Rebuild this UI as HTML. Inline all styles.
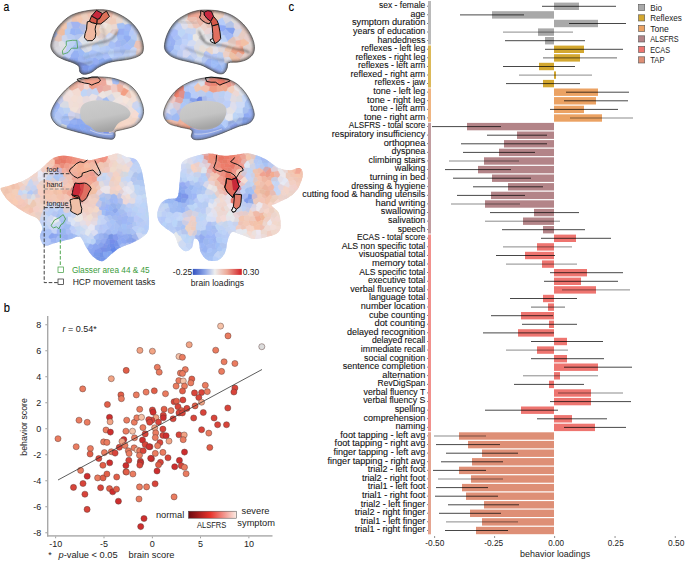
<!DOCTYPE html>
<html><head><meta charset="utf-8"><style>
html,body{margin:0;padding:0;background:#fff;overflow:hidden;width:685px;height:561px;}
svg{display:block;}
text{font-family:"Liberation Sans",sans-serif;fill:#222;}
.pl{font-size:13.5px;fill:#000;stroke:#000;stroke-width:0.12px;}
.lb{font-size:9.6px;fill:#111;stroke:#111;stroke-width:0.1px;}
.tk{font-size:9px;fill:#222;}
.ax{font-size:9.3px;fill:#222;}
.lg{font-size:9px;fill:#222;}
.sm{font-size:7.2px;fill:#222;}
.lgA{font-size:8.5px;fill:#222;}
</style></head><body>
<svg width="685" height="561" viewBox="0 0 685 561">
<rect width="685" height="561" fill="#fff"/>
<defs><filter id="bl" x="-30%" y="-30%" width="160%" height="160%"><feGaussianBlur stdDeviation="1.7"/></filter><filter id="bl2" x="-30%" y="-30%" width="160%" height="160%"><feGaussianBlur stdDeviation="0.5"/></filter><filter id="bl3" x="-30%" y="-30%" width="160%" height="160%"><feGaussianBlur stdDeviation="1.0"/></filter><linearGradient id="gGray" x1="0" y1="0" x2="0.3" y2="1"><stop offset="0" stop-color="#cdcdcd"/><stop offset="0.6" stop-color="#c4c4c4"/><stop offset="1" stop-color="#a4a4a4"/></linearGradient><linearGradient id="gBL" x1="0" x2="1"><stop offset="0" stop-color="#3452c0"/><stop offset="0.25" stop-color="#8fa8e8"/><stop offset="0.45" stop-color="#eeeeee"/><stop offset="0.7" stop-color="#eda896"/><stop offset="1" stop-color="#d21f26"/></linearGradient></defs>
<clipPath id="cLL"><path d="M50.9,47.3 C50.4,44.5 51.5,41.1 52.5,38.0 C53.5,34.9 54.4,31.7 56.8,28.4 C59.2,25.1 63.6,20.7 67.0,18.1 C70.4,15.5 73.1,14.3 77.2,13.0 C81.3,11.7 86.9,10.6 91.8,10.1 C96.7,9.6 102.0,9.5 106.4,10.1 C110.8,10.7 114.1,12.0 118.0,13.8 C121.9,15.6 126.4,18.2 129.8,21.1 C133.2,24.0 136.3,27.7 138.5,31.3 C140.7,35.0 142.2,39.6 142.9,43.0 C143.6,46.4 143.6,49.5 142.9,51.7 C142.2,53.9 140.7,54.9 138.5,56.1 C136.3,57.3 133.7,58.1 129.8,59.0 C125.9,59.9 119.1,60.5 115.2,61.2 C111.3,61.9 109.3,62.3 106.4,63.4 C103.5,64.5 100.0,66.3 97.6,67.8 C95.2,69.3 94.0,71.1 91.8,72.2 C89.6,73.3 86.5,74.3 84.5,74.3 C82.5,74.3 81.1,73.5 80.1,72.2 C79.1,70.9 79.9,67.9 78.7,66.3 C77.5,64.7 75.5,63.9 72.8,62.7 C70.1,61.5 65.5,60.4 62.6,59.0 C59.7,57.6 57.2,56.6 55.3,54.6 C53.3,52.6 51.4,50.1 50.9,47.3Z"/></clipPath><g clip-path="url(#cLL)"><path d="M50.9,47.3 C50.4,44.5 51.5,41.1 52.5,38.0 C53.5,34.9 54.4,31.7 56.8,28.4 C59.2,25.1 63.6,20.7 67.0,18.1 C70.4,15.5 73.1,14.3 77.2,13.0 C81.3,11.7 86.9,10.6 91.8,10.1 C96.7,9.6 102.0,9.5 106.4,10.1 C110.8,10.7 114.1,12.0 118.0,13.8 C121.9,15.6 126.4,18.2 129.8,21.1 C133.2,24.0 136.3,27.7 138.5,31.3 C140.7,35.0 142.2,39.6 142.9,43.0 C143.6,46.4 143.6,49.5 142.9,51.7 C142.2,53.9 140.7,54.9 138.5,56.1 C136.3,57.3 133.7,58.1 129.8,59.0 C125.9,59.9 119.1,60.5 115.2,61.2 C111.3,61.9 109.3,62.3 106.4,63.4 C103.5,64.5 100.0,66.3 97.6,67.8 C95.2,69.3 94.0,71.1 91.8,72.2 C89.6,73.3 86.5,74.3 84.5,74.3 C82.5,74.3 81.1,73.5 80.1,72.2 C79.1,70.9 79.9,67.9 78.7,66.3 C77.5,64.7 75.5,63.9 72.8,62.7 C70.1,61.5 65.5,60.4 62.6,59.0 C59.7,57.6 57.2,56.6 55.3,54.6 C53.3,52.6 51.4,50.1 50.9,47.3Z" fill="#e9dcd6"/><g fill="currentColor" stroke="currentColor" stroke-width="0.5"><path color="#edc3b4" d="M77,12 81,14 84,13 85,8 80,7 78,8Z"/><path color="#f3ccba" d="M84,13 85,8 86,6 89,7 89,12 87,14Z"/><path color="#f0c6b4" d="M89,7 92,6 96,8 96,9 94,13 89,12Z"/><path color="#eac0b1" d="M103,7 98,6 96,8 96,9 101,14 103,12Z"/><path color="#eab7a8" d="M106,6 109,10 108,12 103,12 103,7 106,5Z"/><path color="#eac0ae" d="M106,6 113,5 115,10 114,11 109,10Z"/><path color="#ead2c9" d="M119,15 124,10 124,8 120,6 117,10Z"/><path color="#ead5cf" d="M69,16 64,18 61,15 61,13 63,11 68,14Z"/><path color="#e7cfc9" d="M69,16 72,18 74,16 76,13 71,9 68,14Z"/><path color="#f0c6b1" d="M74,16 77,19 81,16 81,14 77,12 76,13Z"/><path color="#edcfbd" d="M81,14 84,13 87,14 89,18 89,19 83,20 81,16Z"/><path color="#f0c3b1" d="M87,14 89,12 94,13 94,15 89,18Z"/><path color="#eac3ba" d="M101,14 96,9 94,13 94,15 97,17 101,16Z"/><path color="#edb7a8" d="M108,12 107,16 103,18 101,16 101,14 103,12Z"/><path color="#edbaa8" d="M108,12 107,16 111,18 112,18 114,11 109,10Z"/><path color="#f0d2c3" d="M115,10 117,10 119,15 119,16 116,19 112,18 114,11Z"/><path color="#e7d5d5" d="M119,16 123,17 126,16 126,12 124,10 119,15Z"/><path color="#eaccba" d="M65,23 60,24 60,24 58,18 61,15 64,18Z"/><path color="#e1cfc9" d="M69,16 64,18 65,23 67,23 71,22 72,22 72,18Z"/><path color="#edc3ae" d="M72,18 72,22 78,22 77,19 74,16Z"/><path color="#f3c6ae" d="M81,16 77,19 78,22 81,24 81,24 83,20ZM100,28 101,24 96,22 92,23 93,28 98,29 99,29Z"/><path color="#edccc0" d="M83,20 81,24 86,25 91,23 89,19Z"/><path color="#edc9ba" d="M89,19 91,23 92,23 96,22 97,17 94,15 89,18Z"/><path color="#f0c6b7" d="M103,18 103,22 101,24 96,22 97,17 101,16Z"/><path color="#eacfc3" d="M107,16 111,18 109,24 108,24 103,22 103,18ZM144,47 145,51 141,53 139,49 143,46Z"/><path color="#f0ccba" d="M116,19 117,24 117,24 111,25 109,24 111,18 112,18Z"/><path color="#ead8cf" d="M119,16 123,17 123,23 117,24 116,19ZM140,41 143,46 144,47 151,44 143,38Z"/><path color="#dbdbde" d="M123,17 126,16 127,17 128,24 125,25 123,23Z"/><path color="#cfd8e4" d="M134,19 134,23 132,25 128,24 127,17 131,16Z"/><path color="#ccc6cf" d="M50,31 55,31 55,25 52,23 49,25 49,31Z"/><path color="#d5c6c3" d="M61,28 60,24 60,24 55,25 55,31 57,33Z"/><path color="#f0c6ae" d="M67,23 67,29 65,30 61,28 60,24 65,23Z"/><path color="#bdc9ea" d="M67,23 67,29 71,29 73,28 71,22Z"/><path color="#a2b4f0" d="M71,22 73,28 75,29 79,28 81,24 78,22 72,22Z"/><path color="#b1bde7" d="M86,25 86,29 84,34 79,28 81,24 81,24Z"/><path color="#d5c9cf" d="M86,25 86,29 92,30 93,28 92,23 91,23ZM49,48 42,43 19,50 46,50Z"/><path color="#f0e4de" d="M108,24 106,29 100,28 101,24 103,22Z"/><path color="#eaded2" d="M111,25 109,24 108,24 106,29 109,33 110,33 112,30Z"/><path color="#ead8d2" d="M111,25 117,24 118,29 112,30Z"/><path color="#a5c0f3" d="M117,24 117,24 118,29 119,29 124,29 125,25 123,23ZM78,51 74,51 72,47 75,44 81,48 81,49Z"/><path color="#9fb7f6" d="M130,31 131,30 132,25 128,24 125,25 124,29 124,30Z"/><path color="#bdccf3" d="M134,31 139,29 138,25 134,23 132,25 131,30Z"/><path color="#abbae7" d="M55,38 50,35 50,31 55,31 57,33 58,34Z"/><path color="#edbda2" d="M62,36 65,35 65,30 61,28 57,33 58,34Z"/><path color="#b4ccf6" d="M65,35 65,30 67,29 71,29 70,34 67,36Z"/><path color="#99b4f6" d="M71,29 70,34 75,36 76,35 75,29 73,28Z"/><path color="#9cb7f3" d="M84,34 84,34 79,28 75,29 76,35Z"/><path color="#cfccdb" d="M84,34 84,34 86,29 92,30 91,35 85,36 84,34Z"/><path color="#eac9ba" d="M92,30 93,28 98,29 95,35 93,36 91,35Z"/><path color="#edc6b1" d="M101,33 99,29 98,29 95,35 98,37Z"/><path color="#ead8cc" d="M106,36 109,33 106,29 100,28 99,29 101,33Z"/><path color="#dbc3c0" d="M117,35 119,29 118,29 112,30 110,33 114,35 117,36Z"/><path color="#96aef3" d="M124,35 117,35 119,29 124,29 124,30ZM93,64 97,65 98,65 99,60 95,57 93,58Z"/><path color="#99b7f6" d="M124,36 129,36 130,31 124,30 124,35Z"/><path color="#b4c9f9" d="M130,31 131,30 134,31 134,34 131,37 129,36ZM119,57 118,63 115,64 113,62 111,58 111,58 114,56Z"/><path color="#c3cced" d="M134,34 137,35 141,32 141,31 139,29 134,31Z"/><path color="#c6c3d2" d="M55,41 52,43 47,40 47,39 50,35 55,38Z"/><path color="#e4c3b7" d="M62,41 62,36 58,34 55,38 55,41 59,42Z"/><path color="#ccd5ed" d="M65,43 68,39 67,36 65,35 62,36 62,41Z"/><path color="#baccf3" d="M68,39 67,36 70,34 75,36 75,39 72,40Z"/><path color="#b4c6f0" d="M76,40 75,39 75,36 76,35 84,34 84,34 78,40Z"/><path color="#dee1ea" d="M78,40 84,34 85,36 86,38 82,44Z"/><path color="#e7dee4" d="M91,35 93,36 93,39 89,42 86,38 85,36Z"/><path color="#e4d8d8" d="M98,37 95,35 93,36 93,39 97,43 100,40Z"/><path color="#deccc9" d="M106,37 106,36 101,33 98,37 100,40 102,40ZM144,47 145,51 148,56 149,56 233,41 218,40 151,44Z"/><path color="#ccd5f3" d="M110,42 111,41 114,35 110,33 109,33 106,36 106,37Z"/><path color="#c0d2f3" d="M115,43 111,41 114,35 117,36 118,40Z"/><path color="#9fbaf6" d="M124,36 124,39 120,41 118,40 117,36 117,35 124,35ZM89,66 85,64 86,59 90,57 93,58 93,64Z"/><path color="#93aef3" d="M124,36 124,39 127,43 131,39 131,37 129,36Z"/><path color="#b7ccf3" d="M131,37 134,34 137,35 137,41 136,41 131,39Z"/><path color="#d8d5db" d="M137,35 137,41 140,41 143,38 144,36 141,32Z"/><path color="#d2cccc" d="M52,48 52,43 47,40 42,43 49,48Z"/><path color="#d5d2d8" d="M59,42 55,41 52,43 52,48 54,49 59,46Z"/><path color="#e1e1e4" d="M67,46 60,47 59,46 59,42 62,41 65,43Z"/><path color="#c3d8f6" d="M67,46 67,46 68,46 72,40 68,39 65,43Z"/><path color="#bdd2f3" d="M68,46 72,47 75,44 76,40 75,39 72,40Z"/><path color="#abc3f6" d="M76,40 75,44 81,48 83,46 82,44 78,40Z"/><path color="#d5deea" d="M82,44 86,38 89,42 89,44 85,46 83,46Z"/><path color="#e4e1e1" d="M96,43 97,43 93,39 89,42 89,44 92,46Z"/><path color="#c0cfe1" d="M105,46 100,48 96,43 97,43 100,40 102,40Z"/><path color="#c9cfe1" d="M108,46 110,42 106,37 102,40 105,46 106,46Z"/><path color="#a8c0f6" d="M116,47 113,49 111,49 108,46 110,42 111,41 115,43Z"/><path color="#a2b7f3" d="M121,46 120,47 116,47 115,43 118,40 120,41Z"/><path color="#9cb7f0" d="M127,43 124,39 120,41 121,46 123,46 127,43Z"/><path color="#a5c0f0" d="M127,43 131,39 136,41 134,47 132,48 127,43Z"/><path color="#eac3b7" d="M137,41 136,41 134,47 137,49 139,49 143,46 140,41Z"/><path color="#d2cccf" d="M54,49 52,48 49,48 46,50 49,55 54,50Z"/><path color="#d8d8de" d="M60,47 60,52 57,53 54,50 54,49 59,46Z"/><path color="#dedee4" d="M67,46 67,46 66,51 64,52 60,52 60,47Z"/><path color="#bdcff9" d="M67,46 68,46 72,47 74,51 71,55 66,51Z"/><path color="#d2d8e7" d="M85,53 81,49 81,48 83,46 85,46 89,52 89,52Z"/><path color="#dbdee7" d="M92,50 92,46 89,44 85,46 89,52Z"/><path color="#bdd2f6" d="M98,52 99,52 100,48 96,43 92,46 92,50Z"/><path color="#b7ccf6" d="M105,53 103,54 99,52 100,48 105,46 106,46Z"/><path color="#b1c9f9" d="M108,53 111,49 108,46 106,46 105,53Z"/><path color="#aec3f6" d="M116,47 113,49 114,53 120,52 120,47Z"/><path color="#a5bdf3" d="M121,46 120,47 120,52 123,56 123,56 126,50 123,46Z"/><path color="#a5bdf9" d="M127,43 132,48 130,50 130,50 126,50 123,46Z"/><path color="#c6d5f6" d="M135,55 130,50 132,48 134,47 137,49 136,55ZM135,55 131,58 129,57 130,50 130,50Z"/><path color="#d2d2de" d="M54,50 49,55 49,57 56,58 57,58 57,53Z"/><path color="#cfd2de" d="M64,52 64,56 60,60 57,58 57,53 60,52Z"/><path color="#c0cff9" d="M64,52 64,56 69,59 71,57 71,55 66,51Z"/><path color="#96b1f3" d="M78,58 80,56 78,51 74,51 71,55 71,57 73,58Z"/><path color="#9cbaf6" d="M83,56 85,53 81,49 78,51 80,56Z"/><path color="#a2c0f3" d="M86,59 83,56 85,53 89,52 90,57Z"/><path color="#abc3f9" d="M90,57 89,52 89,52 92,50 98,52 95,57 93,58Z"/><path color="#a2bdf3" d="M98,52 99,52 103,54 103,58 99,60 95,57Z"/><path color="#abc0f9" d="M108,53 111,58 111,58 105,60 103,58 103,54 105,53Z"/><path color="#bad2f9" d="M108,53 111,58 114,56 114,53 113,49 111,49Z"/><path color="#b1c6f6" d="M120,52 114,53 114,56 119,57 123,56Z"/><path color="#baccf0" d="M123,56 126,50 130,50 129,57 125,57Z"/><path color="#eacfc6" d="M136,55 139,57 141,56 141,53 139,49 137,49Z"/><path color="#e4ccc6" d="M145,51 141,53 141,56 148,56Z"/><path color="#a8bdea" d="M69,59 67,63 64,64 61,62 60,60 64,56Z"/><path color="#93abf0" d="M74,64 69,65 67,63 69,59 71,57 73,58Z"/><path color="#8da8f0" d="M76,65 79,62 78,58 73,58 74,64Z"/><path color="#9fb7f3" d="M79,62 85,64 85,64 86,59 83,56 80,56 78,58Z"/><path color="#8dabf0" d="M103,58 105,60 105,65 103,67 98,65 99,60Z"/><path color="#8daef3" d="M111,58 105,60 105,65 108,66 113,62Z"/><path color="#b7ccf0" d="M123,56 123,56 125,57 125,61 121,64 118,63 119,57Z"/><path color="#c9d5e4" d="M125,57 129,57 131,58 133,63 128,65 125,61Z"/><path color="#cfd2e4" d="M135,55 131,58 133,63 136,64 139,63 139,57 136,55Z"/><path color="#96aeed" d="M76,65 76,68 75,69 70,68 69,65 74,64Z"/><path color="#7e96e7" d="M76,65 76,68 79,70 82,69 85,64 79,62Z"/><path color="#7b96e7" d="M89,66 89,67 88,72 87,72 82,69 85,64 85,64Z"/><path color="#84a2f0" d="M89,66 89,67 94,70 97,68 97,65 93,64Z"/><path color="#8dabf3" d="M97,65 98,65 103,67 103,67 99,71 97,68Z"/><path color="#9cbaf0" d="M113,62 108,66 111,70 114,70 115,68 115,64Z"/><path color="#c6cce7" d="M125,61 128,65 127,69 127,69 122,68 121,64Z"/><path color="#7e99e4" d="M76,68 75,69 73,74 75,76 80,74 79,70Z"/><path color="#7893e4" d="M82,69 87,72 82,76 80,74 79,70Z"/><path color="#81a2f3" d="M88,72 91,75 95,74 94,70 89,67Z"/><path color="#87a5f3" d="M94,70 95,74 98,75 98,75 99,71 97,68Z"/><path color="#90aef3" d="M103,67 99,71 98,75 103,76 105,73Z"/><path color="#7893e7" d="M87,72 82,76 86,93 91,75 88,72Z"/></g><path d="M80,47 C88,44.5 96,43 104,41.5 S114,37 117,32" fill="none" stroke="#3a3a3a" stroke-linecap="round" filter="url(#bl3)" stroke-width="2.0" stroke-opacity="0.55"/><path d="M80,45 C88,42.5 96,41 104,39.5 S112,35 115,31" fill="none" stroke="#fff" stroke-linecap="round" filter="url(#bl3)" stroke-width="2" stroke-opacity="0.5"/><path d="M84,58 C96,54 112,50 138,52" fill="none" stroke="#4a4a4a" stroke-linecap="round" filter="url(#bl3)" stroke-width="1.2" stroke-opacity="0.35"/><path d="M62,59 C68,61 74,62.5 80,63.5 S88,63 92,62" fill="none" stroke="#4a4a4a" stroke-linecap="round" filter="url(#bl3)" stroke-width="1.4" stroke-opacity="0.45"/><path d="M100,22 C104,30 106,36 104,42" fill="none" stroke="#4a4a4a" stroke-linecap="round" filter="url(#bl3)" stroke-width="1.2" stroke-opacity="0.35"/><path d="M50.9,47.3 C50.4,44.5 51.5,41.1 52.5,38.0 C53.5,34.9 54.4,31.7 56.8,28.4 C59.2,25.1 63.6,20.7 67.0,18.1 C70.4,15.5 73.1,14.3 77.2,13.0 C81.3,11.7 86.9,10.6 91.8,10.1 C96.7,9.6 102.0,9.5 106.4,10.1 C110.8,10.7 114.1,12.0 118.0,13.8 C121.9,15.6 126.4,18.2 129.8,21.1 C133.2,24.0 136.3,27.7 138.5,31.3 C140.7,35.0 142.2,39.6 142.9,43.0 C143.6,46.4 143.6,49.5 142.9,51.7 C142.2,53.9 140.7,54.9 138.5,56.1 C136.3,57.3 133.7,58.1 129.8,59.0 C125.9,59.9 119.1,60.5 115.2,61.2 C111.3,61.9 109.3,62.3 106.4,63.4 C103.5,64.5 100.0,66.3 97.6,67.8 C95.2,69.3 94.0,71.1 91.8,72.2 C89.6,73.3 86.5,74.3 84.5,74.3 C82.5,74.3 81.1,73.5 80.1,72.2 C79.1,70.9 79.9,67.9 78.7,66.3 C77.5,64.7 75.5,63.9 72.8,62.7 C70.1,61.5 65.5,60.4 62.6,59.0 C59.7,57.6 57.2,56.6 55.3,54.6 C53.3,52.6 51.4,50.1 50.9,47.3Z" fill="none" stroke="#3a3a3a" stroke-opacity="0.6" stroke-width="3.5" filter="url(#bl3)"/></g><path d="M50.9,47.3 C50.4,44.5 51.5,41.1 52.5,38.0 C53.5,34.9 54.4,31.7 56.8,28.4 C59.2,25.1 63.6,20.7 67.0,18.1 C70.4,15.5 73.1,14.3 77.2,13.0 C81.3,11.7 86.9,10.6 91.8,10.1 C96.7,9.6 102.0,9.5 106.4,10.1 C110.8,10.7 114.1,12.0 118.0,13.8 C121.9,15.6 126.4,18.2 129.8,21.1 C133.2,24.0 136.3,27.7 138.5,31.3 C140.7,35.0 142.2,39.6 142.9,43.0 C143.6,46.4 143.6,49.5 142.9,51.7 C142.2,53.9 140.7,54.9 138.5,56.1 C136.3,57.3 133.7,58.1 129.8,59.0 C125.9,59.9 119.1,60.5 115.2,61.2 C111.3,61.9 109.3,62.3 106.4,63.4 C103.5,64.5 100.0,66.3 97.6,67.8 C95.2,69.3 94.0,71.1 91.8,72.2 C89.6,73.3 86.5,74.3 84.5,74.3 C82.5,74.3 81.1,73.5 80.1,72.2 C79.1,70.9 79.9,67.9 78.7,66.3 C77.5,64.7 75.5,63.9 72.8,62.7 C70.1,61.5 65.5,60.4 62.6,59.0 C59.7,57.6 57.2,56.6 55.3,54.6 C53.3,52.6 51.4,50.1 50.9,47.3Z" fill="none" stroke="#4a4a4a" stroke-width="0.7"/>
<path d="M91.5,16.1 L96.5,10.3 L102.6,13.6 L99.4,18.9 L97.3,19.3Z" fill="#c8283c" stroke="#111" stroke-width="1.0" stroke-linejoin="round"/><path d="M91.5,16.1 L97.3,19.3 L96.9,23.9 L92.3,22.8 L89.4,21.4Z" fill="#d65848" stroke="#111" stroke-width="1.0" stroke-linejoin="round"/><path d="M102.6,13.6 L106.5,11.1 L109.4,16.4 L105.8,20.0 L100.8,23.9 L96.9,23.9 L97.3,19.3 L99.4,18.9Z" fill="#dc7058" stroke="#111" stroke-width="1.0" stroke-linejoin="round"/><path d="M87.3,21.8 L89.4,21.4 L92.3,22.8 L96.9,23.9 L95.8,25.7 L95.1,29.2 L95.8,33.5 L95.1,37.8 L92.3,40.7 L87.3,40.7 L84.4,37.8 L85.1,33.5 L86.6,29.2 L86.9,25.0Z" fill="#f0b8a0" stroke="#111" stroke-width="1.0" stroke-linejoin="round"/>
<path d="M66.3,41.2 L72.4,40.3 L76.8,40.3 L77.7,48.2 L71.5,48.2 L68.0,52.6 L62.8,54.3 L62.4,50.8 L66.3,45.5Z" fill="none" stroke="#3a9a3a" stroke-width="0.7" stroke-linejoin="round"/>
<clipPath id="cRL"><path d="M164.4,47.3 C164.2,43.9 165.6,38.3 167.3,34.2 C169.0,30.1 171.7,25.7 174.6,22.5 C177.5,19.3 181.2,17.1 184.8,15.2 C188.5,13.2 192.6,11.7 196.5,10.8 C200.4,10.0 204.1,10.0 208.2,10.1 C212.3,10.2 217.2,10.6 221.3,11.6 C225.4,12.6 229.3,13.9 233.0,16.0 C236.7,18.1 240.3,21.0 243.2,24.0 C246.1,27.0 248.7,30.8 250.5,34.2 C252.3,37.6 253.7,41.2 254.2,44.4 C254.7,47.6 254.5,50.8 253.4,53.2 C252.3,55.6 250.0,57.5 247.6,59.0 C245.2,60.5 242.0,61.3 238.8,61.9 C235.6,62.5 230.5,61.7 228.6,62.7 C226.7,63.7 227.9,66.1 227.2,67.8 C226.5,69.5 225.7,71.9 224.2,72.9 C222.7,73.9 220.8,74.2 218.4,73.6 C216.0,73.0 212.5,70.7 209.6,69.2 C206.7,67.8 204.3,66.1 200.9,64.9 C197.5,63.7 193.1,62.9 189.2,61.9 C185.3,60.9 180.9,60.2 177.5,59.0 C174.1,57.8 171.0,56.6 168.8,54.6 C166.6,52.6 164.7,50.7 164.4,47.3Z"/></clipPath><g clip-path="url(#cRL)"><path d="M164.4,47.3 C164.2,43.9 165.6,38.3 167.3,34.2 C169.0,30.1 171.7,25.7 174.6,22.5 C177.5,19.3 181.2,17.1 184.8,15.2 C188.5,13.2 192.6,11.7 196.5,10.8 C200.4,10.0 204.1,10.0 208.2,10.1 C212.3,10.2 217.2,10.6 221.3,11.6 C225.4,12.6 229.3,13.9 233.0,16.0 C236.7,18.1 240.3,21.0 243.2,24.0 C246.1,27.0 248.7,30.8 250.5,34.2 C252.3,37.6 253.7,41.2 254.2,44.4 C254.7,47.6 254.5,50.8 253.4,53.2 C252.3,55.6 250.0,57.5 247.6,59.0 C245.2,60.5 242.0,61.3 238.8,61.9 C235.6,62.5 230.5,61.7 228.6,62.7 C226.7,63.7 227.9,66.1 227.2,67.8 C226.5,69.5 225.7,71.9 224.2,72.9 C222.7,73.9 220.8,74.2 218.4,73.6 C216.0,73.0 212.5,70.7 209.6,69.2 C206.7,67.8 204.3,66.1 200.9,64.9 C197.5,63.7 193.1,62.9 189.2,61.9 C185.3,60.9 180.9,60.2 177.5,59.0 C174.1,57.8 171.0,56.6 168.8,54.6 C166.6,52.6 164.7,50.7 164.4,47.3Z" fill="#e4e2e6"/><g fill="currentColor" stroke="currentColor" stroke-width="0.5"><path color="#eab7a8" d="M188,13 192,12 192,6 187,5 186,7 185,11ZM204,23 201,18 197,18 196,20 200,27 200,27Z"/><path color="#eaa593" d="M192,12 195,13 198,11 198,7 193,6 192,6Z"/><path color="#eaa596" d="M198,11 198,7 200,5 204,7 204,11 202,12Z"/><path color="#e7a593" d="M205,11 204,11 204,7 208,4 209,5 210,11Z"/><path color="#e19c8d" d="M215,11 214,13 210,11 209,5 216,7 216,7Z"/><path color="#eac6ba" d="M224,12 225,7 218,6 216,7 215,11 216,12Z"/><path color="#e7ccc9" d="M225,13 230,14 230,8 226,6 225,7 224,12Z"/><path color="#ded2db" d="M230,14 230,8 233,8 235,9 231,15Z"/><path color="#d8d5e4" d="M178,21 181,16 181,14 179,12 175,14 174,16Z"/><path color="#e1d8d5" d="M188,13 188,18 187,19 186,20 181,16 181,14 185,11Z"/><path color="#eda896" d="M188,13 188,18 195,17 195,13 192,12Z"/><path color="#f0a896" d="M197,18 201,18 201,18 202,12 198,11 195,13 195,17Z"/><path color="#e7ab9f" d="M201,18 207,17 205,11 204,11 202,12Z"/><path color="#e4a899" d="M209,19 207,17 205,11 210,11 214,13 213,16Z"/><path color="#edcfbd" d="M216,12 215,11 214,13 213,16 217,21 222,18Z"/><path color="#edccbd" d="M225,13 223,18 222,18 216,12 224,12Z"/><path color="#ded8e4" d="M225,13 230,14 231,15 232,17 223,18 223,18Z"/><path color="#dbd5db" d="M232,17 232,17 234,17 238,15 236,9 235,9 231,15Z"/><path color="#bdcff3" d="M170,21 177,23 178,23 178,21 174,16 170,19Z"/><path color="#dbdbe1" d="M178,23 181,24 185,21 186,20 181,16 178,21Z"/><path color="#edd8d2" d="M187,19 186,20 185,21 188,25 192,23 192,23Z"/><path color="#eabdae" d="M197,18 196,20 192,23 187,19 188,18 195,17Z"/><path color="#eab4a2" d="M204,23 201,18 201,18 207,17 209,19 209,21 205,23Z"/><path color="#d5c6d5" d="M217,23 217,21 213,16 209,19 209,21 213,26Z"/><path color="#b7ccf9" d="M219,25 226,26 226,24 223,18 223,18 222,18 217,21 217,23Z"/><path color="#d5d5e1" d="M231,21 232,17 232,17 223,18 226,24Z"/><path color="#dedbdb" d="M238,23 234,17 232,17 231,21 234,24Z"/><path color="#e1d5d2" d="M240,23 242,20 242,19 240,15 238,15 234,17 238,23ZM278,42 256,42 256,47 263,49 290,45Z"/><path color="#dbccc9" d="M248,23 250,17 248,17 242,19 242,20 247,24Z"/><path color="#9fb7f0" d="M169,23 171,30 171,30 165,29 163,27 163,23Z"/><path color="#bacff6" d="M170,21 177,23 175,29 171,30 169,23Z"/><path color="#c0cff6" d="M177,23 175,29 178,31 183,29 181,24 178,23ZM188,46 194,46 195,52 191,54 187,49Z"/><path color="#dedeea" d="M185,30 188,28 188,25 185,21 181,24 183,29Z"/><path color="#ead8d5" d="M188,28 192,29 194,28 192,23 188,25Z"/><path color="#edc6ba" d="M192,23 192,23 194,28 196,29 200,27 196,20Z"/><path color="#edd2c9" d="M204,23 200,27 204,32 208,28 205,23Z"/><path color="#e7c3b7" d="M205,23 209,21 213,26 212,28 208,28Z"/><path color="#b4c0ed" d="M217,32 212,29 212,28 213,26 217,23 219,25 218,31Z"/><path color="#90abf6" d="M218,31 219,25 226,26 226,28 226,29 223,32Z"/><path color="#b4c3e7" d="M234,24 231,21 226,24 226,26 226,28 234,28Z"/><path color="#ded5de" d="M240,23 241,29 235,30 234,28 234,24 238,23Z"/><path color="#dbc9c9" d="M245,27 242,30 241,29 240,23 242,20 247,24Z"/><path color="#dbc9c3" d="M252,30 245,27 247,24 248,23 252,26 252,29Z"/><path color="#99b7f6" d="M171,30 170,34 166,36 164,35 165,29Z"/><path color="#a8bdf9" d="M171,30 175,29 178,31 178,35 173,38 170,34 171,30Z"/><path color="#bdd5f6" d="M181,38 186,33 185,30 183,29 178,31 178,35Z"/><path color="#c6d5f3" d="M185,30 188,28 192,29 190,34 188,34 186,33Z"/><path color="#c9d5f0" d="M196,29 194,28 192,29 190,34 193,35 196,34Z"/><path color="#e1dede" d="M200,27 200,27 196,29 196,34 199,37 205,34 204,32Z"/><path color="#ead5d5" d="M205,35 205,34 204,32 208,28 212,28 212,29 210,34Z"/><path color="#cfcfe1" d="M210,34 212,29 217,32 216,35 214,37Z"/><path color="#aec6f3" d="M216,35 222,37 223,35 223,32 218,31 217,32Z"/><path color="#9fb7f3" d="M223,35 225,36 230,33 226,29 223,32Z"/><path color="#84a2f0" d="M226,29 226,28 234,28 235,30 233,35 230,33Z"/><path color="#cfd5ea" d="M235,30 233,35 233,37 234,37 238,37 242,31 242,30 241,29Z"/><path color="#e4c9c0" d="M252,30 249,34 246,34 242,31 242,30 245,27Z"/><path color="#dbd2cc" d="M252,30 249,34 253,38 258,35 257,31 252,29Z"/><path color="#99aef0" d="M164,35 166,36 166,40 158,42 163,35Z"/><path color="#99b1f3" d="M173,38 173,38 170,34 166,36 166,40 166,41 170,41ZM174,46 175,45 176,41 173,38 170,41 171,45Z"/><path color="#a8c0f6" d="M176,41 181,39 181,38 178,35 173,38 173,38Z"/><path color="#baccf6" d="M181,38 186,33 188,34 188,40 182,39 181,39Z"/><path color="#bad2fc" d="M193,40 193,35 190,34 188,34 188,40 189,41Z"/><path color="#eae7e4" d="M196,42 199,39 199,37 196,34 193,35 193,40Z"/><path color="#c9c9cc" d="M205,35 205,34 199,37 199,39 204,42 206,39Z"/><path color="#d8d8de" d="M205,35 210,34 214,37 214,40 211,42 206,39Z"/><path color="#bacced" d="M214,40 215,41 220,41 222,37 216,35 214,37Z"/><path color="#bdd2f6" d="M223,35 225,36 228,41 228,42 222,43 220,41 222,37Z"/><path color="#a2baf6" d="M225,36 230,33 233,35 233,37 228,41Z"/><path color="#e7d2cf" d="M241,40 241,40 238,37 234,37 236,41Z"/><path color="#e7ccc3" d="M246,34 242,31 238,37 241,40 244,39Z"/><path color="#e7cfcc" d="M253,38 253,39 249,43 244,39 246,34 249,34Z"/><path color="#dbcfcf" d="M258,35 278,42 256,42 253,39 253,38Z"/><path color="#96b1f3" d="M166,40 166,41 165,46 158,45 156,43 158,42Z"/><path color="#99b4f0" d="M171,45 170,41 166,41 165,46 166,47ZM166,50 163,52 163,56 167,58 171,56 170,53Z"/><path color="#aec6f6" d="M180,46 175,45 176,41 181,39 182,39 182,44Z"/><path color="#c0d2f9" d="M187,46 189,41 188,40 182,39 182,44Z"/><path color="#d2dbf3" d="M188,46 194,46 196,44 196,42 193,40 189,41 187,46Z"/><path color="#dedee4" d="M196,44 200,46 203,45 204,42 199,39 196,42ZM196,52 195,52 194,46 196,44 200,46 199,51Z"/><path color="#e1e1e4" d="M206,49 203,45 204,42 206,39 211,42 210,47Z"/><path color="#e4e1e4" d="M210,47 211,42 214,40 215,41 217,47 213,49Z"/><path color="#c9d8f6" d="M217,47 215,41 220,41 222,43 222,46 218,48Z"/><path color="#e4d2d8" d="M228,42 229,45 225,49 222,46 222,43Z"/><path color="#dec3ba" d="M228,42 229,45 233,47 236,46 236,41 234,37 233,37 228,41Z"/><path color="#f3b7a5" d="M241,40 236,41 236,46 238,47 241,46Z"/><path color="#f3c0a5" d="M241,40 241,40 244,39 249,43 249,44 243,47 241,46Z"/><path color="#e4dbd8" d="M253,39 256,42 256,47 251,48 249,44 249,43Z"/><path color="#8da5ea" d="M166,50 163,52 160,51 158,45 165,46 166,47Z"/><path color="#93aef0" d="M174,46 174,49 170,53 166,50 166,47 171,45Z"/><path color="#b4ccf9" d="M181,50 178,51 174,49 174,46 175,45 180,46Z"/><path color="#c3cff6" d="M188,46 187,49 183,51 181,50 180,46 182,44 187,46Z"/><path color="#e7ded8" d="M206,51 204,53 199,51 200,46 203,45 206,49Z"/><path color="#ead5c9" d="M206,51 212,55 213,54 213,49 210,47 206,49Z"/><path color="#e4e1ea" d="M213,49 217,47 218,48 219,52 217,54 213,54Z"/><path color="#e1d8db" d="M218,48 222,46 225,49 225,51 223,53 219,52Z"/><path color="#edc6b1" d="M225,49 229,45 233,47 231,52 230,53 225,51Z"/><path color="#eda58a" d="M236,55 231,52 233,47 236,46 238,47 238,52Z"/><path color="#f09f84" d="M238,52 238,47 241,46 243,47 245,53 243,55Z"/><path color="#e1d2cf" d="M249,54 251,50 251,48 249,44 243,47 245,53Z"/><path color="#e4d2cc" d="M258,54 263,49 256,47 251,48 251,50Z"/><path color="#abc3f3" d="M177,58 174,59 171,56 170,53 174,49 178,51Z"/><path color="#bdccf3" d="M181,50 178,51 177,58 182,58 183,58 183,51Z"/><path color="#d5d8f0" d="M190,55 191,54 187,49 183,51 183,58 187,58Z"/><path color="#c6d2f0" d="M198,57 196,52 195,52 191,54 190,55 195,60Z"/><path color="#dbe1e4" d="M204,56 202,58 198,57 196,52 199,51 204,53Z"/><path color="#b7c6f6" d="M206,51 204,53 204,56 208,59 211,59 212,55Z"/><path color="#b7c9f6" d="M213,54 217,54 218,60 212,59 211,59 212,55ZM198,68 198,64 194,63 193,63 191,68 195,70Z"/><path color="#baccf0" d="M218,60 224,58 223,53 219,52 217,54 218,60Z"/><path color="#edcfc6" d="M224,58 224,58 229,57 230,53 225,51 223,53Z"/><path color="#edc0a5" d="M236,56 232,61 229,57 230,53 231,52 236,55Z"/><path color="#e4bdb4" d="M236,56 240,59 243,56 243,55 238,52 236,55Z"/><path color="#e4cfc9" d="M245,60 243,56 243,55 245,53 249,54 250,56ZM245,64 240,62 240,59 243,56 245,60Z"/><path color="#e4d2cf" d="M250,56 249,54 251,50 258,54 257,55 252,58Z"/><path color="#b1c6f6" d="M182,58 182,63 177,65 174,62 174,59 177,58Z"/><path color="#b7ccf6" d="M188,62 185,67 185,67 182,63 182,58 183,58 187,58Z"/><path color="#b4c9f3" d="M194,63 195,60 190,55 187,58 188,62 193,63Z"/><path color="#cfdbf3" d="M198,64 202,63 202,58 198,57 195,60 194,63Z"/><path color="#b7c9f0" d="M208,59 204,64 202,63 202,58 204,56Z"/><path color="#9cb4f3" d="M211,65 212,59 211,59 208,59 204,64 205,65 211,65Z"/><path color="#9fbdf6" d="M211,65 212,59 218,60 218,60 219,63Z"/><path color="#aec3f0" d="M219,63 218,60 224,58 224,58 225,63 221,66 219,64Z"/><path color="#dbdbe7" d="M225,63 230,65 233,63 232,61 229,57 224,58Z"/><path color="#f0bda5" d="M236,64 233,63 232,61 236,56 240,59 240,62Z"/><path color="#e1cfc6" d="M245,64 249,65 252,62 252,58 250,56 245,60 245,64Z"/><path color="#b4c9f6" d="M191,68 189,69 185,67 188,62 193,63Z"/><path color="#b1c9f6" d="M201,72 204,68 205,65 204,64 202,63 198,64 198,68Z"/><path color="#9cb4f6" d="M212,69 209,71 204,68 205,65 211,65Z"/><path color="#9fbdf9" d="M213,69 215,68 219,64 219,63 211,65 211,65 212,69Z"/><path color="#96b4f0" d="M215,68 221,71 223,70 221,66 219,64Z"/><path color="#a2bdf3" d="M221,66 223,70 225,70 230,66 230,65 225,63Z"/><path color="#e1c9c3" d="M245,64 243,68 239,71 238,70 236,64 240,62 245,64Z"/><path color="#a5c0f3" d="M201,72 204,68 209,71 207,75 203,75 201,73Z"/><path color="#9cb7ed" d="M213,69 215,75 209,77 207,75 209,71 212,69Z"/><path color="#93abf0" d="M213,69 215,75 215,75 219,75 221,71 215,68Z"/><path color="#abc0f9" d="M221,71 219,75 223,79 228,75 225,70 223,70Z"/><path color="#b4c3f0" d="M231,75 232,70 230,66 225,70 228,75 230,75Z"/></g><path d="M199.4,31.6 C201,35 202,39 205,42 S212,44 218,44.5 S232,48 240,49.6 S246,51 249,52.4" fill="none" stroke="#3a3a3a" stroke-linecap="round" filter="url(#bl3)" stroke-width="2.0" stroke-opacity="0.6"/><path d="M201,30 C203,34 204,37 207,40 S214,42 220,42.5 S232,46 240,47.6" fill="none" stroke="#fff" stroke-linecap="round" filter="url(#bl3)" stroke-width="2" stroke-opacity="0.5"/><path d="M185.6,48.2 C190,50 194,51.5 197,52.4 S204,55 208,56.5 S220,60 225,60.7" fill="none" stroke="#4a4a4a" stroke-linecap="round" filter="url(#bl3)" stroke-width="1.3" stroke-opacity="0.45"/><path d="M180,21.9 C186,22.5 192,23 197,23.3" fill="none" stroke="#4a4a4a" stroke-linecap="round" filter="url(#bl3)" stroke-width="1.0" stroke-opacity="0.35"/><path d="M164.4,47.3 C164.2,43.9 165.6,38.3 167.3,34.2 C169.0,30.1 171.7,25.7 174.6,22.5 C177.5,19.3 181.2,17.1 184.8,15.2 C188.5,13.2 192.6,11.7 196.5,10.8 C200.4,10.0 204.1,10.0 208.2,10.1 C212.3,10.2 217.2,10.6 221.3,11.6 C225.4,12.6 229.3,13.9 233.0,16.0 C236.7,18.1 240.3,21.0 243.2,24.0 C246.1,27.0 248.7,30.8 250.5,34.2 C252.3,37.6 253.7,41.2 254.2,44.4 C254.7,47.6 254.5,50.8 253.4,53.2 C252.3,55.6 250.0,57.5 247.6,59.0 C245.2,60.5 242.0,61.3 238.8,61.9 C235.6,62.5 230.5,61.7 228.6,62.7 C226.7,63.7 227.9,66.1 227.2,67.8 C226.5,69.5 225.7,71.9 224.2,72.9 C222.7,73.9 220.8,74.2 218.4,73.6 C216.0,73.0 212.5,70.7 209.6,69.2 C206.7,67.8 204.3,66.1 200.9,64.9 C197.5,63.7 193.1,62.9 189.2,61.9 C185.3,60.9 180.9,60.2 177.5,59.0 C174.1,57.8 171.0,56.6 168.8,54.6 C166.6,52.6 164.7,50.7 164.4,47.3Z" fill="none" stroke="#3a3a3a" stroke-opacity="0.6" stroke-width="3.5" filter="url(#bl3)"/></g><path d="M164.4,47.3 C164.2,43.9 165.6,38.3 167.3,34.2 C169.0,30.1 171.7,25.7 174.6,22.5 C177.5,19.3 181.2,17.1 184.8,15.2 C188.5,13.2 192.6,11.7 196.5,10.8 C200.4,10.0 204.1,10.0 208.2,10.1 C212.3,10.2 217.2,10.6 221.3,11.6 C225.4,12.6 229.3,13.9 233.0,16.0 C236.7,18.1 240.3,21.0 243.2,24.0 C246.1,27.0 248.7,30.8 250.5,34.2 C252.3,37.6 253.7,41.2 254.2,44.4 C254.7,47.6 254.5,50.8 253.4,53.2 C252.3,55.6 250.0,57.5 247.6,59.0 C245.2,60.5 242.0,61.3 238.8,61.9 C235.6,62.5 230.5,61.7 228.6,62.7 C226.7,63.7 227.9,66.1 227.2,67.8 C226.5,69.5 225.7,71.9 224.2,72.9 C222.7,73.9 220.8,74.2 218.4,73.6 C216.0,73.0 212.5,70.7 209.6,69.2 C206.7,67.8 204.3,66.1 200.9,64.9 C197.5,63.7 193.1,62.9 189.2,61.9 C185.3,60.9 180.9,60.2 177.5,59.0 C174.1,57.8 171.0,56.6 168.8,54.6 C166.6,52.6 164.7,50.7 164.4,47.3Z" fill="none" stroke="#4a4a4a" stroke-width="0.7"/>
<path d="M200.7,10.7 L204.3,12.1 L204.3,15.0 L207.1,18.5 L210.7,21.4 L209.3,23.9 L205.7,22.8 L201.4,20.0 L199.6,17.5 L200.7,14.3Z" fill="#e09080" stroke="#111" stroke-width="1.0" stroke-linejoin="round"/><path d="M204.3,12.1 L207.8,10.7 L211.4,11.4 L213.5,16.4 L210.7,21.4 L207.1,18.5 L204.3,15.0Z" fill="#c82a40" stroke="#111" stroke-width="1.0" stroke-linejoin="round"/><path d="M213.5,16.4 L217.1,20.7 L218.5,24.3 L212.1,26.0 L210.7,21.4Z" fill="#d45848" stroke="#111" stroke-width="1.0" stroke-linejoin="round"/><path d="M212.1,26.0 L218.5,24.3 L220.0,32.1 L220.7,38.5 L218.5,41.4 L215.0,43.5 L212.8,39.9 L212.8,33.5Z" fill="#e07060" stroke="#111" stroke-width="1.0" stroke-linejoin="round"/><path d="M210.0,39.9 L212.8,38.5 L215.0,43.5 L211.4,42.1Z" fill="#e4e4e4" stroke="#111" stroke-width="1.0" stroke-linejoin="round"/>
<clipPath id="cLM"><path d="M50.9,115.5 C50.4,112.2 52.0,108.8 54.0,105.0 C56.0,101.2 59.3,96.6 62.8,92.8 C66.3,89.0 70.9,84.8 75.0,82.3 C79.1,79.8 82.9,78.8 87.3,77.9 C91.7,77.0 96.6,76.8 101.3,77.0 C106.0,77.2 110.6,77.5 115.3,78.8 C120.0,80.1 125.5,82.3 129.3,84.9 C133.1,87.5 135.8,90.6 138.1,94.5 C140.4,98.4 142.8,104.4 143.4,108.5 C144.0,112.6 143.1,116.1 141.6,119.0 C140.1,121.9 137.8,124.2 134.6,126.0 C131.4,127.8 125.5,128.7 122.3,129.6 C119.1,130.5 116.7,130.4 115.5,131.5 C114.3,132.6 115.6,134.7 115.0,136.0 C114.4,137.3 114.5,138.9 112.0,139.2 C109.5,139.5 104.3,138.6 100.0,137.8 C95.7,137.0 91.0,135.5 86.0,134.2 C81.0,132.9 74.8,131.5 70.0,130.0 C65.2,128.5 60.2,127.4 57.0,125.0 C53.8,122.6 51.4,118.8 50.9,115.5Z"/></clipPath><g clip-path="url(#cLM)"><path d="M50.9,115.5 C50.4,112.2 52.0,108.8 54.0,105.0 C56.0,101.2 59.3,96.6 62.8,92.8 C66.3,89.0 70.9,84.8 75.0,82.3 C79.1,79.8 82.9,78.8 87.3,77.9 C91.7,77.0 96.6,76.8 101.3,77.0 C106.0,77.2 110.6,77.5 115.3,78.8 C120.0,80.1 125.5,82.3 129.3,84.9 C133.1,87.5 135.8,90.6 138.1,94.5 C140.4,98.4 142.8,104.4 143.4,108.5 C144.0,112.6 143.1,116.1 141.6,119.0 C140.1,121.9 137.8,124.2 134.6,126.0 C131.4,127.8 125.5,128.7 122.3,129.6 C119.1,130.5 116.7,130.4 115.5,131.5 C114.3,132.6 115.6,134.7 115.0,136.0 C114.4,137.3 114.5,138.9 112.0,139.2 C109.5,139.5 104.3,138.6 100.0,137.8 C95.7,137.0 91.0,135.5 86.0,134.2 C81.0,132.9 74.8,131.5 70.0,130.0 C65.2,128.5 60.2,127.4 57.0,125.0 C53.8,122.6 51.4,118.8 50.9,115.5Z" fill="#ecdcd4"/><g fill="currentColor" stroke="currentColor" stroke-width="0.5"><path color="#f0ab9c" d="M94,73 89,60 87,70 91,76Z"/><path color="#e7c9c9" d="M103,74 111,74 111,72 109,67 103,73Z"/><path color="#f3ab99" d="M77,79 72,80 71,79 72,74 73,73 77,75ZM77,79 72,80 72,83 77,85 79,81Z"/><path color="#f0ab99" d="M77,79 77,75 80,73 84,75 85,78 84,79 79,81Z"/><path color="#f0a896" d="M85,78 91,78 91,76 87,70 84,75Z"/><path color="#f3ab96" d="M93,80 98,79 97,74 94,73 91,76 91,78Z"/><path color="#f0ab9f" d="M103,78 103,74 103,73 100,70 97,74 98,79 100,80Z"/><path color="#ead2cc" d="M103,78 103,74 111,74 111,78 106,79Z"/><path color="#c3c3e4" d="M117,73 111,72 111,74 111,78 112,79 117,77Z"/><path color="#b7c0e7" d="M117,73 117,77 120,79 123,77 123,74 119,71Z"/><path color="#f0d8cf" d="M71,79 65,79 69,86 69,86 72,83 72,80Z"/><path color="#f3b7ab" d="M78,85 77,85 79,81 84,79 86,83 84,85Z"/><path color="#f3a28d" d="M84,79 86,83 89,85 93,81 93,80 91,78 85,78Z"/><path color="#f39f8a" d="M97,87 93,81 93,80 98,79 100,80 101,85Z"/><path color="#eda89c" d="M101,85 100,80 103,78 106,79 107,85 103,87Z"/><path color="#f6e1db" d="M107,85 111,86 113,84 112,79 111,78 106,79Z"/><path color="#a5bdf3" d="M117,77 112,79 113,84 117,85 119,84 120,79Z"/><path color="#debdbd" d="M120,79 119,84 123,86 126,83 127,79 127,79 123,77Z"/><path color="#edd8cf" d="M130,85 133,83 133,81 127,79 126,83Z"/><path color="#f0ded8" d="M66,93 62,90 62,86 69,86 69,86 70,90ZM83,97 83,103 79,104 76,102 78,96 81,95ZM68,102 69,108 70,109 73,107 74,102 71,100ZM125,113 129,107 132,107 135,110 131,115 126,115Z"/><path color="#edb4a2" d="M70,90 69,86 72,83 77,85 78,85 78,88 72,91Z"/><path color="#f0c0b7" d="M78,85 84,85 84,89 81,92 78,88Z"/><path color="#f3d5cf" d="M84,89 87,90 90,88 89,85 86,83 84,85Z"/><path color="#f09f8a" d="M97,87 93,81 89,85 90,88 92,90 96,88Z"/><path color="#eaa8a2" d="M97,87 101,85 103,87 103,91 99,94 96,88Z"/><path color="#eab1a5" d="M103,91 104,92 111,90 111,86 107,85 103,87Z"/><path color="#f0ccc6" d="M118,92 117,85 113,84 111,86 111,90 112,93Z"/><path color="#f0b19f" d="M121,93 124,88 123,86 119,84 117,85 118,92Z"/><path color="#f3d8cf" d="M129,91 130,85 126,83 123,86 124,88 129,91Z"/><path color="#ded8d8" d="M129,91 130,85 133,83 135,85 134,90 130,91Z"/><path color="#e7dbd8" d="M137,92 141,90 141,85 140,84 135,85 134,90Z"/><path color="#dedbd5" d="M56,96 55,96 54,91 57,90 62,90 59,96Z"/><path color="#e1d8d8" d="M66,94 63,97 59,96 62,90 62,90 66,93Z"/><path color="#f0e1de" d="M66,94 71,98 74,95 72,91 70,90 66,93ZM142,98 137,96 137,92 141,90 145,93 145,93Z"/><path color="#f3dbd2" d="M72,91 78,88 81,92 81,95 78,96 74,95Z"/><path color="#c0d5f6" d="M81,92 81,95 83,97 87,96 87,90 84,89Z"/><path color="#c9d2ed" d="M92,94 92,90 90,88 87,90 87,96 89,97Z"/><path color="#c6d5f3" d="M96,88 92,90 92,94 98,96 98,96 99,94Z"/><path color="#ede4e1" d="M103,91 104,92 107,97 107,97 103,99 98,96 99,94ZM117,108 113,105 112,102 115,99 116,99 120,103 118,108Z"/><path color="#eae1de" d="M112,94 107,97 104,92 111,90 112,93Z"/><path color="#ede1db" d="M116,99 121,95 121,93 118,92 112,93 112,94 115,99ZM130,99 133,103 132,107 129,107 127,105 126,104 130,99Z"/><path color="#f39f84" d="M129,91 124,88 121,93 121,95 123,96 125,96Z"/><path color="#f0c9ba" d="M130,99 132,97 130,91 129,91 129,91 125,96 130,99Z"/><path color="#f3ded2" d="M130,91 134,90 137,92 137,96 136,97 132,97Z"/><path color="#a8c3f6" d="M56,96 55,96 50,98 49,101 54,103 57,102Z"/><path color="#c6ccea" d="M64,101 60,105 57,102 56,96 59,96 63,97Z"/><path color="#f0dedb" d="M66,94 63,97 64,101 68,102 71,100 71,98ZM118,108 120,103 123,102 126,104 127,105 120,109Z"/><path color="#f3ded5" d="M71,98 71,100 74,102 76,102 78,96 74,95ZM130,99 132,97 136,97 137,101 133,103Z"/><path color="#e7dbde" d="M89,97 87,96 83,97 83,103 86,105 87,105 90,103 91,101Z"/><path color="#eae1e4" d="M96,100 91,101 89,97 92,94 98,96Z"/><path color="#c9cce7" d="M103,101 103,99 98,96 98,96 96,100 99,106 100,106Z"/><path color="#a2bdf3" d="M107,103 110,101 107,97 103,99 103,101ZM55,117 50,119 49,118 48,114 49,113 56,113Z"/><path color="#d5d8e7" d="M115,99 112,94 107,97 107,97 110,101 112,102Z"/><path color="#f0e4e1" d="M116,99 121,95 123,96 123,102 120,103Z"/><path color="#f6e4db" d="M130,99 125,96 123,96 123,102 126,104Z"/><path color="#e1dbdb" d="M137,101 139,103 143,101 142,98 137,96 136,97Z"/><path color="#9cb7f3" d="M50,108 49,107 48,101 49,101 54,103 53,108Z"/><path color="#9fb7f9" d="M53,108 54,103 57,102 60,105 60,107 58,110Z"/><path color="#d8dbe4" d="M64,101 60,105 60,107 63,108 69,108 68,102Z"/><path color="#f0ded5" d="M74,102 73,107 79,108 79,104 76,102Z"/><path color="#f0dbd8" d="M84,110 86,105 83,103 79,104 79,108 79,108Z"/><path color="#e7dbe1" d="M87,105 91,110 96,107 90,103Z"/><path color="#e7dedb" d="M96,100 99,106 96,107 96,107 90,103 91,101Z"/><path color="#abc3f0" d="M107,108 107,103 103,101 100,106 103,109Z"/><path color="#b7c6f0" d="M112,102 110,101 107,103 107,108 109,108 113,105Z"/><path color="#ccd5f0" d="M133,103 137,101 139,103 139,107 135,110 135,110 132,107Z"/><path color="#c3d5ed" d="M139,107 139,103 143,101 145,103 144,106 142,107Z"/><path color="#ccd5e7" d="M144,106 145,103 154,101 180,107 149,112Z"/><path color="#a2bdf6" d="M58,111 58,110 53,108 50,108 49,113 56,113Z"/><path color="#b7ccf6" d="M63,116 65,114 63,108 60,107 58,110 58,111Z"/><path color="#bdd2f3" d="M63,108 65,114 68,114 71,111 70,109 69,108Z"/><path color="#f0e1d8" d="M76,113 79,108 79,108 73,107 70,109 71,111 75,113Z"/><path color="#e7d8d8" d="M76,113 79,108 84,110 84,112 80,114Z"/><path color="#ded5de" d="M84,112 87,116 90,114 91,110 87,105 86,105 84,110Z"/><path color="#d5cfde" d="M90,114 91,110 96,107 96,107 96,114 92,114Z"/><path color="#d5ccdb" d="M103,109 100,106 99,106 96,107 96,114 98,115 103,111Z"/><path color="#d8ccde" d="M109,108 110,114 106,115 103,111 103,109 107,108Z"/><path color="#e1d5d8" d="M117,108 113,105 109,108 110,114 113,115 115,114Z"/><path color="#edd8cc" d="M123,113 120,109 118,108 117,108 115,114 120,115Z"/><path color="#e7dbdb" d="M123,113 120,109 127,105 129,107 125,113Z"/><path color="#c0d5f9" d="M139,107 135,110 139,114 143,113 142,107Z"/><path color="#c3d2f3" d="M142,107 144,106 149,112 147,113 143,113Z"/><path color="#b1c6f6" d="M61,120 63,116 58,111 56,113 55,117 58,120 61,120Z"/><path color="#a8c3f9" d="M61,120 70,121 68,114 65,114 63,116Z"/><path color="#cfd2ed" d="M70,121 70,121 68,114 71,111 75,113 75,118Z"/><path color="#c9cce1" d="M77,119 80,119 80,114 76,113 75,113 75,118Z"/><path color="#b1c3ea" d="M80,119 82,120 87,117 87,116 84,112 80,114Z"/><path color="#aebae1" d="M90,121 87,117 87,116 90,114 92,114 95,121Z"/><path color="#c0c0e1" d="M99,119 98,115 96,114 92,114 95,121 95,121Z"/><path color="#d5cfd8" d="M101,120 103,119 106,115 103,111 98,115 99,119Z"/><path color="#e4d2cc" d="M113,115 110,114 106,115 103,119 108,122 113,118Z"/><path color="#f3d5c9" d="M120,115 115,114 113,115 113,118 113,118 120,120Z"/><path color="#f0d5c9" d="M123,113 120,115 120,120 122,121 126,118 126,115 125,113Z"/><path color="#f0d8cc" d="M126,115 131,115 133,118 130,121 126,118Z"/><path color="#f6dbd2" d="M131,115 135,110 135,110 139,114 138,117 138,118 133,118Z"/><path color="#baccf6" d="M143,113 147,113 146,120 141,120 138,117 139,114Z"/><path color="#b1c9f6" d="M58,120 56,123 52,124 50,119 55,117Z"/><path color="#b7ccf3" d="M61,120 62,124 59,129 56,123 58,120Z"/><path color="#a2baf3" d="M61,120 70,121 70,121 70,123 67,126 62,124 61,120Z"/><path color="#96b1f3" d="M76,125 77,119 75,118 70,121 70,123 75,125Z"/><path color="#90abf0" d="M76,125 79,125 82,123 82,120 80,119 77,119Z"/><path color="#93aef0" d="M82,123 82,120 87,117 90,121 89,123 85,125Z"/><path color="#9cb1f0" d="M95,126 92,129 89,123 90,121 95,121 95,121Z"/><path color="#babade" d="M101,120 101,124 99,127 95,126 95,121 99,119Z"/><path color="#d8c9c9" d="M101,120 103,119 108,122 108,126 107,128 101,124Z"/><path color="#f0d5c3" d="M113,118 113,118 108,122 108,126 111,126 115,123Z"/><path color="#f3d5c3" d="M120,120 113,118 115,123 119,126 122,123 122,121ZM118,130 119,126 115,123 111,126 114,129 117,130Z"/><path color="#f6d8c9" d="M126,118 130,121 131,124 126,126 122,123 122,121Z"/><path color="#f3d5c6" d="M133,118 138,118 135,123 132,125 131,124 130,121Z"/><path color="#ded5d8" d="M135,123 138,118 138,117 141,120 140,125Z"/><path color="#cfd2e1" d="M141,127 145,126 148,122 146,120 141,120 140,125Z"/><path color="#b7c9f3" d="M53,130 52,125 52,124 56,123 59,129 59,130 58,131Z"/><path color="#d8dee7" d="M59,130 65,130 67,128 67,126 62,124 59,129Z"/><path color="#8aa8f3" d="M75,125 75,128 72,131 67,128 67,126 70,123Z"/><path color="#87a5f0" d="M76,125 79,125 82,131 82,131 78,132 75,128 75,125Z"/><path color="#87a8f3" d="M82,123 85,125 85,128 82,131 79,125Z"/><path color="#8da8f3" d="M92,129 89,123 85,125 85,128 90,131 92,130Z"/><path color="#9fb1e4" d="M99,127 100,129 93,131 92,130 92,129 95,126Z"/><path color="#d2c6d2" d="M99,127 100,129 103,133 106,130 107,128 101,124Z"/><path color="#eacfc9" d="M106,130 107,128 108,126 111,126 114,129 109,132Z"/><path color="#f6d5c6" d="M123,132 126,130 126,126 122,123 119,126 118,130Z"/><path color="#f3d5cc" d="M126,126 131,124 132,125 134,130 134,130 130,132 126,130Z"/><path color="#ead5cf" d="M132,125 134,130 140,128 141,127 140,125 135,123Z"/><path color="#a2baed" d="M67,128 72,131 72,134 68,136 66,135 65,130Z"/><path color="#849fea" d="M72,134 75,136 78,132 75,128 72,131Z"/><path color="#879ce7" d="M78,132 82,131 83,134 79,138 76,136 75,136Z"/><path color="#8aa8f0" d="M85,128 90,131 87,136 83,134 82,131 82,131Z"/><path color="#87a5ed" d="M92,130 90,131 87,136 88,138 92,138 95,134 93,131Z"/><path color="#a2aede" d="M100,129 93,131 95,134 100,136 103,134 103,133Z"/><path color="#7e93e4" d="M106,130 103,133 103,134 106,137 112,137 109,132ZM113,137 112,137 106,137 106,140 109,143 112,142Z"/><path color="#dbc9c9" d="M117,130 114,129 109,132 112,137 113,137 116,136Z"/><path color="#e1c9c9" d="M123,137 119,137 116,136 117,130 118,130 123,132 124,136Z"/><path color="#f0d5cc" d="M124,136 129,135 130,132 126,130 123,132Z"/><path color="#8aa5ea" d="M87,140 88,138 87,136 83,134 79,138 80,140 84,142Z"/><path color="#93a8ed" d="M87,140 88,138 92,138 97,142 97,143 91,144Z"/><path color="#96abe7" d="M92,138 97,142 99,140 100,136 95,134Z"/><path color="#939fe1" d="M106,137 103,134 100,136 99,140 104,142 106,140Z"/><path color="#aeaed5" d="M119,137 119,142 116,145 112,142 113,137 116,136Z"/><path color="#96a5de" d="M97,142 99,140 104,142 104,154 103,156 97,143Z"/><path color="#8a9cde" d="M109,143 104,154 104,142 106,140Z"/></g><path d="M84,124 C92,131 102,134 110,133 C113,131 115,133 115.5,136 L113,140 L98,139 C92,137 86,132 84,124Z" fill="#8ea6e6"/><path d="M90,130 C98,134 106,135 113,134" fill="none" stroke="#e8e8ee" stroke-width="1.0" stroke-opacity="0.6" filter="url(#bl2)"/><path d="M80.2,110.4 C80.5,108.0 81.6,105.8 83.3,104.3 C85.0,102.8 87.5,101.9 90.4,101.2 C93.3,100.5 97.3,100.2 100.7,100.2 C104.1,100.2 107.7,100.6 110.9,101.2 C114.1,101.8 117.2,102.8 120.0,104.0 C122.8,105.2 125.8,106.9 127.5,108.5 C129.2,110.1 130.5,111.8 130.5,113.5 C130.5,115.2 129.4,117.1 127.5,118.6 C125.6,120.1 121.1,121.2 119.0,122.7 C116.9,124.2 116.0,126.4 115.0,127.8 C114.0,129.2 113.9,130.2 112.9,130.9 C111.9,131.6 110.8,131.7 108.8,131.9 C106.8,132.1 102.9,132.1 100.7,131.9 C98.5,131.7 97.2,131.8 95.5,130.9 C93.8,130.1 92.1,128.0 90.4,126.8 C88.7,125.6 86.8,125.1 85.3,123.7 C83.8,122.3 82.0,120.8 81.2,118.6 C80.4,116.4 79.9,112.8 80.2,110.4Z" fill="url(#gGray)"/><path d="M62,118 C66,116 72,117 76,119" fill="none" stroke="#4a4a4a" stroke-linecap="round" filter="url(#bl3)" stroke-width="1" stroke-opacity="0.4"/><path d="M50.9,115.5 C50.4,112.2 52.0,108.8 54.0,105.0 C56.0,101.2 59.3,96.6 62.8,92.8 C66.3,89.0 70.9,84.8 75.0,82.3 C79.1,79.8 82.9,78.8 87.3,77.9 C91.7,77.0 96.6,76.8 101.3,77.0 C106.0,77.2 110.6,77.5 115.3,78.8 C120.0,80.1 125.5,82.3 129.3,84.9 C133.1,87.5 135.8,90.6 138.1,94.5 C140.4,98.4 142.8,104.4 143.4,108.5 C144.0,112.6 143.1,116.1 141.6,119.0 C140.1,121.9 137.8,124.2 134.6,126.0 C131.4,127.8 125.5,128.7 122.3,129.6 C119.1,130.5 116.7,130.4 115.5,131.5 C114.3,132.6 115.6,134.7 115.0,136.0 C114.4,137.3 114.5,138.9 112.0,139.2 C109.5,139.5 104.3,138.6 100.0,137.8 C95.7,137.0 91.0,135.5 86.0,134.2 C81.0,132.9 74.8,131.5 70.0,130.0 C65.2,128.5 60.2,127.4 57.0,125.0 C53.8,122.6 51.4,118.8 50.9,115.5Z" fill="none" stroke="#3a3a3a" stroke-opacity="0.45" stroke-width="3.0" filter="url(#bl3)"/></g><path d="M50.9,115.5 C50.4,112.2 52.0,108.8 54.0,105.0 C56.0,101.2 59.3,96.6 62.8,92.8 C66.3,89.0 70.9,84.8 75.0,82.3 C79.1,79.8 82.9,78.8 87.3,77.9 C91.7,77.0 96.6,76.8 101.3,77.0 C106.0,77.2 110.6,77.5 115.3,78.8 C120.0,80.1 125.5,82.3 129.3,84.9 C133.1,87.5 135.8,90.6 138.1,94.5 C140.4,98.4 142.8,104.4 143.4,108.5 C144.0,112.6 143.1,116.1 141.6,119.0 C140.1,121.9 137.8,124.2 134.6,126.0 C131.4,127.8 125.5,128.7 122.3,129.6 C119.1,130.5 116.7,130.4 115.5,131.5 C114.3,132.6 115.6,134.7 115.0,136.0 C114.4,137.3 114.5,138.9 112.0,139.2 C109.5,139.5 104.3,138.6 100.0,137.8 C95.7,137.0 91.0,135.5 86.0,134.2 C81.0,132.9 74.8,131.5 70.0,130.0 C65.2,128.5 60.2,127.4 57.0,125.0 C53.8,122.6 51.4,118.8 50.9,115.5Z" fill="none" stroke="#4a4a4a" stroke-width="0.7"/>
<path d="M77.2,79.3 L83.0,77.8 L87.4,78.6 L91.8,77.1 L97.6,77.1 L100.6,80.0 L99.1,82.2 L94.7,83.7 L91.8,85.1 L88.9,83.7 L84.5,83.0 L81.6,82.2 L78.7,81.5Z" fill="none" stroke="#111" stroke-width="1.0" stroke-linejoin="round"/>
<clipPath id="cRM"><path d="M163.5,113.7 C163.5,109.9 165.9,104.5 168.3,100.4 C170.7,96.3 174.0,92.2 177.8,89.0 C181.6,85.8 186.7,83.2 191.1,81.4 C195.5,79.6 199.6,78.6 204.3,78.0 C209.0,77.4 214.8,77.0 219.5,77.6 C224.2,78.2 229.0,79.5 232.8,81.4 C236.6,83.3 239.5,85.8 242.3,89.0 C245.2,92.2 247.9,96.3 249.9,100.4 C251.9,104.5 253.8,110.1 254.2,113.4 C254.6,116.7 253.2,118.7 252.1,120.4 C251.0,122.2 249.6,122.9 247.4,123.9 C245.2,124.9 242.5,125.0 239.2,126.2 C235.9,127.4 231.5,129.3 227.6,130.9 C223.7,132.5 219.8,134.2 215.9,135.5 C212.0,136.8 207.7,138.3 204.2,139.0 C200.7,139.7 197.0,140.0 194.9,139.6 C192.8,139.2 192.0,138.3 191.4,136.7 C190.8,135.1 193.4,131.6 191.4,130.0 C189.4,128.4 183.5,128.2 179.7,127.0 C175.8,125.8 171.0,125.3 168.3,123.1 C165.6,120.9 163.5,117.5 163.5,113.7Z"/></clipPath><g clip-path="url(#cRM)"><path d="M163.5,113.7 C163.5,109.9 165.9,104.5 168.3,100.4 C170.7,96.3 174.0,92.2 177.8,89.0 C181.6,85.8 186.7,83.2 191.1,81.4 C195.5,79.6 199.6,78.6 204.3,78.0 C209.0,77.4 214.8,77.0 219.5,77.6 C224.2,78.2 229.0,79.5 232.8,81.4 C236.6,83.3 239.5,85.8 242.3,89.0 C245.2,92.2 247.9,96.3 249.9,100.4 C251.9,104.5 253.8,110.1 254.2,113.4 C254.6,116.7 253.2,118.7 252.1,120.4 C251.0,122.2 249.6,122.9 247.4,123.9 C245.2,124.9 242.5,125.0 239.2,126.2 C235.9,127.4 231.5,129.3 227.6,130.9 C223.7,132.5 219.8,134.2 215.9,135.5 C212.0,136.8 207.7,138.3 204.2,139.0 C200.7,139.7 197.0,140.0 194.9,139.6 C192.8,139.2 192.0,138.3 191.4,136.7 C190.8,135.1 193.4,131.6 191.4,130.0 C189.4,128.4 183.5,128.2 179.7,127.0 C175.8,125.8 171.0,125.3 168.3,123.1 C165.6,120.9 163.5,117.5 163.5,113.7Z" fill="#e8e2e4"/><g fill="currentColor" stroke="currentColor" stroke-width="0.5"><path color="#e4938a" d="M209,78 207,75 210,67 213,74Z"/><path color="#c3cfed" d="M186,81 183,79 184,75 188,74 190,80Z"/><path color="#c0cfed" d="M190,80 192,80 196,79 195,76 193,74 188,74 188,74Z"/><path color="#d2d2e4" d="M196,79 195,76 200,71 203,75 200,80 198,81Z"/><path color="#d8c6cc" d="M209,78 207,75 203,75 200,80 205,82 210,79Z"/><path color="#e78a7b" d="M209,78 213,74 217,74 218,79 211,80 210,79Z"/><path color="#e78d7b" d="M223,79 223,77 219,69 217,74 218,79 218,79Z"/><path color="#ed998a" d="M225,81 230,80 231,78 230,74 227,73 223,77 223,79Z"/><path color="#c6d5f3" d="M186,81 187,85 184,87 180,83 180,80 183,79Z"/><path color="#c6d2f3" d="M186,81 187,85 190,86 191,86 192,80 190,80Z"/><path color="#c3d2f6" d="M192,80 196,79 198,81 198,83 194,87 191,86Z"/><path color="#d8deea" d="M198,81 200,80 205,82 205,85 201,87 198,83Z"/><path color="#e78a81" d="M210,79 205,82 205,85 210,87 211,86 211,80Z"/><path color="#ea8472" d="M218,85 217,86 211,86 211,80 218,79 218,79Z"/><path color="#ea7b69" d="M225,81 223,79 218,79 218,85 220,86 225,84Z"/><path color="#f09687" d="M225,81 230,80 232,86 228,88 225,84Z"/><path color="#eaaea5" d="M230,80 231,78 235,79 236,80 236,84 234,86 232,86Z"/><path color="#e4e1ea" d="M242,78 243,80 244,83 242,86 236,84 236,80 242,78Z"/><path color="#ed8475" d="M184,87 184,91 179,91 176,90 176,90 176,86 176,85 180,83Z"/><path color="#b7c9f6" d="M187,85 190,86 189,92 185,92 184,91 184,87Z"/><path color="#baccf6" d="M191,94 196,92 194,87 191,86 190,86 189,92Z"/><path color="#f0c6b1" d="M197,92 196,92 194,87 198,83 201,87 201,90Z"/><path color="#f3c0ae" d="M206,93 209,91 210,87 205,85 201,87 201,90Z"/><path color="#f09c84" d="M217,86 211,86 210,87 209,91 213,93 217,92Z"/><path color="#f0a890" d="M218,85 217,86 217,92 219,92 224,91 220,86Z"/><path color="#f0a88d" d="M225,84 228,88 227,91 225,92 224,91 220,86Z"/><path color="#f3cfbd" d="M235,90 234,86 232,86 228,88 227,91 232,94 232,94Z"/><path color="#eae4e7" d="M239,92 242,88 242,86 236,84 234,86 235,90Z"/><path color="#dbdbe4" d="M249,91 250,85 244,83 242,86 242,88 247,92Z"/><path color="#ead8cf" d="M169,96 167,93 165,91 162,93 160,96 165,100Z"/><path color="#f0d5d2" d="M170,96 169,96 167,93 172,90 176,90 176,90 174,96Z"/><path color="#f3816c" d="M176,98 179,97 179,91 176,90 174,96Z"/><path color="#e1908a" d="M184,99 185,92 184,91 179,91 179,97 183,99Z"/><path color="#93b1f3" d="M184,99 185,92 189,92 191,94 191,98 190,99Z"/><path color="#b7ccf9" d="M197,99 191,98 191,94 196,92 197,92 199,97Z"/><path color="#bdcced" d="M202,97 206,96 206,93 201,90 197,92 199,97Z"/><path color="#b1c9f6" d="M206,96 206,93 209,91 213,93 214,99 207,98Z"/><path color="#c3cced" d="M219,92 219,97 216,101 214,99 213,93 217,92Z"/><path color="#bacff3" d="M224,91 225,92 225,95 224,98 219,97 219,92ZM244,114 243,113 236,113 239,118 243,118 244,117Z"/><path color="#c6d5f6" d="M231,98 232,94 227,91 225,92 225,95ZM230,101 225,101 224,98 225,95 231,98Z"/><path color="#edd8d5" d="M239,92 235,90 232,94 237,97 240,95Z"/><path color="#dbe1ed" d="M239,92 242,88 247,92 246,94 242,96 240,95Z"/><path color="#c3d2f3" d="M252,92 252,98 248,98 246,94 247,92 249,91Z"/><path color="#ead8d5" d="M171,103 169,103 165,100 165,100 169,96 170,96Z"/><path color="#edc9c6" d="M171,103 170,96 174,96 176,98 175,102 173,104Z"/><path color="#e4a59f" d="M183,102 183,99 179,97 176,98 175,102 181,104Z"/><path color="#abc6f3" d="M183,102 183,99 184,99 190,99 190,101 188,105Z"/><path color="#87a2ea" d="M197,101 195,104 190,101 190,99 191,98 197,99Z"/><path color="#6c87e4" d="M203,103 202,97 199,97 197,99 197,101 201,104Z"/><path color="#a8baed" d="M203,103 207,103 207,98 206,96 202,97Z"/><path color="#b7c6f0" d="M207,103 208,104 212,104 216,102 216,101 214,99 207,98Z"/><path color="#bdccf0" d="M224,98 219,97 216,101 216,102 217,103 223,103 225,101Z"/><path color="#e1dbe1" d="M237,97 236,102 236,103 231,102 230,101 231,98 232,94 232,94Z"/><path color="#dbdbe1" d="M240,95 242,96 243,102 236,102 237,97Z"/><path color="#c6d8f9" d="M246,94 242,96 243,102 245,103 248,98Z"/><path color="#a8c0f3" d="M252,98 254,100 254,101 253,103 245,103 245,103 248,98Z"/><path color="#edded8" d="M166,109 169,103 165,100 161,104 162,107 165,109Z"/><path color="#d8d8e7" d="M170,110 174,108 173,104 171,103 169,103 166,109Z"/><path color="#d8c9d5" d="M181,104 175,102 173,104 174,108 177,111 180,109Z"/><path color="#aec6f6" d="M183,102 188,105 188,107 181,109 180,109 181,104Z"/><path color="#a5b7ea" d="M188,105 190,101 195,104 194,108 189,108 188,107Z"/><path color="#6f8ae1" d="M201,104 201,109 195,109 194,108 195,104 197,101Z"/><path color="#9cabe1" d="M203,103 207,103 208,104 207,109 202,110 201,109 201,104Z"/><path color="#bac3e7" d="M208,111 212,110 212,104 208,104 207,109Z"/><path color="#c0c6de" d="M212,110 212,104 216,102 217,103 217,105 215,111Z"/><path color="#c6cfed" d="M223,103 217,103 217,105 221,110 225,109Z"/><path color="#bdcff9" d="M230,101 231,102 230,107 226,109 225,109 223,103 225,101Z"/><path color="#dedeed" d="M231,102 236,103 237,108 235,112 230,107Z"/><path color="#cfdbf6" d="M243,108 237,108 236,103 236,102 243,102 245,103 245,103 245,107Z"/><path color="#a8c3f3" d="M249,109 252,109 253,108 253,103 245,103 245,107Z"/><path color="#9fb7f0" d="M253,108 281,111 284,111 254,101 253,103ZM230,126 228,125 228,121 233,120 236,122 236,123ZM232,132 228,133 225,131 225,128 228,125 230,126Z"/><path color="#dbd8e7" d="M165,109 162,107 156,111 161,116 166,111Z"/><path color="#d8dbf0" d="M170,110 166,109 165,109 166,111 167,113 171,115Z"/><path color="#baccf3" d="M170,110 174,108 177,111 177,113 172,116 171,115Z"/><path color="#bdbdde" d="M181,109 186,114 185,115 180,117 177,113 177,111 180,109Z"/><path color="#bdc0e1" d="M181,109 186,114 188,113 189,108 188,107ZM208,115 213,116 216,114 215,111 212,110 208,111Z"/><path color="#bdb1c6" d="M189,108 188,113 193,115 195,115 195,109 194,108Z"/><path color="#aba8cf" d="M201,115 199,117 195,115 195,109 201,109 202,110Z"/><path color="#b4b4db" d="M208,115 208,111 207,109 202,110 201,115 207,116Z"/><path color="#c9cfe7" d="M216,114 218,114 219,114 221,110 217,105 215,111Z"/><path color="#d8dbed" d="M225,109 221,110 219,114 225,117 228,114 226,109Z"/><path color="#e4e1e4" d="M230,107 235,112 235,112 233,114 228,114 226,109Z"/><path color="#c9dbf6" d="M243,113 236,113 235,112 235,112 237,108 243,108Z"/><path color="#a8c0f0" d="M248,113 249,109 245,107 243,108 243,113 244,114Z"/><path color="#99b1f3" d="M252,118 255,114 252,109 249,109 248,113Z"/><path color="#93aef0" d="M253,108 281,111 255,114 252,109ZM251,119 254,121 309,114 284,111 281,111 255,114 252,118Z"/><path color="#cccfea" d="M167,113 165,120 165,120 162,119 161,116 166,111Z"/><path color="#a8bdf0" d="M171,115 172,116 171,120 170,120 165,120 167,113Z"/><path color="#9fbaf3" d="M178,122 180,119 180,117 177,113 172,116 171,120ZM226,137 222,135 224,131 225,131 228,133 227,136Z"/><path color="#e7ab99" d="M188,121 185,122 180,119 180,117 185,115 188,120Z"/><path color="#e4a896" d="M192,118 193,115 188,113 186,114 185,115 188,120Z"/><path color="#e1a89f" d="M195,123 199,119 199,117 195,115 193,115 192,118Z"/><path color="#bdb4cf" d="M207,116 207,119 202,122 199,119 199,117 201,115Z"/><path color="#b1bae4" d="M208,115 213,116 213,120 210,123 207,119 207,116Z"/><path color="#bac6f0" d="M213,120 213,116 216,114 218,114 218,118 216,121Z"/><path color="#c0d2f0" d="M218,114 218,118 222,122 226,120 225,117 219,114Z"/><path color="#e7e7ed" d="M225,117 228,114 233,114 233,120 228,121 226,120Z"/><path color="#bdd5f6" d="M236,113 235,112 233,114 233,120 236,122 239,118Z"/><path color="#90abf3" d="M251,119 250,119 244,117 244,114 248,113 252,118Z"/><path color="#f0c0a5" d="M171,126 167,127 165,125 165,120 165,120 170,120Z"/><path color="#edbaa8" d="M171,126 170,120 171,120 178,122 178,124 171,127Z"/><path color="#edb19c" d="M178,122 180,119 185,122 184,125 180,127 178,124Z"/><path color="#f0a58a" d="M192,126 192,126 186,127 184,125 185,122 188,121Z"/><path color="#eda590" d="M195,123 192,118 188,120 188,121 192,126 195,124Z"/><path color="#c9abba" d="M195,123 199,119 202,122 203,123 201,127 195,124Z"/><path color="#b1b4d8" d="M210,124 209,125 203,123 202,122 207,119 210,123Z"/><path color="#a8bdf3" d="M210,124 210,123 213,120 216,121 218,125 211,125Z"/><path color="#aec3f3" d="M216,121 218,118 222,122 221,124 218,125 218,125Z"/><path color="#b4ccf9" d="M226,120 228,121 228,125 225,128 221,124 222,122Z"/><path color="#a2baf0" d="M239,118 236,122 236,123 238,125 242,125 243,118Z"/><path color="#87a5ed" d="M250,119 247,125 243,125 242,125 243,118 244,117Z"/><path color="#93abf3" d="M251,119 254,121 254,126 250,127 247,125 250,119ZM232,132 235,137 238,137 241,134 237,128Z"/><path color="#eaa28d" d="M171,127 173,132 177,132 179,130 180,127 178,124Z"/><path color="#eaa28a" d="M184,125 180,127 179,130 185,132 185,132 186,127Z"/><path color="#f0997e" d="M186,127 185,132 189,133 193,131 192,126Z"/><path color="#c0aec6" d="M195,124 201,127 201,129 199,131 195,132 193,131 192,126 192,126Z"/><path color="#b1b4e1" d="M203,123 209,125 207,130 201,129 201,127Z"/><path color="#96aef0" d="M210,124 209,125 207,130 208,132 215,131 211,125Z"/><path color="#9fb4f6" d="M211,125 215,131 216,131 218,130 218,125 218,125Z"/><path color="#99b7f3" d="M225,131 225,128 221,124 218,125 218,130 224,131Z"/><path color="#8da2ed" d="M232,132 230,126 236,123 238,125 237,128 232,132Z"/><path color="#93aeed" d="M243,125 242,125 238,125 237,128 241,134 241,134 243,130Z"/><path color="#90aeed" d="M250,131 250,127 247,125 243,125 243,130 249,132Z"/><path color="#d2abb1" d="M186,141 183,138 185,132 185,132 189,133 188,139Z"/><path color="#b4bade" d="M195,135 194,138 188,139 189,133 193,131 195,132Z"/><path color="#a5bded" d="M195,135 201,139 203,137 199,131 195,132Z"/><path color="#a5b4ed" d="M199,131 201,129 207,130 208,132 208,136 205,137 203,137Z"/><path color="#99b4f3" d="M216,131 215,131 208,132 208,136 212,139 217,135Z"/><path color="#9cb4f3" d="M222,135 219,137 217,135 216,131 218,130 224,131Z"/><path color="#bab7d8" d="M186,141 188,139 194,138 195,143 191,145 186,142Z"/><path color="#a8c0ed" d="M195,135 194,138 195,143 196,143 199,143 201,139Z"/><path color="#abb7e4" d="M201,139 199,143 201,144 205,142 205,137 203,137Z"/><path color="#9cb4ed" d="M209,145 213,142 212,139 208,136 205,137 205,142Z"/><path color="#96aeed" d="M217,135 212,139 213,142 216,143 220,140 219,137Z"/><path color="#a2baf3" d="M226,137 222,135 219,137 220,140 224,142 224,142Z"/></g><path d="M190,127 C196,131 210,132 222,127 L226,131 C218,135 208,139 198,140 L191,138Z" fill="#8ea6e6"/><path d="M194,134 C204,135 214,132 222,129" fill="none" stroke="#e8e8ee" stroke-width="1.0" stroke-opacity="0.6" filter="url(#bl2)"/><path d="M179.7,114.5 C180.0,112.8 180.7,110.5 182.0,108.7 C183.3,107.0 185.1,105.3 187.8,104.0 C190.5,102.7 194.7,101.6 198.4,101.1 C202.1,100.6 206.5,100.8 210.0,101.1 C213.5,101.4 216.9,101.9 219.4,102.8 C221.9,103.7 224.0,104.8 225.2,106.4 C226.4,108.0 226.6,110.1 226.4,112.2 C226.2,114.3 225.2,117.1 224.0,119.2 C222.8,121.3 221.3,123.5 219.4,125.0 C217.5,126.5 215.3,127.7 212.4,128.5 C209.5,129.3 205.2,129.9 201.9,129.7 C198.6,129.5 195.4,128.6 192.5,127.4 C189.6,126.2 186.3,124.1 184.3,122.7 C182.3,121.3 181.1,120.6 180.3,119.2 C179.5,117.8 179.4,116.2 179.7,114.5Z" fill="url(#gGray)"/><path d="M228,124 C234,120 242,118 250,119" fill="none" stroke="#4a4a4a" stroke-linecap="round" filter="url(#bl3)" stroke-width="1" stroke-opacity="0.4"/><path d="M163.5,113.7 C163.5,109.9 165.9,104.5 168.3,100.4 C170.7,96.3 174.0,92.2 177.8,89.0 C181.6,85.8 186.7,83.2 191.1,81.4 C195.5,79.6 199.6,78.6 204.3,78.0 C209.0,77.4 214.8,77.0 219.5,77.6 C224.2,78.2 229.0,79.5 232.8,81.4 C236.6,83.3 239.5,85.8 242.3,89.0 C245.2,92.2 247.9,96.3 249.9,100.4 C251.9,104.5 253.8,110.1 254.2,113.4 C254.6,116.7 253.2,118.7 252.1,120.4 C251.0,122.2 249.6,122.9 247.4,123.9 C245.2,124.9 242.5,125.0 239.2,126.2 C235.9,127.4 231.5,129.3 227.6,130.9 C223.7,132.5 219.8,134.2 215.9,135.5 C212.0,136.8 207.7,138.3 204.2,139.0 C200.7,139.7 197.0,140.0 194.9,139.6 C192.8,139.2 192.0,138.3 191.4,136.7 C190.8,135.1 193.4,131.6 191.4,130.0 C189.4,128.4 183.5,128.2 179.7,127.0 C175.8,125.8 171.0,125.3 168.3,123.1 C165.6,120.9 163.5,117.5 163.5,113.7Z" fill="none" stroke="#3a3a3a" stroke-opacity="0.45" stroke-width="3.0" filter="url(#bl3)"/></g><path d="M163.5,113.7 C163.5,109.9 165.9,104.5 168.3,100.4 C170.7,96.3 174.0,92.2 177.8,89.0 C181.6,85.8 186.7,83.2 191.1,81.4 C195.5,79.6 199.6,78.6 204.3,78.0 C209.0,77.4 214.8,77.0 219.5,77.6 C224.2,78.2 229.0,79.5 232.8,81.4 C236.6,83.3 239.5,85.8 242.3,89.0 C245.2,92.2 247.9,96.3 249.9,100.4 C251.9,104.5 253.8,110.1 254.2,113.4 C254.6,116.7 253.2,118.7 252.1,120.4 C251.0,122.2 249.6,122.9 247.4,123.9 C245.2,124.9 242.5,125.0 239.2,126.2 C235.9,127.4 231.5,129.3 227.6,130.9 C223.7,132.5 219.8,134.2 215.9,135.5 C212.0,136.8 207.7,138.3 204.2,139.0 C200.7,139.7 197.0,140.0 194.9,139.6 C192.8,139.2 192.0,138.3 191.4,136.7 C190.8,135.1 193.4,131.6 191.4,130.0 C189.4,128.4 183.5,128.2 179.7,127.0 C175.8,125.8 171.0,125.3 168.3,123.1 C165.6,120.9 163.5,117.5 163.5,113.7Z" fill="none" stroke="#4a4a4a" stroke-width="0.7"/>
<path d="M205.3,77.8 L211.1,77.1 L216.9,77.8 L222.8,78.6 L228.6,79.3 L230.1,80.8 L227.2,82.2 L222.8,83.7 L219.9,85.1 L217.7,83.7 L215.5,82.2 L211.1,82.2 L206.7,81.5Z" fill="none" stroke="#111" stroke-width="1.0" stroke-linejoin="round"/>
<clipPath id="cFL"><path d="M1.1,188.0 C2.2,186.9 5.4,186.8 8.9,185.7 C12.4,184.6 18.1,183.2 22.2,181.3 C26.3,179.5 29.6,177.2 33.3,174.6 C37.0,172.0 41.1,168.5 44.4,165.7 C47.7,162.9 50.0,159.7 53.3,158.0 C56.6,156.3 60.2,155.8 64.3,155.8 C68.4,155.8 73.6,157.3 77.7,158.0 C81.8,158.7 85.1,160.2 88.8,160.2 C92.5,160.2 96.5,158.7 99.8,158.0 C103.1,157.3 105.7,156.6 108.7,155.8 C111.7,155.1 114.6,153.3 117.6,153.5 C120.6,153.7 123.5,156.0 126.5,156.9 C129.4,157.8 132.9,157.2 135.3,159.1 C137.7,160.9 139.4,163.9 140.9,168.0 C142.4,172.1 143.1,177.2 144.2,183.5 C145.3,189.8 146.7,199.4 147.5,205.7 C148.3,212.0 149.1,216.8 149.1,221.2 C149.1,225.6 149.1,229.3 147.5,232.3 C145.9,235.3 142.6,237.2 139.8,239.0 C137.0,240.8 134.2,241.9 130.9,243.4 C127.6,244.9 123.1,246.0 119.8,247.8 C116.5,249.7 113.9,252.3 110.9,254.5 C108.0,256.7 105.0,260.8 102.1,261.2 C99.1,261.6 95.8,258.9 93.2,256.7 C90.6,254.5 88.7,251.1 86.5,247.8 C84.3,244.5 82.5,238.3 79.9,236.8 C77.3,235.3 74.0,238.3 71.0,239.0 C68.0,239.7 65.0,240.5 62.1,241.2 C59.1,241.9 56.2,242.7 53.3,243.4 C50.3,244.1 46.6,246.7 44.4,245.6 C42.2,244.5 40.3,239.8 39.9,236.8 C39.5,233.9 42.6,230.9 42.2,227.9 C41.8,224.9 39.9,221.2 37.7,219.0 C35.5,216.8 32.1,216.4 28.8,214.6 C25.5,212.8 21.1,210.1 17.8,207.9 C14.5,205.7 11.5,203.9 8.9,201.3 C6.3,198.7 3.5,194.6 2.2,192.4 C0.9,190.2 -0.0,189.1 1.1,188.0Z"/></clipPath><g clip-path="url(#cFL)"><path d="M1.1,188.0 C2.2,186.9 5.4,186.8 8.9,185.7 C12.4,184.6 18.1,183.2 22.2,181.3 C26.3,179.5 29.6,177.2 33.3,174.6 C37.0,172.0 41.1,168.5 44.4,165.7 C47.7,162.9 50.0,159.7 53.3,158.0 C56.6,156.3 60.2,155.8 64.3,155.8 C68.4,155.8 73.6,157.3 77.7,158.0 C81.8,158.7 85.1,160.2 88.8,160.2 C92.5,160.2 96.5,158.7 99.8,158.0 C103.1,157.3 105.7,156.6 108.7,155.8 C111.7,155.1 114.6,153.3 117.6,153.5 C120.6,153.7 123.5,156.0 126.5,156.9 C129.4,157.8 132.9,157.2 135.3,159.1 C137.7,160.9 139.4,163.9 140.9,168.0 C142.4,172.1 143.1,177.2 144.2,183.5 C145.3,189.8 146.7,199.4 147.5,205.7 C148.3,212.0 149.1,216.8 149.1,221.2 C149.1,225.6 149.1,229.3 147.5,232.3 C145.9,235.3 142.6,237.2 139.8,239.0 C137.0,240.8 134.2,241.9 130.9,243.4 C127.6,244.9 123.1,246.0 119.8,247.8 C116.5,249.7 113.9,252.3 110.9,254.5 C108.0,256.7 105.0,260.8 102.1,261.2 C99.1,261.6 95.8,258.9 93.2,256.7 C90.6,254.5 88.7,251.1 86.5,247.8 C84.3,244.5 82.5,238.3 79.9,236.8 C77.3,235.3 74.0,238.3 71.0,239.0 C68.0,239.7 65.0,240.5 62.1,241.2 C59.1,241.9 56.2,242.7 53.3,243.4 C50.3,244.1 46.6,246.7 44.4,245.6 C42.2,244.5 40.3,239.8 39.9,236.8 C39.5,233.9 42.6,230.9 42.2,227.9 C41.8,224.9 39.9,221.2 37.7,219.0 C35.5,216.8 32.1,216.4 28.8,214.6 C25.5,212.8 21.1,210.1 17.8,207.9 C14.5,205.7 11.5,203.9 8.9,201.3 C6.3,198.7 3.5,194.6 2.2,192.4 C0.9,190.2 -0.0,189.1 1.1,188.0Z" fill="#eedcd6"/><g fill="currentColor" stroke="currentColor" stroke-width="0.5"><path color="#ea8475" d="M62,153 65,150 66,151 68,155 63,156Z"/><path color="#f0ccc3" d="M111,150 110,150 107,152 107,155 108,156 112,155 112,155ZM44,167 41,169 41,171 43,173 45,172 46,170ZM88,207 86,204 89,201 89,201 91,205 90,207Z"/><path color="#f0d8cf" d="M115,154 112,155 111,150 112,149 115,152ZM26,186 24,185 23,184 26,180 29,181 27,186Z"/><path color="#f0d5d2" d="M117,149 115,152 115,154 117,155 120,153Z"/><path color="#e1e4f0" d="M123,151 126,154 126,154 122,156 121,153Z"/><path color="#f3c6b4" d="M48,160 48,158 51,155 53,156 54,160 50,161ZM48,160 46,164 48,165 51,164 50,161 48,160ZM97,172 96,168 101,169 100,171 98,172ZM24,207 24,209 24,211 23,213 22,213 19,209 23,206Z"/><path color="#ea9381" d="M55,160 59,159 58,155 55,154 53,156 54,160Z"/><path color="#ea816c" d="M59,159 60,159 62,159 63,156 62,153 60,153 58,155Z"/><path color="#ea7e6f" d="M68,157 66,160 62,159 63,156 68,155 68,156Z"/><path color="#f08775" d="M73,160 72,155 68,156 68,157 72,162Z"/><path color="#ed937e" d="M76,160 78,158 78,155 78,155 73,154 72,155 73,160Z"/><path color="#ed9987" d="M84,155 82,154 78,155 78,158 82,161 84,158ZM95,159 98,158 99,155 95,154 94,156 94,158Z"/><path color="#f3a893" d="M88,160 84,158 84,155 86,154 89,156 89,159Z"/><path color="#f3a896" d="M94,158 94,156 92,155 89,156 89,159 91,160Z"/><path color="#ed8d7e" d="M103,158 100,160 98,158 99,155 101,154 104,155Z"/><path color="#f39384" d="M103,158 105,162 106,162 108,158 108,156 107,155 104,155Z"/><path color="#f3dbd2" d="M110,160 108,158 108,156 112,155 115,160ZM118,158 116,161 116,161 115,160 112,155 112,155 115,154 117,155Z"/><path color="#e7e1e1" d="M121,153 120,153 117,155 118,158 122,158 122,156Z"/><path color="#e1e4f3" d="M126,154 128,156 128,157 124,160 124,160 122,158 122,156Z"/><path color="#bdcff6" d="M128,156 132,154 135,156 134,157 131,160 128,157ZM67,217 67,213 64,212 61,215 65,218ZM71,222 68,221 66,221 66,224 71,225 71,225Z"/><path color="#b4ccf6" d="M135,156 137,153 138,154 138,160 138,160 134,157ZM127,213 125,212 124,210 126,206 129,208 128,212Z"/><path color="#f0c9b7" d="M48,160 43,160 42,162 42,163 44,164 46,164Z"/><path color="#f6c6b1" d="M50,161 54,160 55,160 55,164 54,166 54,166 51,164ZM48,194 50,190 50,190 53,191 54,194 51,196Z"/><path color="#e77e6c" d="M55,160 55,164 60,165 61,163 60,159 59,159Z"/><path color="#e77866" d="M61,163 65,164 66,163 66,160 62,159 60,159Z"/><path color="#ed8472" d="M72,162 68,157 66,160 66,163 70,164 71,164Z"/><path color="#f0937e" d="M77,164 76,160 73,160 72,162 71,164 72,165 77,164Z"/><path color="#f09687" d="M77,164 82,162 82,161 78,158 76,160Z"/><path color="#f3ab96" d="M88,160 87,163 84,165 82,162 82,161 84,158Z"/><path color="#f0a896" d="M91,160 89,159 88,160 87,163 89,164 92,162Z"/><path color="#f0ab99" d="M95,159 95,164 92,162 91,160 94,158Z"/><path color="#f3a293" d="M95,159 98,158 100,160 100,162 98,164 96,164 95,164Z"/><path color="#ed907e" d="M104,163 105,162 103,158 100,160 100,162Z"/><path color="#f3c9bd" d="M111,162 109,164 106,162 108,158 110,160Z"/><path color="#f0d5cc" d="M111,162 113,163 116,161 115,160 110,160ZM38,172 38,177 37,177 33,177 34,172 36,171Z"/><path color="#eadee1" d="M124,160 122,158 118,158 116,161 118,164 120,164Z"/><path color="#e7dbde" d="M126,164 124,160 124,160 120,164 123,166Z"/><path color="#e4e4ed" d="M126,164 124,160 128,157 131,160 131,161 126,164ZM38,177 41,177 41,181 39,183 38,181 37,177Z"/><path color="#b7c9f9" d="M131,160 131,161 133,164 138,160 134,157ZM107,230 103,228 102,230 102,233 103,234 105,233Z"/><path color="#bdd2f6" d="M139,167 139,167 133,164 133,164 138,160 138,160 140,160 140,161ZM138,174 136,172 137,170 139,167 139,167 142,168 142,172ZM142,191 139,190 140,186 145,186 145,187 145,188ZM148,218 145,215 142,215 141,218 144,221 145,222 148,219ZM44,230 44,225 46,223 49,227 49,229 45,230ZM145,230 143,227 139,227 142,231ZM81,242 84,244 87,243 87,239 84,239 81,241Z"/><path color="#ede7e7" d="M40,165 39,167 36,168 34,166 34,165 35,163ZM41,169 39,167 36,168 36,171 38,172 41,171Z"/><path color="#f3d8cf" d="M44,164 42,163 40,165 39,167 41,169 44,167Z"/><path color="#f3cfc3" d="M48,165 49,169 46,170 44,167 44,164 46,164ZM45,198 43,200 40,200 39,198 40,196 44,195 45,195ZM92,199 92,200 89,201 89,201 87,199 88,196 89,195 90,195ZM88,208 84,209 82,207 82,204 83,203 86,204 88,207Z"/><path color="#f0c9ba" d="M48,165 49,169 50,169 54,166 51,164ZM100,171 103,173 106,173 104,168 104,167 101,168 101,169ZM100,190 101,188 99,184 95,188 95,188 98,190Z"/><path color="#f0a593" d="M60,165 61,168 57,169 54,166 55,164ZM78,176 80,177 81,182 78,183 76,180ZM73,193 70,197 66,194 68,190 70,190Z"/><path color="#ea8d7b" d="M60,165 61,168 62,169 64,168 65,164 61,163Z"/><path color="#f09c8a" d="M66,169 64,168 65,164 66,163 70,164 69,168Z"/><path color="#f3a290" d="M71,164 70,164 69,168 71,171 73,167 72,165Z"/><path color="#f6b79c" d="M77,164 78,168 77,168 73,167 72,165Z"/><path color="#f3ae93" d="M77,164 82,162 84,165 84,167 82,168 78,168 77,164Z"/><path color="#f6bda2" d="M90,168 84,168 84,167 84,165 87,163 89,164Z"/><path color="#f0baa5" d="M95,164 96,164 95,166 91,169 90,168 89,164 92,162Z"/><path color="#f0c0ae" d="M101,169 101,168 98,164 96,164 95,166 96,168Z"/><path color="#f0c6b4" d="M101,168 98,164 100,162 104,163 104,167ZM17,181 14,183 10,181 12,178 14,177 16,178Z"/><path color="#edc3b4" d="M109,167 109,164 106,162 105,162 104,163 104,167 104,168Z"/><path color="#f3d2c9" d="M110,168 112,167 113,163 111,162 109,164 109,167ZM39,183 42,186 42,189 38,190 37,189 36,186ZM116,187 115,186 110,187 110,189 115,191 116,190Z"/><path color="#f0d8c9" d="M113,163 112,167 116,168 118,164 116,161 116,161Z"/><path color="#eddbd2" d="M123,169 122,170 117,169 116,168 118,164 120,164 123,166ZM126,169 123,169 122,170 122,171 123,172 126,172Z"/><path color="#f0dbd2" d="M126,169 123,169 123,166 126,164 126,164 128,167Z"/><path color="#e7d8de" d="M128,167 126,164 131,161 133,164 133,164 131,168 130,168Z"/><path color="#c0d2f6" d="M139,167 137,170 131,168 133,164Z"/><path color="#c0d5f9" d="M139,167 140,161 145,164 145,167 142,168Z"/><path color="#e4d5cf" d="M49,169 50,169 51,170 49,175 48,175 45,172 46,170Z"/><path color="#f0ab9f" d="M51,170 50,169 54,166 54,166 57,169 57,171 55,172Z"/><path color="#cfb7cc" d="M59,174 62,173 62,169 61,168 57,169 57,171Z"/><path color="#f0ae9f" d="M66,169 64,168 62,169 62,173 63,174 67,172Z"/><path color="#eda293" d="M69,174 67,172 66,169 69,168 71,171 72,172 72,172Z"/><path color="#f3b49c" d="M72,172 76,171 77,168 73,167 71,171Z"/><path color="#f3b196" d="M82,168 78,168 77,168 76,171 78,173 81,171Z"/><path color="#f9b196" d="M87,173 84,168 84,167 82,168 81,171 84,175Z"/><path color="#f6b799" d="M91,169 90,168 84,168 87,173 89,173 91,171Z"/><path color="#f3bda8" d="M97,172 95,173 91,171 91,169 95,166 96,168Z"/><path color="#f0c9c0" d="M108,173 106,173 104,168 109,167 110,168 110,172Z"/><path color="#f0dbcc" d="M113,173 116,171 117,169 116,168 112,167 110,168 110,172Z"/><path color="#ead5cf" d="M122,171 120,175 116,171 117,169 122,170Z"/><path color="#f0dbd5" d="M126,169 126,172 128,173 130,170 130,168 128,167ZM31,178 31,179 29,181 26,180 23,177 30,176Z"/><path color="#c3d2f3" d="M130,168 131,168 137,170 136,172 134,173 130,170ZM149,192 151,191 150,186 145,187 145,188Z"/><path color="#b7ccf0" d="M143,173 145,173 148,169 148,168 145,167 142,168 142,172Z"/><path color="#f0dedb" d="M30,176 23,177 23,177 24,174 27,173 30,174Z"/><path color="#f3d5c9" d="M31,178 30,176 30,174 31,172 34,172 33,177Z"/><path color="#eaeaf6" d="M41,171 43,173 42,177 41,177 38,177 38,172Z"/><path color="#dedbea" d="M45,172 43,173 42,177 46,179 48,175Z"/><path color="#cfcce4" d="M53,177 49,175 51,170 55,172 55,175 53,177Z"/><path color="#bdc6ea" d="M55,175 58,176 59,174 57,171 55,172Z"/><path color="#b1c9f6" d="M59,174 62,173 63,174 64,177 60,178 58,176ZM44,246 40,247 40,247 39,243 39,243 45,243ZM131,248 130,251 128,252 126,251 124,248 125,247 131,248Z"/><path color="#f0c0b1" d="M69,174 67,172 63,174 64,177 66,178 69,175ZM65,186 67,189 62,191 61,190 62,186 64,185Z"/><path color="#f0baae" d="M69,174 72,172 74,176 72,178 69,175Z"/><path color="#f0ae9c" d="M72,172 72,172 76,171 78,173 78,176 74,176Z"/><path color="#f0ab90" d="M84,175 81,171 78,173 78,176 78,176 80,177 84,176Z"/><path color="#eda590" d="M89,173 90,176 86,180 84,176 84,175 87,173Z"/><path color="#ed9c90" d="M91,171 89,173 90,176 92,177 95,176 95,173ZM90,186 89,186 86,186 84,185 84,183 86,181Z"/><path color="#e7b4ab" d="M97,172 95,173 95,176 97,178 100,176 98,172Z"/><path color="#dbcfd2" d="M98,172 100,176 102,176 103,173 100,171Z"/><path color="#c9d8f3" d="M102,177 102,176 103,173 106,173 108,173 107,175 106,176ZM130,170 134,173 132,177 131,178 128,176 128,173ZM53,225 49,227 46,223 47,222 47,221 50,222ZM97,221 98,218 98,218 101,220 101,225 100,225 97,225Z"/><path color="#e1d2d8" d="M113,176 113,173 110,172 108,173 107,175 111,179Z"/><path color="#f3d2c6" d="M113,176 113,173 116,171 120,175 120,176 115,178Z"/><path color="#dbd5d8" d="M124,177 121,178 120,176 120,175 122,171 123,172Z"/><path color="#d2d8e1" d="M126,172 123,172 124,177 126,177 128,176 128,173Z"/><path color="#aec3ed" d="M138,174 136,172 134,173 132,177 136,178 138,175Z"/><path color="#a8c3f3" d="M143,177 143,173 142,172 138,174 138,175 142,177ZM143,177 148,177 149,177 149,176 149,176 145,173 143,173ZM142,177 141,180 140,181 137,180 136,178 138,175Z"/><path color="#f0e1db" d="M22,177 21,182 19,182 17,181 16,178 20,176Z"/><path color="#edded8" d="M23,177 23,177 22,177 21,182 23,184 26,180Z"/><path color="#ead5d2" d="M31,178 31,179 33,182 38,181 37,177 33,177Z"/><path color="#e4e7f3" d="M42,177 41,177 41,181 45,180 46,180 46,179ZM141,239 141,240 144,242 147,242 149,238 142,238Z"/><path color="#c3d5f3" d="M53,177 50,181 50,181 46,180 46,179 48,175 49,175ZM49,208 52,208 52,203 48,202 46,205 46,207Z"/><path color="#d8cfd8" d="M53,177 50,181 52,183 57,181 53,177Z"/><path color="#aec6f3" d="M53,177 57,181 58,182 59,181 60,178 58,176 55,175ZM60,221 64,220 65,218 61,215 61,215 59,219 59,221ZM132,224 132,223 134,221 136,222 137,226 133,227Z"/><path color="#cfc9db" d="M66,178 66,178 64,177 60,178 59,181 62,182Z"/><path color="#f0c3b4" d="M72,180 72,178 69,175 66,178 66,178 68,181Z"/><path color="#f0a899" d="M73,181 76,180 78,176 78,176 74,176 72,178 72,180Z"/><path color="#f3a596" d="M86,181 84,183 81,182 80,177 84,176 86,180 86,181Z"/><path color="#f6a28d" d="M92,181 92,177 90,176 86,180 86,181Z"/><path color="#f09f8d" d="M93,183 92,181 92,177 95,176 97,178 97,181Z"/><path color="#ccd5ed" d="M102,177 102,176 100,176 97,178 97,181 99,182 103,181 103,181ZM41,220 44,220 44,217 41,216 40,217 40,220Z"/><path color="#c3d5f0" d="M102,177 106,176 106,180 103,181Z"/><path color="#cfd8f0" d="M111,179 107,175 106,176 106,180 110,181Z"/><path color="#f0cfc0" d="M113,176 111,179 110,181 110,181 114,182 115,180 115,178ZM44,204 43,200 40,200 39,202 41,204Z"/><path color="#f3d5c3" d="M115,178 120,176 121,178 121,182 120,182 115,180Z"/><path color="#ccd8f0" d="M124,177 121,178 121,182 123,182 126,181 126,177Z"/><path color="#c6d8f9" d="M126,177 126,181 128,183 131,181 131,178 128,176ZM136,199 138,200 139,204 135,203 135,199ZM138,200 142,200 143,202 140,205 139,204Z"/><path color="#b4c6f0" d="M132,177 136,178 137,180 133,183 131,181 131,178Z"/><path color="#a2c0f3" d="M143,177 148,177 145,182 141,180 142,177Z"/><path color="#edc3ab" d="M11,185 9,184 10,181 10,181 14,183 14,185Z"/><path color="#f6c3b1" d="M15,186 14,185 14,183 17,181 19,182 18,184Z"/><path color="#f3cfc0" d="M18,184 19,182 21,182 23,184 24,185 20,188ZM89,212 88,208 84,209 84,212Z"/><path color="#c9d5f0" d="M27,186 29,181 31,179 33,182 34,185 30,187ZM135,243 139,246 141,240 141,239 139,239 136,240Z"/><path color="#ded5e1" d="M39,183 36,186 34,185 33,182 38,181 39,183Z"/><path color="#ead2c9" d="M45,180 44,185 42,186 39,183 39,183 41,181ZM117,196 114,194 115,191 116,190 119,191 119,193Z"/><path color="#f0c9bd" d="M46,180 50,181 49,185 46,186 44,185 45,180ZM63,200 64,202 66,203 69,201 69,200 65,198Z"/><path color="#f6c9b4" d="M53,186 52,183 50,181 50,181 49,185 51,187ZM13,203 13,200 10,198 7,199 8,202 11,204ZM24,209 30,207 28,212 24,211Z"/><path color="#edd2c6" d="M53,186 56,187 58,185 58,182 57,181 52,183Z"/><path color="#f3dbd5" d="M62,182 59,181 58,182 58,185 62,186 64,185Z"/><path color="#edc6bd" d="M68,183 65,186 64,185 62,182 66,178 68,181ZM60,200 59,203 62,204 64,202 63,200ZM83,203 84,200 87,199 89,201 86,204Z"/><path color="#f3c3b1" d="M74,186 72,187 68,183 68,181 72,180 73,181 74,186ZM45,195 44,195 43,191 47,189 50,190 48,194ZM34,212 33,208 31,207 30,207 28,212 30,214Z"/><path color="#eda596" d="M74,186 77,185 78,183 76,180 73,181Z"/><path color="#ea726f" d="M84,183 81,182 78,183 77,185 81,188 84,185Z"/><path color="#f0a893" d="M93,183 92,181 86,181 86,181 90,186 93,183Z"/><path color="#f0bdae" d="M93,183 97,181 99,182 99,184 95,188 93,183Z"/><path color="#e1dbde" d="M105,186 103,181 99,182 99,184 101,188Z"/><path color="#d2d5ea" d="M110,181 109,186 106,186 105,186 103,181 103,181 106,180 110,181Z"/><path color="#ead2cc" d="M114,182 115,186 110,187 109,186 110,181Z"/><path color="#f0d2c6" d="M114,182 115,186 116,187 119,185 120,182 115,180ZM41,204 39,202 36,203 36,206 40,208ZM29,217 35,217 34,220 31,221 30,220Z"/><path color="#e1dbe1" d="M122,189 125,186 123,182 121,182 120,182 119,185Z"/><path color="#d5d8ea" d="M123,182 126,181 128,183 127,186 126,187 125,186Z"/><path color="#dee1f0" d="M128,183 127,186 130,188 133,185 133,183 131,181Z"/><path color="#b4c9f0" d="M137,180 133,183 133,185 134,185 139,185 140,181Z"/><path color="#b1c9f3" d="M145,182 145,183 145,186 140,186 139,185 140,181 141,180Z"/><path color="#b7ccf3" d="M145,187 150,186 150,186 148,183 145,183 145,186Z"/><path color="#edc6ae" d="M-1,184 -4,189 -1,190 3,186Z"/><path color="#f0c9b4" d="M5,186 3,186 -1,190 -0,191 4,192 6,188 5,186Z"/><path color="#f6c9b1" d="M12,189 11,185 9,184 5,186 6,188 8,189ZM60,200 59,203 57,204 54,201 54,201 57,198 60,200Z"/><path color="#f0c0ab" d="M13,190 15,189 15,186 14,185 11,185 12,189Z"/><path color="#f3c6b1" d="M15,186 15,189 19,190 20,190 20,188 18,184Z"/><path color="#ead2cf" d="M26,186 24,185 20,188 20,190 22,191 25,190Z"/><path color="#d2d2e1" d="M26,186 25,190 28,192 31,190 30,187 27,186Z"/><path color="#c6d2f0" d="M31,190 33,192 37,189 36,186 34,185 30,187ZM39,226 41,224 41,220 40,220 37,222 37,225Z"/><path color="#f3d2c0" d="M44,185 46,186 47,189 43,191 42,189 42,186Z"/><path color="#f3c9b4" d="M51,187 50,190 50,190 47,189 46,186 49,185ZM11,194 9,193 8,189 12,189 13,190 12,193ZM47,200 51,198 51,196 48,194 45,195 45,198Z"/><path color="#f6ccb7" d="M56,189 56,187 53,186 51,187 50,190 53,191ZM11,194 10,198 7,199 6,198 6,194 9,193Z"/><path color="#f3dbcf" d="M57,190 61,190 62,186 58,185 56,187 56,189Z"/><path color="#f6c9b7" d="M72,187 70,190 68,190 67,189 65,186 68,183ZM9,208 6,208 5,204 8,202 11,204 11,206Z"/><path color="#f09087" d="M74,186 76,190 73,193 73,193 70,190 72,187Z"/><path color="#e7514e" d="M74,186 76,190 79,190 81,188 81,188 77,185 74,186Z"/><path color="#e45a51" d="M86,186 86,190 85,191 81,188 81,188 84,185Z"/><path color="#ed968a" d="M89,186 90,190 89,191 86,190 86,186Z"/><path color="#f6c0a8" d="M93,183 90,186 89,186 90,190 92,190 95,188 95,188Z"/><path color="#eae4ea" d="M100,190 101,188 105,186 106,186 106,190 104,193 103,193ZM110,191 110,189 110,187 109,186 106,186 106,190Z"/><path color="#f6d5c9" d="M122,189 119,185 116,187 116,190 119,191 122,189Z"/><path color="#e7e4ed" d="M122,189 125,186 126,187 126,192 124,192 122,189Z"/><path color="#eae7f0" d="M127,192 130,189 130,188 127,186 126,187 126,192Z"/><path color="#dee1ed" d="M130,188 133,185 134,185 135,190 134,192 130,189Z"/><path color="#bdd5f6" d="M139,190 140,186 139,185 134,185 135,190 139,190ZM136,233 136,232 139,227 139,227 142,231 141,233Z"/><path color="#f3ccb4" d="M4,193 0,195 -1,195 -0,191 4,192Z"/><path color="#f0c3ae" d="M9,193 6,194 4,193 4,192 6,188 8,189Z"/><path color="#f3cfba" d="M12,193 16,196 18,195 19,190 15,189 13,190Z"/><path color="#c9d5f3" d="M24,194 21,196 18,195 19,190 20,190 22,191Z"/><path color="#ccdef3" d="M28,192 27,194 27,194 24,194 22,191 25,190Z"/><path color="#b1c9f9" d="M28,192 27,194 32,195 33,194 33,192 31,190Z"/><path color="#c3c9e4" d="M33,194 33,192 37,189 38,190 38,194 35,195Z"/><path color="#f6cfc3" d="M38,194 38,190 42,189 43,191 44,195 40,196Z"/><path color="#f0c0a8" d="M57,190 58,194 57,196 54,194 53,191 56,189Z"/><path color="#f6c3a8" d="M63,194 62,191 61,190 57,190 58,194 62,194Z"/><path color="#f0b19c" d="M63,194 62,191 67,189 68,190 66,194 64,195Z"/><path color="#e45451" d="M73,193 77,196 80,194 79,190 76,190Z"/><path color="#de4245" d="M82,195 83,195 85,191 81,188 79,190 80,194Z"/><path color="#e17875" d="M89,191 89,195 88,196 83,195 85,191 86,190Z"/><path color="#f0bda2" d="M90,195 89,195 89,191 90,190 92,190 95,194Z"/><path color="#f3c0a5" d="M95,194 96,194 98,190 95,188 92,190 95,194Z"/><path color="#e7d2d8" d="M100,190 103,193 99,196 96,194 98,190Z"/><path color="#eae4e7" d="M110,194 105,194 104,193 106,190 110,191Z"/><path color="#edd2c9" d="M110,194 111,195 114,194 115,191 110,189 110,191Z"/><path color="#e4d2d5" d="M119,193 119,191 122,189 124,192 122,195Z"/><path color="#e7e1ea" d="M122,195 125,196 128,194 127,192 126,192 124,192 122,195Z"/><path color="#e7e7f0" d="M130,195 128,194 127,192 130,189 134,192 134,192Z"/><path color="#c0d5f3" d="M139,195 137,196 134,192 134,192 135,190 139,190Z"/><path color="#bdd2f3" d="M144,194 142,196 139,195 139,190 139,190 142,191ZM148,194 149,192 145,188 142,191 144,194 148,194ZM145,209 146,208 151,212 151,213 146,213 145,210ZM146,208 151,212 154,210 152,208 146,207Z"/><path color="#f0c6b1" d="M6,198 6,198 1,198 0,195 4,193 6,194ZM24,207 24,209 30,207 31,207 30,205 28,204 27,204Z"/><path color="#f6ccb4" d="M11,194 10,198 13,200 15,198 16,196 12,193Z"/><path color="#f0ccc0" d="M21,196 18,195 16,196 15,198 18,201 22,199ZM27,204 28,204 28,199 27,198 24,200 24,202Z"/><path color="#ded5db" d="M27,198 27,194 24,194 21,196 22,199 24,200Z"/><path color="#ccd2e7" d="M28,199 31,199 32,195 27,194 27,194 27,198ZM71,213 68,213 70,208 72,208 72,208 73,212Z"/><path color="#dbdee4" d="M33,200 31,199 32,195 33,194 35,195 36,198 34,200Z"/><path color="#deccd2" d="M35,195 38,194 40,196 39,198 36,198Z"/><path color="#f3c9b7" d="M54,201 51,198 51,196 54,194 57,196 57,198ZM7,199 8,202 5,204 2,203 6,198 6,198ZM11,206 11,204 13,203 17,205 17,208 15,209Z"/><path color="#f3c3ae" d="M60,200 57,198 57,196 58,194 62,194Z"/><path color="#f3c0b1" d="M60,200 63,200 65,198 64,195 63,194 62,194 60,200Z"/><path color="#f3c6b7" d="M65,198 69,200 70,198 70,197 66,194 64,195ZM54,201 51,198 47,200 48,202 52,203 54,201ZM23,206 19,209 17,208 17,205 18,204 22,205ZM14,212 14,212 21,213 22,213 19,209 17,208 15,209Z"/><path color="#f3b4ab" d="M73,193 70,197 70,198 76,199 77,196 73,193Z"/><path color="#ea9090" d="M76,200 78,201 82,197 82,195 80,194 77,196 76,199Z"/><path color="#eab4ab" d="M82,195 83,195 88,196 87,199 84,200 82,197Z"/><path color="#edc9bd" d="M92,199 95,198 95,194 95,194 90,195Z"/><path color="#e4c9c6" d="M95,198 99,200 100,198 99,196 96,194 95,194Z"/><path color="#b7c6ed" d="M99,196 100,198 105,197 105,194 104,193 103,193Z"/><path color="#b4c3ea" d="M110,194 111,195 111,198 109,200 106,199 105,197 105,194Z"/><path color="#a2baf0" d="M118,199 114,199 111,198 111,195 114,194 117,196ZM116,221 118,220 118,217 115,215 112,217 112,219Z"/><path color="#c6c6e1" d="M121,198 122,195 122,195 119,193 117,196 118,199 118,199Z"/><path color="#ead8d8" d="M123,200 127,199 125,196 122,195 121,198Z"/><path color="#f0ded8" d="M127,199 129,200 131,198 130,195 128,194 125,196Z"/><path color="#d5dbed" d="M136,199 137,196 134,192 130,195 131,198 135,199Z"/><path color="#c9dbf9" d="M136,199 137,196 139,195 142,196 142,199 142,200 138,200Z"/><path color="#c6dbf3" d="M148,194 147,198 142,199 142,196 144,194Z"/><path color="#c3d5f9" d="M148,194 152,196 152,197 149,202 148,202 147,198 148,194Z"/><path color="#f9ccb4" d="M13,203 13,200 15,198 18,201 18,204 17,205Z"/><path color="#f6c9ba" d="M22,205 18,204 18,201 22,199 24,200 24,202Z"/><path color="#eadbd5" d="M28,199 31,199 33,200 30,205 28,204Z"/><path color="#f0d2c9" d="M34,200 36,203 39,202 40,200 39,198 36,198Z"/><path color="#edccc0" d="M46,205 44,204 43,200 45,198 47,200 48,202Z"/><path color="#edc6ba" d="M69,200 69,201 71,203 75,202 76,200 76,199 70,198Z"/><path color="#eac6c0" d="M76,200 75,202 77,205 81,203 78,201Z"/><path color="#e7aba5" d="M83,203 84,200 82,197 78,201 81,203 82,204Z"/><path color="#f0cfc3" d="M96,204 92,200 89,201 91,205 96,204ZM92,199 92,200 96,204 99,200 99,200 95,198ZM28,216 23,213 22,213 21,213 21,216 24,219Z"/><path color="#a5c0f3" d="M99,200 99,200 102,202 105,202 106,199 105,197 100,198ZM55,217 58,213 61,215 59,219ZM61,224 64,226 66,224 66,221 64,220 60,221Z"/><path color="#a8c0f0" d="M106,199 105,202 106,204 110,205 111,204 109,200Z"/><path color="#9fb7f3" d="M109,200 111,204 113,203 114,199 111,198ZM129,217 127,220 122,220 122,220 122,217 127,215ZM73,237 76,239 75,243 74,243 73,243 71,239Z"/><path color="#a2baf6" d="M118,203 117,205 113,203 114,199 118,199 118,199Z"/><path color="#b1c0ed" d="M123,204 123,200 121,198 118,199 118,203 122,205Z"/><path color="#edd8d8" d="M123,204 126,205 129,203 129,200 127,199 123,200Z"/><path color="#e4dbe1" d="M135,199 131,198 129,200 129,203 131,204 134,204 135,203Z"/><path color="#c3d5f6" d="M142,200 142,199 147,198 148,202 147,203 143,202ZM139,204 140,205 140,207 139,208 135,206 134,204 135,203ZM57,212 60,209 57,206 54,208 54,211ZM88,236 89,237 87,239 84,239 83,235 85,234Z"/><path color="#f3c6ba" d="M24,207 27,204 24,202 22,205 23,206Z"/><path color="#edc9b4" d="M33,200 30,205 31,207 33,208 36,206 36,203 34,200Z"/><path color="#f0d5c9" d="M46,207 46,205 44,204 41,204 40,208 40,208 43,210ZM43,210 40,208 38,212 42,213 43,212Z"/><path color="#cfcfe1" d="M57,204 57,206 54,208 52,208 52,203 54,201Z"/><path color="#c9d8f0" d="M63,208 62,204 59,203 57,204 57,206 60,209ZM55,224 55,223 59,221 60,221 61,224 58,228Z"/><path color="#e1ccd2" d="M63,209 66,207 66,203 64,202 62,204 63,208Z"/><path color="#f3ccc3" d="M66,207 66,203 69,201 71,203 72,208 70,208Z"/><path color="#e7ccc6" d="M72,208 71,203 75,202 77,205 76,207 72,208Z"/><path color="#eac9c9" d="M82,204 81,203 77,205 76,207 79,209 82,207Z"/><path color="#f0cfc6" d="M94,209 96,206 96,204 91,205 90,207ZM91,214 89,212 84,212 84,212 87,216 91,214Z"/><path color="#c3c6e7" d="M102,202 101,207 99,208 96,206 96,204 96,204 99,200Z"/><path color="#a5baed" d="M102,202 105,202 106,204 105,207 101,207Z"/><path color="#9cb4f6" d="M106,204 110,205 110,205 108,208 105,209 105,207Z"/><path color="#96b1ed" d="M113,203 111,204 110,205 110,205 114,209 116,208 117,205Z"/><path color="#9cb7ed" d="M122,205 120,209 118,210 116,208 117,205 118,203Z"/><path color="#b1c6f0" d="M123,204 126,205 126,206 124,210 120,209 122,205Z"/><path color="#c0cff6" d="M129,203 126,205 126,206 129,208 131,208 131,204Z"/><path color="#c0cff0" d="M135,206 132,209 131,208 131,204 134,204Z"/><path color="#bdd5f9" d="M140,205 140,207 145,209 146,208 146,207 147,203 143,202Z"/><path color="#bdcff3" d="M147,203 146,207 152,208 152,203 149,202 148,202Z"/><path color="#f3cfc6" d="M38,212 40,208 40,208 36,206 33,208 34,212 35,213Z"/><path color="#c9d2ed" d="M49,211 44,212 43,212 43,210 46,207 49,208Z"/><path color="#bacff6" d="M49,211 51,215 51,215 54,211 54,208 52,208 49,208ZM49,211 51,215 49,217 46,215 44,212ZM148,219 145,222 146,224 148,226 151,225 152,222ZM143,235 146,234 146,231 145,230 142,231 141,233Z"/><path color="#aec6f6" d="M57,212 60,209 63,208 63,209 64,212 61,215 61,215 58,213ZM39,235 38,239 36,239 34,237 35,235 37,234Z"/><path color="#decfd2" d="M63,209 66,207 70,208 68,213 67,213 64,212Z"/><path color="#ded2d8" d="M73,212 72,208 76,207 79,209 78,212 76,214Z"/><path color="#edcfc6" d="M84,212 82,214 78,212 79,209 82,207 84,209 84,212Z"/><path color="#f3d5c6" d="M91,214 93,212 94,209 90,207 88,207 88,208 89,212Z"/><path color="#f3d8c9" d="M93,212 97,213 100,210 99,208 96,206 94,209Z"/><path color="#a2b7f3" d="M101,207 105,207 105,209 105,210 102,211 100,210 99,208ZM120,214 121,215 122,217 122,220 118,220 118,217Z"/><path color="#96b4fc" d="M106,211 110,212 110,212 108,208 105,209 105,210Z"/><path color="#96b4f3" d="M110,212 112,211 114,209 110,205 108,208Z"/><path color="#8da8ed" d="M115,214 112,211 114,209 116,208 118,210 118,211ZM131,234 127,234 129,238 132,238 132,238 133,235Z"/><path color="#a5bdf0" d="M118,211 118,210 120,209 124,210 125,212 121,215 120,214ZM57,243 59,244 59,245 57,249 52,248 52,248 55,243Z"/><path color="#b7ccf9" d="M132,212 133,211 132,209 131,208 129,208 128,212ZM139,227 141,223 137,221 136,222 137,226Z"/><path color="#bad2f6" d="M135,206 132,209 133,211 137,213 138,212 139,208ZM96,240 96,243 93,245 90,244 91,239 94,238Z"/><path color="#c0d2f9" d="M140,207 145,209 145,210 142,213 138,212 139,208Z"/><path color="#f3ccbd" d="M29,217 30,214 28,212 24,211 23,213 28,216Z"/><path color="#f3d2c3" d="M29,217 29,217 30,214 34,212 35,213 36,215 35,217Z"/><path color="#eacfc6" d="M38,212 42,213 41,216 40,217 36,215 35,213Z"/><path color="#d2d5e7" d="M43,212 42,213 41,216 44,217 46,215 44,212Z"/><path color="#b4c6f3" d="M54,217 51,215 54,211 57,212 58,213 55,217Z"/><path color="#bdcff9" d="M71,213 68,213 67,213 67,217 68,217 71,217ZM71,225 71,225 69,229 71,231 75,229 75,227 74,226Z"/><path color="#ccd8f3" d="M71,213 71,217 73,219 76,217 76,214 73,212ZM94,236 91,232 88,236 89,237 91,239 94,238Z"/><path color="#eae7e7" d="M76,214 78,212 82,214 82,215 78,218 76,217ZM76,217 78,218 80,222 76,222 73,219 73,219Z"/><path color="#edd5d2" d="M83,219 82,215 82,214 84,212 87,216 87,217Z"/><path color="#e7d2cf" d="M98,218 98,218 93,218 91,214 91,214 93,212 97,213 98,216Z"/><path color="#d8cfdb" d="M102,215 102,211 100,210 97,213 98,216Z"/><path color="#9fbdf6" d="M105,216 105,216 106,211 105,210 102,211 102,215Z"/><path color="#96b1f3" d="M105,216 106,211 110,212 110,215 107,216Z"/><path color="#99b4f3" d="M115,215 112,217 110,215 110,212 110,212 112,211 115,214Z"/><path color="#9cb7f6" d="M115,215 118,217 120,214 118,211 115,214Z"/><path color="#a5baf3" d="M127,215 122,217 121,215 125,212 127,213Z"/><path color="#b4c6f6" d="M129,217 127,215 127,213 128,212 132,212 131,217Z"/><path color="#b7ccf6" d="M131,217 134,217 136,215 137,213 133,211 132,212ZM45,243 46,242 45,240 43,239 40,241 39,243ZM121,248 124,248 126,251 122,253 120,252 120,252Z"/><path color="#bad2f9" d="M142,213 142,215 141,218 140,218 136,215 137,213 138,212Z"/><path color="#bdd2f9" d="M145,210 146,213 145,215 142,215 142,213ZM148,218 151,215 159,219 152,222 148,219Z"/><path color="#bad5f3" d="M148,218 145,215 146,213 151,213 151,215Z"/><path color="#ead2c6" d="M35,217 36,215 40,217 40,220 37,222 34,220Z"/><path color="#c6d8f6" d="M46,215 44,217 44,220 47,222 47,221 49,217Z"/><path color="#cfd8f3" d="M53,220 54,217 51,215 51,215 49,217 47,221 50,222Z"/><path color="#e7eaf0" d="M55,223 53,220 54,217 55,217 59,219 59,221Z"/><path color="#abc0ed" d="M68,221 66,221 64,220 65,218 67,217 68,217Z"/><path color="#d8e1f6" d="M73,219 73,219 71,222 68,221 68,217 71,217Z"/><path color="#ede7e4" d="M83,220 83,219 82,215 78,218 80,222 80,222Z"/><path color="#f0dbd8" d="M83,220 83,219 87,217 89,221 86,222Z"/><path color="#f0ded2" d="M91,221 89,221 87,217 87,216 91,214 93,218Z"/><path color="#e7d8db" d="M91,222 91,221 93,218 98,218 97,221Z"/><path color="#c6d5f6" d="M104,219 101,220 98,218 98,216 102,215 105,216Z"/><path color="#b7c9f3" d="M104,219 107,222 109,222 110,221 107,216 105,216 105,216Z"/><path color="#a8c0f3" d="M110,221 112,219 112,217 110,215 107,216ZM114,225 116,222 120,226 117,229 115,229ZM131,234 130,229 132,228 136,232 136,233 136,233 133,235Z"/><path color="#a5bdf3" d="M129,217 127,220 128,221 132,223 134,221 134,217 131,217ZM42,230 40,235 43,237 46,235 45,230 44,230ZM98,233 94,236 94,238 96,240 99,239 99,234Z"/><path color="#bac9f9" d="M140,218 137,221 136,222 134,221 134,217 136,215Z"/><path color="#b4c9f6" d="M141,218 144,221 141,223 137,221 140,218ZM42,230 41,229 37,230 37,234 39,235 40,235ZM98,233 97,231 99,229 102,230 102,233 99,234ZM44,246 47,248 49,247 49,244 46,242 45,243ZM44,246 47,248 46,251 42,251 40,247Z"/><path color="#c3d2f6" d="M41,224 44,225 46,223 47,222 44,220 41,220ZM104,219 107,222 106,224 102,225 101,225 101,220ZM54,229 51,230 52,233 54,234 57,234 57,230Z"/><path color="#dee4f0" d="M55,224 55,223 53,220 50,222 53,225 54,225Z"/><path color="#dbe4f6" d="M71,222 73,219 76,222 74,226 71,225Z"/><path color="#d5dbf0" d="M80,226 75,227 74,226 76,222 80,222 80,222 81,226 81,226Z"/><path color="#e4dee7" d="M83,220 86,222 86,225 81,226 80,222Z"/><path color="#eddbdb" d="M91,222 91,221 89,221 86,222 86,225 88,227 91,224Z"/><path color="#e4dbe4" d="M91,222 97,221 97,225 95,226 91,224Z"/><path color="#aec3f6" d="M112,225 109,222 107,222 106,224 109,229Z"/><path color="#a8c3f6" d="M114,225 116,222 116,221 112,219 110,221 109,222 112,225Z"/><path color="#9fb7f0" d="M116,222 116,221 118,220 122,220 122,220 122,224 121,226 120,226Z"/><path color="#9fb7f6" d="M122,220 122,224 126,224 128,221 127,220Z"/><path color="#9fbaf6" d="M127,226 126,224 128,221 132,223 132,224Z"/><path color="#baccf6" d="M146,224 145,222 144,221 141,223 139,227 139,227 139,227 143,227Z"/><path color="#c0d8f9" d="M42,230 41,229 39,226 41,224 44,225 44,230Z"/><path color="#ccd5f6" d="M54,225 53,225 49,227 49,229 51,230 54,229Z"/><path color="#c3d8f6" d="M55,224 58,228 58,229 57,230 54,229 54,225Z"/><path color="#abc0f6" d="M58,228 61,224 64,226 64,228 62,229 58,229Z"/><path color="#a2bdf3" d="M64,226 64,228 66,230 69,229 71,225 66,224ZM120,226 121,226 123,229 122,232 118,231 117,229ZM127,234 127,229 123,229 122,232 123,235ZM73,234 75,234 79,236 79,237 76,239 73,237Z"/><path color="#c6d8f3" d="M80,231 77,231 75,229 75,227 80,226Z"/><path color="#c9dbf3" d="M80,231 80,226 81,226 86,230 86,230 80,232Z"/><path color="#d8def0" d="M86,230 88,229 88,227 86,225 81,226 81,226Z"/><path color="#e7e7f3" d="M91,224 88,227 88,229 91,231 95,230 95,226Z"/><path color="#c0cff3" d="M95,226 95,230 97,231 99,229 100,225 97,225Z"/><path color="#b7c6f6" d="M101,225 102,225 103,228 102,230 99,229 100,225Z"/><path color="#b4c9f9" d="M109,229 107,230 103,228 102,225 106,224 109,229ZM49,238 51,239 51,242 49,244 46,242 45,240Z"/><path color="#a8c0f6" d="M114,225 115,229 111,231 109,229 109,229 112,225Z"/><path color="#a2c0f6" d="M127,229 127,226 126,224 122,224 121,226 123,229 127,229Z"/><path color="#a8bdf3" d="M127,229 127,226 132,224 133,227 132,228 130,229Z"/><path color="#bacff9" d="M132,228 136,232 139,227 139,227 137,226 133,227Z"/><path color="#b4ccf9" d="M146,231 148,229 148,226 146,224 143,227 145,230Z"/><path color="#b7d2f9" d="M148,226 151,225 154,227 151,231 148,229Z"/><path color="#abc3f6" d="M52,233 49,236 46,235 45,230 49,229 51,230ZM46,235 49,236 49,238 45,240 43,239 43,237ZM51,242 49,244 49,247 52,248 55,243Z"/><path color="#a2b7f6" d="M57,230 57,234 58,234 61,233 62,229 58,229Z"/><path color="#99b7f0" d="M64,235 61,233 62,229 64,228 66,230 66,234Z"/><path color="#a8bdf6" d="M68,235 71,233 71,231 69,229 66,230 66,234Z"/><path color="#c0cff9" d="M75,229 71,231 71,233 73,234 75,234 77,231Z"/><path color="#c3d8f9" d="M80,231 77,231 75,234 79,236 81,234 80,232ZM91,239 89,237 87,239 87,243 90,244 90,244Z"/><path color="#cfdbf3" d="M80,232 81,234 83,235 85,234 86,230Z"/><path color="#e1e7f0" d="M86,230 88,229 91,231 91,232 88,236 85,234 86,230Z"/><path color="#dbdef3" d="M98,233 97,231 95,230 91,231 91,232 94,236Z"/><path color="#a2baf3" d="M109,229 107,230 105,233 109,235 112,234 111,231ZM119,246 121,248 124,248 125,247 126,244 122,243Z"/><path color="#a5c0f6" d="M115,229 117,229 118,231 117,234 117,234 113,235 112,234 111,231Z"/><path color="#99b1f3" d="M123,235 122,232 118,231 117,234 123,236Z"/><path color="#a2bdf0" d="M131,234 130,229 127,229 127,229 127,234 127,234Z"/><path color="#b7cff9" d="M146,231 148,229 151,231 151,233 149,236 146,234Z"/><path color="#aec3f3" d="M43,237 43,239 40,241 38,239 39,235 40,235Z"/><path color="#8aa5f0" d="M52,233 49,236 49,238 51,239 54,238 54,234ZM93,245 93,247 95,250 100,248 98,245 96,243ZM91,249 91,252 94,253 95,250 93,247ZM91,252 90,252 88,257 90,258 90,258 94,256 94,253 94,253Z"/><path color="#90a8f0" d="M54,234 54,238 56,239 58,236 58,234 57,234ZM90,252 88,257 87,257 84,254 87,251Z"/><path color="#96b1f0" d="M62,238 62,238 58,236 58,234 61,233 64,235ZM99,239 101,240 101,242 98,245 96,243 96,240Z"/><path color="#96aef0" d="M68,239 68,235 66,234 64,235 62,238 67,240Z"/><path color="#9cb7f3" d="M68,239 71,239 73,237 73,234 71,233 68,235ZM67,240 67,242 61,243 61,243 62,238 62,238Z"/><path color="#c0d2f3" d="M79,236 79,237 81,241 84,239 83,235 81,234Z"/><path color="#9cb4f0" d="M99,234 102,233 103,234 104,238 101,240 99,239Z"/><path color="#90abed" d="M109,235 108,239 107,239 104,238 103,234 105,233Z"/><path color="#7593e4" d="M109,235 108,239 110,240 113,239 113,235 112,234Z"/><path color="#849ced" d="M117,241 116,241 113,239 113,235 117,234 119,239Z"/><path color="#8da8f0" d="M120,239 123,237 123,236 117,234 117,234 119,239ZM91,249 88,247 86,248 87,251 90,252 91,252Z"/><path color="#90abf0" d="M127,234 127,234 123,235 123,236 123,237 126,240 129,238Z"/><path color="#9fb4ed" d="M133,235 136,233 139,239 136,240 132,238Z"/><path color="#ccd8f6" d="M141,239 142,238 143,235 141,233 136,233 136,233 139,239Z"/><path color="#cfdef6" d="M142,238 149,238 149,238 149,236 146,234 143,235Z"/><path color="#aec9f3" d="M39,243 36,242 36,239 38,239 40,241 39,243Z"/><path color="#9cb4f3" d="M54,238 51,239 51,242 55,243 57,243 56,239Z"/><path color="#a2bdf6" d="M58,236 62,238 61,243 59,244 57,243 56,239ZM68,239 71,239 73,243 68,243 67,242 67,240Z"/><path color="#b1c6f3" d="M75,243 76,239 79,237 81,241 81,242 79,244Z"/><path color="#93abf0" d="M105,244 107,239 104,238 101,240 101,242 104,244Z"/><path color="#7e99ea" d="M105,244 107,239 108,239 110,240 110,243 109,245 108,245Z"/><path color="#758dea" d="M110,240 113,239 116,241 114,244 110,243Z"/><path color="#8dabf3" d="M119,246 122,243 120,239 119,239 117,241 119,246Z"/><path color="#8da8f3" d="M122,243 126,244 127,243 126,240 123,237 120,239Z"/><path color="#87a2ea" d="M132,238 131,242 129,243 127,243 126,240 129,238Z"/><path color="#849fea" d="M132,238 131,242 134,243 135,243 136,240 132,238Z"/><path color="#abc0f3" d="M79,244 81,242 84,244 85,247 81,249 80,248Z"/><path color="#abc6f6" d="M90,244 87,243 84,244 85,247 86,248 88,247Z"/><path color="#90abf3" d="M90,244 90,244 88,247 91,249 93,247 93,245Z"/><path color="#87a2ed" d="M103,247 104,244 101,242 98,245 100,248 100,248Z"/><path color="#7e96ea" d="M103,247 104,244 105,244 108,245 106,248Z"/><path color="#6f8dea" d="M109,245 110,243 114,244 114,247 111,249Z"/><path color="#7593ea" d="M119,246 115,247 114,247 114,244 116,241 117,241Z"/><path color="#a8bdf0" d="M127,243 129,243 131,248 125,247 126,244Z"/><path color="#90a8f3" d="M134,243 133,248 131,248 131,248 129,243 131,242Z"/><path color="#9cb1f0" d="M134,243 133,248 134,248 139,246 139,246 135,243Z"/><path color="#99b1f0" d="M87,251 84,254 84,254 81,250 81,249 85,247 86,248Z"/><path color="#7e99ed" d="M100,248 100,248 95,250 94,253 94,253 100,253 102,252Z"/><path color="#7890e7" d="M103,247 106,248 106,252 103,252 102,252 100,248Z"/><path color="#7593e7" d="M106,248 108,245 109,245 111,249 111,251 107,252 106,252Z"/><path color="#6387ea" d="M111,251 113,254 118,252 115,247 114,247 111,249Z"/><path color="#7b99ea" d="M119,246 121,248 120,252 118,252 115,247 119,246ZM113,254 118,252 120,252 120,252 119,255 115,256 113,255Z"/><path color="#7899ea" d="M96,257 94,256 94,253 100,253 99,256Z"/><path color="#7293e7" d="M103,252 104,257 101,258 99,256 100,253 102,252Z"/><path color="#84a5f0" d="M103,252 104,257 106,259 108,256 107,252 106,252Z"/><path color="#81a5f0" d="M107,252 111,251 113,254 113,255 113,256 108,256Z"/><path color="#7b9ced" d="M97,261 92,262 90,258 94,256 96,257Z"/><path color="#7596e7" d="M100,261 99,262 97,261 96,257 99,256 101,258Z"/><path color="#7596ea" d="M104,257 101,258 100,261 104,261 107,259 106,259Z"/><path color="#87a5f0" d="M108,256 113,256 111,259 108,261 107,259 106,259Z"/><path color="#819fed" d="M105,337 102,370 99,262 100,261 104,261Z"/><path color="#81a2ed" d="M105,337 104,261 107,259 108,261 110,274 111,284Z"/></g></g>
<path d="M75.0,183.0 L80.0,183.7 L84.3,183.0 L86.8,183.7 L89.9,186.2 L91.2,188.7 L88.7,193.0 L86.8,197.4 L84.9,199.9 L81.8,201.7 L80.0,199.3 L78.7,198.0 L75.0,196.8 L71.8,194.9 L72.5,192.4 L73.1,188.7Z" fill="#e07062" stroke="none" stroke-width="0" stroke-linejoin="round"/><path d="M75.0,183.0 L80.0,183.7 L81.0,190.0 L79.0,196.0 L75.0,196.8 L71.8,194.9 L72.5,192.4 L73.1,188.7Z" fill="#c82838" stroke="none" stroke-width="0" stroke-linejoin="round"/><path d="M80.0,183.7 L84.3,183.0 L83.0,192.0 L80.0,198.0 L78.7,198.0 L79.0,196.0 L81.0,190.0Z" fill="#d44848" stroke="none" stroke-width="0" stroke-linejoin="round"/><path d="M71.8,194.9 L78.7,196.1 L80.0,199.3 L77.5,199.3 L72.5,198.0Z" fill="#e06050" stroke="none" stroke-width="0" stroke-linejoin="round"/><path d="M75.0,183.0 L80.0,183.7 L84.3,183.0 L86.8,183.7 L89.9,186.2 L91.2,188.7 L88.7,193.0 L86.8,197.4 L84.9,199.9 L81.8,201.7 L80.0,199.3 L78.7,198.0 L75.0,196.8 L71.8,194.9 L72.5,192.4 L73.1,188.7Z" fill="none" stroke="#111" stroke-width="1.0" stroke-linejoin="round"/><path d="M71.8,194.9 L78.7,196.1 L80.0,199.3" fill="none" stroke="#111" stroke-width="1.0" stroke-linejoin="round"/><path d="M70.0,199.9 L73.7,198.6 L78.7,198.6 L80.0,199.9 L80.6,204.9 L81.8,208.6 L81.2,213.0 L77.5,214.8 L73.7,213.0 L70.6,211.1 L71.2,207.4 L70.6,203.6Z" fill="#f0c0a8" stroke="#111" stroke-width="1.0" stroke-linejoin="round"/><path d="M87.4,160.0 L83.7,162.5 L80.0,161.8 L76.2,163.7 L73.7,166.2 L70.0,169.3 L69.4,171.2 L71.2,173.7 L73.7,176.2 L77.5,178.1 L81.8,176.2 L82.4,173.1 L86.8,171.8 L89.9,170.6 L93.0,170.0 L96.2,173.7 L98.7,175.6 L100.5,173.7 L99.9,171.2 L97.4,166.2 L95.5,161.8 L94.9,160.5" fill="none" stroke="#111" stroke-width="1.0" stroke-linejoin="round"/>
<path d="M51.0,225.7 L54.4,220.1 L58.8,217.9 L63.2,214.6 L65.5,219.0 L63.2,223.4 L61.0,224.5 L58.8,229.0 L56.6,226.8 L53.3,227.9Z" fill="none" stroke="#3c9c3c" stroke-width="0.8" stroke-linejoin="round"/>
<path d="M44.2,173.7 H70 M44.2,207.6 H70.5 M44.2,173.7 V282.6 H58" fill="none" stroke="#2a2a2a" stroke-width="0.9" stroke-dasharray="3.6,1.8"/>
<path d="M44.2,189 H73" fill="none" stroke="#888" stroke-width="0.9" stroke-dasharray="3.6,1.8"/>
<path d="M60.3,229 V266.5" fill="none" stroke="#3c9c3c" stroke-width="0.9" stroke-dasharray="3.6,1.8"/>
<rect x="58" y="267" width="5.5" height="5.5" fill="#fff" stroke="#3a9a3a" stroke-width="0.7"/>
<rect x="58" y="279" width="5.5" height="5.5" fill="#fff" stroke="#222" stroke-width="0.7"/>
<text x="46.5" y="171.5" class="sm">foot</text>
<text x="46.5" y="187" class="sm">hand</text>
<text x="46.5" y="205.5" class="sm">tongue</text>
<text x="71.9" y="272.8" class="lgA" style="fill:#3c9c3c" textLength="77.8" lengthAdjust="spacingAndGlyphs">Glasser area 44 &amp; 45</text>
<text x="72.7" y="284.8" class="lgA" textLength="82.7" lengthAdjust="spacingAndGlyphs">HCP movement tasks</text>
<clipPath id="cFR"><path d="M157.5,212.3 C157.9,209.4 159.2,205.7 160.9,203.5 C162.6,201.3 164.9,199.9 167.5,199.0 C170.1,198.1 174.6,199.0 176.4,197.9 C178.2,196.8 178.1,195.2 178.6,192.4 C179.1,189.6 179.3,185.0 179.7,181.3 C180.1,177.6 180.2,173.5 180.8,170.2 C181.4,166.9 180.5,163.7 183.1,161.3 C185.7,158.9 192.0,157.1 196.4,155.8 C200.8,154.5 205.3,153.5 209.7,153.5 C214.1,153.5 218.6,155.6 223.0,155.8 C227.4,156.0 231.9,155.1 236.3,154.7 C240.7,154.3 244.8,152.8 249.6,153.5 C254.4,154.2 260.4,156.7 265.2,159.1 C270.0,161.5 274.4,166.2 278.5,168.0 C282.6,169.8 286.1,170.2 289.6,170.2 C293.1,170.2 297.3,167.3 299.5,168.0 C301.7,168.7 303.1,171.3 302.9,174.6 C302.7,177.9 300.6,184.2 298.4,187.9 C296.2,191.6 293.3,194.2 289.6,196.8 C285.9,199.4 279.3,202.0 276.3,203.5 C273.3,205.0 271.4,204.2 271.8,205.7 C272.2,207.2 277.0,209.4 278.5,212.3 C280.0,215.2 280.7,220.1 280.7,223.4 C280.7,226.7 280.7,230.1 278.5,232.3 C276.3,234.5 271.5,235.7 267.4,236.8 C263.3,237.9 258.5,239.4 254.1,239.0 C249.7,238.6 244.5,235.6 240.8,234.5 C237.1,233.4 234.1,231.2 231.9,232.3 C229.7,233.4 228.5,237.9 227.4,241.2 C226.3,244.5 226.7,249.2 225.2,252.3 C223.7,255.4 221.5,258.7 218.6,260.0 C215.7,261.3 210.5,261.3 207.5,260.0 C204.5,258.7 202.3,255.4 200.8,252.3 C199.3,249.2 199.7,243.4 198.6,241.2 C197.5,239.0 195.3,237.9 194.2,239.0 C193.1,240.1 193.4,245.8 191.9,247.8 C190.4,249.8 187.5,251.6 185.3,251.2 C183.1,250.8 180.4,248.4 178.6,245.6 C176.8,242.8 176.4,237.4 174.2,234.5 C172.0,231.6 167.9,230.1 165.3,227.9 C162.7,225.7 160.0,223.8 158.7,221.2 C157.4,218.6 157.1,215.2 157.5,212.3Z"/></clipPath><g clip-path="url(#cFR)"><path d="M157.5,212.3 C157.9,209.4 159.2,205.7 160.9,203.5 C162.6,201.3 164.9,199.9 167.5,199.0 C170.1,198.1 174.6,199.0 176.4,197.9 C178.2,196.8 178.1,195.2 178.6,192.4 C179.1,189.6 179.3,185.0 179.7,181.3 C180.1,177.6 180.2,173.5 180.8,170.2 C181.4,166.9 180.5,163.7 183.1,161.3 C185.7,158.9 192.0,157.1 196.4,155.8 C200.8,154.5 205.3,153.5 209.7,153.5 C214.1,153.5 218.6,155.6 223.0,155.8 C227.4,156.0 231.9,155.1 236.3,154.7 C240.7,154.3 244.8,152.8 249.6,153.5 C254.4,154.2 260.4,156.7 265.2,159.1 C270.0,161.5 274.4,166.2 278.5,168.0 C282.6,169.8 286.1,170.2 289.6,170.2 C293.1,170.2 297.3,167.3 299.5,168.0 C301.7,168.7 303.1,171.3 302.9,174.6 C302.7,177.9 300.6,184.2 298.4,187.9 C296.2,191.6 293.3,194.2 289.6,196.8 C285.9,199.4 279.3,202.0 276.3,203.5 C273.3,205.0 271.4,204.2 271.8,205.7 C272.2,207.2 277.0,209.4 278.5,212.3 C280.0,215.2 280.7,220.1 280.7,223.4 C280.7,226.7 280.7,230.1 278.5,232.3 C276.3,234.5 271.5,235.7 267.4,236.8 C263.3,237.9 258.5,239.4 254.1,239.0 C249.7,238.6 244.5,235.6 240.8,234.5 C237.1,233.4 234.1,231.2 231.9,232.3 C229.7,233.4 228.5,237.9 227.4,241.2 C226.3,244.5 226.7,249.2 225.2,252.3 C223.7,255.4 221.5,258.7 218.6,260.0 C215.7,261.3 210.5,261.3 207.5,260.0 C204.5,258.7 202.3,255.4 200.8,252.3 C199.3,249.2 199.7,243.4 198.6,241.2 C197.5,239.0 195.3,237.9 194.2,239.0 C193.1,240.1 193.4,245.8 191.9,247.8 C190.4,249.8 187.5,251.6 185.3,251.2 C183.1,250.8 180.4,248.4 178.6,245.6 C176.8,242.8 176.4,237.4 174.2,234.5 C172.0,231.6 167.9,230.1 165.3,227.9 C162.7,225.7 160.0,223.8 158.7,221.2 C157.4,218.6 157.1,215.2 157.5,212.3Z" fill="#e2e6f2"/><g fill="currentColor" stroke="currentColor" stroke-width="0.5"><path color="#c9d5f3" d="M200,155 200,155 196,157 193,155 193,151 195,150 198,152ZM242,204 240,203 237,204 237,208 241,208 242,206Z"/><path color="#cccce1" d="M202,155 204,151 204,150 201,149 198,152 200,155Z"/><path color="#e1a8a8" d="M202,155 204,156 208,156 209,155 208,151 204,151Z"/><path color="#ed9081" d="M210,150 213,151 213,155 209,155 208,151ZM226,173 226,172 222,170 220,176 223,177 225,177Z"/><path color="#e78a7e" d="M213,155 214,156 217,154 217,152 214,151 213,151Z"/><path color="#ea7b6c" d="M217,152 219,151 222,152 223,154 223,155 219,157 217,154Z"/><path color="#ea7e6c" d="M229,150 225,149 222,152 223,154 229,154Z"/><path color="#e78172" d="M234,151 230,155 229,154 229,150 229,150Z"/><path color="#ed8772" d="M234,151 230,155 230,156 235,156 238,155 237,153 235,151Z"/><path color="#ed9687" d="M238,155 237,153 241,148 244,151 244,154 240,156Z"/><path color="#f0c0ae" d="M246,156 244,154 244,151 246,150 247,150 248,155ZM259,185 262,188 265,184 265,183 262,181 260,182Z"/><path color="#f0c6b4" d="M251,154 251,152 250,150 247,150 248,155 250,155Z"/><path color="#d2c9d2" d="M251,154 251,152 254,151 256,153 257,155 256,156Z"/><path color="#abc6f6" d="M263,155 261,157 257,155 256,153 260,150 262,152 263,155ZM219,252 222,251 223,249 220,245 217,249 218,251Z"/><path color="#dee1f0" d="M182,155 185,155 186,158 182,160 182,159 181,156Z"/><path color="#dee4f3" d="M190,157 187,153 185,155 186,158 188,159 190,158Z"/><path color="#d2dbf3" d="M196,159 193,162 190,158 190,157 193,155 196,157Z"/><path color="#c9d8f9" d="M200,159 200,155 196,157 196,159 198,160Z"/><path color="#c6d5f3" d="M202,155 204,156 204,159 203,160 200,159 200,155 200,155ZM253,182 250,182 248,181 247,180 251,177 254,178ZM273,185 276,181 278,180 280,183 280,184 278,186 274,187ZM160,209 160,211 162,212 165,211 165,209 163,206ZM227,232 228,232 231,230 230,227 228,226 225,228 225,230ZM189,254 187,258 186,258 184,252 184,252 188,252Z"/><path color="#e4968d" d="M204,156 208,156 209,159 208,161 204,159Z"/><path color="#f0907b" d="M213,155 214,156 214,159 209,159 208,156 209,155Z"/><path color="#ea8775" d="M217,154 219,157 218,160 215,159 214,159 214,156Z"/><path color="#e77563" d="M223,160 218,160 218,160 219,157 223,155 225,159Z"/><path color="#ed7b69" d="M230,155 230,156 229,159 227,160 225,159 223,155 223,154 229,154ZM225,164 224,167 228,168 230,167 230,165 228,163Z"/><path color="#ed816f" d="M235,159 235,156 230,156 229,159 233,161Z"/><path color="#f08d7b" d="M238,160 240,157 240,156 238,155 235,156 235,159Z"/><path color="#eda596" d="M246,159 242,160 240,157 240,156 244,154 246,156Z"/><path color="#f3c6ae" d="M250,155 248,155 246,156 246,159 247,161 248,161 252,159ZM254,183 254,185 256,186 259,185 260,182 258,180Z"/><path color="#e4c6c0" d="M255,159 256,156 251,154 250,155 252,159 254,160Z"/><path color="#abc6f9" d="M255,159 256,156 257,155 261,157 261,160 259,160Z"/><path color="#a5baf3" d="M262,162 266,160 263,155 261,157 261,160Z"/><path color="#9fbaf6" d="M266,160 263,155 263,155 267,154 269,157 267,160ZM212,244 214,243 212,239 210,238 208,239 209,244Z"/><path color="#dbe1f6" d="M179,163 179,165 185,164 182,160 182,159 178,162Z"/><path color="#e1e4f0" d="M182,160 185,164 186,164 187,163 188,159 186,158ZM171,243 173,241 175,242 176,247 173,248 171,247Z"/><path color="#dbdbea" d="M190,158 188,159 187,163 191,165 194,164 194,164 193,162Z"/><path color="#ccd5f3" d="M198,160 196,159 193,162 194,164 199,162ZM271,162 275,164 277,163 277,159 277,159 272,159Z"/><path color="#c9d8f6" d="M200,159 203,160 202,163 200,163 199,162 198,160ZM230,227 233,225 233,222 230,220 227,221 228,226ZM231,230 230,227 233,225 236,227 236,230 236,231 233,231Z"/><path color="#dbc6d2" d="M203,160 204,159 208,161 208,163 205,165 202,163Z"/><path color="#ed937e" d="M208,161 208,163 211,164 212,164 215,159 214,159 209,159Z"/><path color="#ed9381" d="M216,167 215,167 212,164 215,159 218,160 218,160 218,161Z"/><path color="#ea7b69" d="M223,160 218,160 218,161 221,164 222,163Z"/><path color="#e77b66" d="M223,160 222,163 225,164 228,163 227,160 225,159Z"/><path color="#f0816f" d="M234,163 230,165 228,163 227,160 229,159 233,161Z"/><path color="#ed8775" d="M236,164 234,163 233,161 235,159 238,160 238,164Z"/><path color="#ed907e" d="M239,164 241,163 242,160 240,157 238,160 238,164Z"/><path color="#e7aea5" d="M247,161 244,165 241,163 242,160 246,159Z"/><path color="#e1d5d5" d="M254,163 250,165 248,161 252,159 254,160Z"/><path color="#b7c9f3" d="M255,164 257,164 259,160 255,159 254,160 254,163ZM203,186 201,186 199,182 203,181 205,182 203,186ZM170,212 170,208 169,207 165,209 165,211 167,213Z"/><path color="#b4ccf6" d="M257,164 260,165 263,164 263,163 262,162 261,160 259,160ZM200,177 202,178 206,176 206,173 201,173 201,173ZM167,223 165,226 166,229 167,230 169,229 170,228 167,223Z"/><path color="#a5bded" d="M263,163 268,163 267,160 266,160 262,162Z"/><path color="#a2baf0" d="M267,160 268,163 268,163 271,162 272,159 271,158 269,157Z"/><path color="#cfd8f3" d="M179,166 182,170 186,168 186,164 185,164 179,165ZM193,176 191,176 189,174 192,171 193,171 194,173Z"/><path color="#cfd8ea" d="M186,164 186,168 187,169 191,169 191,165 187,163Z"/><path color="#f6d2c3" d="M193,171 192,171 191,169 191,165 194,164 196,167ZM267,205 270,201 273,203 273,208 269,208 269,208Z"/><path color="#edcfc9" d="M199,162 194,164 194,164 196,167 197,168 199,167 200,163Z"/><path color="#ded8e4" d="M202,163 205,165 205,167 202,168 199,167 200,163Z"/><path color="#e4cfd5" d="M205,165 208,163 211,164 208,169 207,170 205,167Z"/><path color="#ed9f96" d="M212,170 215,167 212,164 211,164 208,169Z"/><path color="#ed8a78" d="M218,168 221,168 221,164 218,161 216,167Z"/><path color="#ed7e6c" d="M225,164 224,167 221,168 221,168 221,164 222,163ZM226,172 222,170 221,168 224,167 228,168Z"/><path color="#e77869" d="M234,169 232,169 230,167 230,165 234,163 236,164Z"/><path color="#ed9684" d="M240,169 239,164 238,164 236,164 234,169 237,170 237,170ZM228,181 225,183 222,181 223,177 225,177 228,179Z"/><path color="#f0998d" d="M240,169 239,164 241,163 244,165 245,168 243,169Z"/><path color="#dee7f3" d="M248,161 250,165 250,168 248,168 245,168 244,165 247,161Z"/><path color="#cfd2e4" d="M255,164 256,169 253,170 250,168 250,165 254,163Z"/><path color="#b7ccf9" d="M255,164 256,169 258,169 259,168 260,165 257,164Z"/><path color="#bac9ed" d="M263,164 265,167 263,170 259,168 260,165Z"/><path color="#a8c3f6" d="M263,164 265,167 268,167 268,163 268,163 263,163ZM185,229 186,226 183,224 180,227 181,230 181,230ZM208,261 205,262 204,261 203,257 204,256 209,258ZM213,257 213,262 212,262 208,261 209,258 210,256Z"/><path color="#bac9f0" d="M268,167 268,163 271,162 275,164 274,166 271,169 270,168Z"/><path color="#dbe4f6" d="M277,163 275,164 274,166 278,169 280,168 280,164Z"/><path color="#e7dbdb" d="M286,164 283,163 280,164 280,168 282,169 286,166Z"/><path color="#f3c3ab" d="M291,168 288,170 286,166 286,164 287,164 288,164 291,168ZM258,224 258,222 256,220 254,221 252,226 254,227Z"/><path color="#f0a28d" d="M296,170 295,166 295,166 297,165 301,165 302,169 302,169Z"/><path color="#d8e1f9" d="M177,167 179,166 182,170 181,172 180,173 176,169Z"/><path color="#c6d5f6" d="M181,172 186,174 187,173 187,169 186,168 182,170ZM191,176 189,174 187,173 186,174 186,177 187,178ZM275,192 273,190 274,187 278,186 279,189ZM205,219 202,221 204,225 206,226 208,222 206,219Z"/><path color="#ccd2e7" d="M187,169 187,173 189,174 192,171 191,169Z"/><path color="#f3d2c6" d="M194,173 193,171 196,167 197,168 198,172ZM273,241 269,240 272,235 272,234 273,235 274,238Z"/><path color="#e7d2cf" d="M198,172 197,168 199,167 202,168 201,173 201,173Z"/><path color="#dee4ed" d="M205,167 207,170 207,173 206,173 201,173 202,168ZM175,242 178,242 179,242 179,247 178,248 176,247Z"/><path color="#e7b7b4" d="M213,172 210,174 207,173 207,170 208,169 212,170Z"/><path color="#ea8a7b" d="M215,174 213,172 212,170 215,167 216,167 218,168 216,173Z"/><path color="#ed998a" d="M216,173 218,168 221,168 221,168 222,170 220,176 220,176Z"/><path color="#e77e6c" d="M231,174 232,173 232,169 230,167 228,168 226,172 226,173Z"/><path color="#ed9387" d="M237,170 236,173 232,173 232,169 234,169Z"/><path color="#f3c6b4" d="M241,175 243,171 243,169 240,169 237,170 240,175ZM215,174 214,177 214,178 217,179 220,176 216,173ZM240,175 237,177 236,177 236,173 237,170 237,170ZM295,174 295,177 294,178 290,177 290,174 294,173 295,173ZM298,178 302,177 302,177 302,181 299,182 298,182Z"/><path color="#cccfe4" d="M247,173 243,171 243,169 245,168 248,168 247,173ZM255,177 255,174 253,172 250,174 251,177 254,178Z"/><path color="#c0d5f3" d="M250,174 253,172 253,170 250,168 248,168 247,173ZM254,183 254,185 252,187 250,187 250,182 253,182ZM210,199 208,198 207,195 210,194 212,195 211,199ZM163,204 165,203 168,203 168,203 169,207 165,209 163,206ZM205,219 202,216 202,214 206,213 207,215 207,216 206,219Z"/><path color="#edc3b1" d="M258,169 258,173 255,174 253,172 253,170 256,169Z"/><path color="#f0bdab" d="M258,169 258,173 260,174 264,171 263,170 259,168ZM262,197 265,199 267,198 267,197 264,194 262,194Z"/><path color="#cfabb4" d="M264,171 263,170 265,167 268,167 270,168 265,173Z"/><path color="#ea9c90" d="M265,173 266,174 270,174 272,172 271,169 270,168ZM220,184 224,186 225,183 222,181 220,183Z"/><path color="#decfd8" d="M271,169 274,166 278,169 278,171 274,172 272,172Z"/><path color="#eae7ea" d="M285,173 280,175 278,171 278,169 280,168 282,169Z"/><path color="#ead8d5" d="M288,170 288,173 286,173 285,173 282,169 286,166ZM254,239 251,245 250,245 248,243 248,239 250,238Z"/><path color="#f3c6b1" d="M291,168 294,173 290,174 288,173 288,170ZM244,216 245,221 243,222 239,221 238,218 240,216 243,215Z"/><path color="#f6bda5" d="M295,173 294,173 291,168 291,168 295,166 296,170Z"/><path color="#f3a896" d="M295,174 300,174 302,169 296,170 295,173Z"/><path color="#c0d5f6" d="M180,173 181,172 186,174 186,177 182,178 179,177 179,177 180,174ZM197,248 196,252 195,252 195,252 192,248 196,245Z"/><path color="#c6d2ed" d="M193,176 194,173 198,172 201,173 200,177 199,178 194,177Z"/><path color="#d8c0cc" d="M208,180 211,176 210,174 207,173 206,173 206,176Z"/><path color="#f0c3b4" d="M215,174 213,172 210,174 211,176 214,177ZM238,225 241,226 243,224 243,222 239,221 238,222Z"/><path color="#e77260" d="M228,179 225,177 226,173 231,174 232,176Z"/><path color="#ea9c8d" d="M235,177 236,177 236,173 232,173 231,174 232,176Z"/><path color="#d5c6d5" d="M245,177 244,177 241,175 243,171 247,173Z"/><path color="#c3d2f9" d="M245,177 247,173 247,173 250,174 251,177 247,180ZM190,244 191,248 192,248 196,245 196,244 191,243Z"/><path color="#f3c0ab" d="M255,177 255,174 258,173 260,174 260,176 257,178Z"/><path color="#f0a290" d="M264,171 260,174 260,176 262,177 265,176 266,174 265,173Z"/><path color="#ed9f8a" d="M270,176 267,178 265,176 266,174 270,174Z"/><path color="#f3ab90" d="M270,176 272,178 275,177 274,172 272,172 270,174Z"/><path color="#edb4a8" d="M275,177 274,172 278,171 280,175 280,176 278,178Z"/><path color="#ede7ea" d="M286,173 286,178 284,178 280,176 280,175 285,173Z"/><path color="#edccbd" d="M288,173 290,174 290,177 288,180 286,178 286,173Z"/><path color="#f6c6ae" d="M295,174 295,177 298,178 302,177 300,174Z"/><path color="#f3c3ae" d="M303,169 302,169 302,169 300,174 302,177 302,177 305,176 305,176ZM267,197 270,194 272,196 272,198 270,200 267,198ZM267,198 270,200 270,201 267,205 264,203 265,199ZM249,220 254,221 252,226 251,226 250,225 248,221Z"/><path color="#b4c9f3" d="M180,183 177,181 179,177 182,178 183,182ZM194,186 190,185 189,181 193,180 195,183ZM202,194 201,191 202,190 206,190 205,194 202,195ZM212,226 211,222 211,222 216,221 217,223 217,224 215,226Z"/><path color="#bad2f6" d="M187,178 186,177 182,178 183,182 185,183 188,181ZM218,231 219,229 223,230 222,234 221,234 217,232Z"/><path color="#c6d8f6" d="M193,180 194,177 193,176 191,176 187,178 188,181 189,181ZM272,184 273,185 276,181 271,181ZM278,196 281,194 281,191 279,189 275,192 276,195ZM178,212 180,212 183,213 182,216 179,217 179,216ZM184,218 182,216 179,217 180,221 182,221 183,220ZM181,254 184,257 186,258 184,252Z"/><path color="#c0d8f3" d="M195,183 198,182 199,178 194,177 193,180ZM190,244 191,243 192,240 190,237 188,239 188,243Z"/><path color="#b7c9f6" d="M200,177 202,178 203,181 199,182 198,182 199,178ZM197,197 193,200 195,203 197,204 199,202 199,201ZM158,223 161,220 164,222 161,225 160,225 158,224Z"/><path color="#b4cff6" d="M202,178 206,176 208,180 208,181 205,182 203,181Z"/><path color="#f3ccbd" d="M212,181 214,178 214,177 211,176 208,180 208,181 209,181ZM294,178 290,177 288,180 288,181 289,182 294,180ZM300,187 299,182 298,182 296,182 295,184 298,188Z"/><path color="#f0c6b7" d="M215,182 217,180 217,179 214,178 212,181ZM295,177 294,178 294,180 296,182 298,182 298,178ZM246,229 246,227 243,224 241,226 241,229 242,230Z"/><path color="#f09f90" d="M220,183 217,180 217,179 220,176 220,176 223,177 222,181Z"/><path color="#e76c5a" d="M228,181 233,181 235,177 232,176 228,179 228,181Z"/><path color="#de3f51" d="M239,180 234,183 233,181 235,177 236,177 237,177Z"/><path color="#edb4ae" d="M241,175 244,177 240,181 239,180 237,177 240,175Z"/><path color="#f3dbd2" d="M245,177 244,177 240,181 241,182 245,184 248,181 247,180ZM220,203 219,198 222,198 225,201 225,201 221,203ZM283,215 279,218 280,221 282,222 285,220 286,218ZM280,226 276,226 276,229 277,230 281,229ZM252,234 252,232 250,231 247,231 246,233 250,237Z"/><path color="#dec9c6" d="M254,183 258,180 257,178 255,177 254,178 253,182Z"/><path color="#f3c3b1" d="M258,180 260,182 262,181 262,177 260,176 257,178Z"/><path color="#f0b7a2" d="M267,178 268,180 265,183 262,181 262,177 265,176ZM259,216 260,216 263,215 264,213 264,212 259,213Z"/><path color="#edb19f" d="M270,176 272,178 271,181 268,180 267,178Z"/><path color="#c9cce1" d="M271,181 271,181 276,181 278,180 278,178 275,177 272,178Z"/><path color="#e4e1ea" d="M278,180 278,178 280,176 284,178 282,182 280,183Z"/><path color="#e4e7f3" d="M282,182 284,178 286,178 288,180 288,181 286,183ZM213,204 209,202 208,203 208,207 212,209 213,208Z"/><path color="#f0c6ae" d="M302,177 302,181 305,185 305,185 308,178 305,176Z"/><path color="#96b1f3" d="M180,183 177,181 176,182 175,184 177,186 180,185Z"/><path color="#96abf3" d="M185,185 185,183 183,182 180,183 180,185 182,187Z"/><path color="#a2b7f3" d="M189,181 188,181 185,183 185,185 188,188 190,185Z"/><path color="#abc3f3" d="M194,186 194,186 199,188 201,186 199,182 198,182 195,183ZM197,195 196,194 197,191 198,189 201,191 202,194Z"/><path color="#d8d8ea" d="M207,189 209,184 209,181 208,181 205,182 203,186Z"/><path color="#ead2d2" d="M215,186 215,182 212,181 209,181 209,184 213,186Z"/><path color="#edc0ae" d="M215,186 215,182 217,180 220,183 220,184 217,187Z"/><path color="#ea7560" d="M228,181 229,185 226,188 224,186 224,186 225,183 228,181Z"/><path color="#e1635a" d="M228,181 229,185 232,187 234,183 234,183 233,181Z"/><path color="#e14254" d="M238,185 234,183 234,183 239,180 240,181 241,182Z"/><path color="#eac3c0" d="M245,185 241,187 238,185 238,185 241,182 245,184Z"/><path color="#c0cfed" d="M245,185 247,188 248,188 250,187 250,182 248,181 245,184Z"/><path color="#f6c0ab" d="M271,181 271,181 272,184 268,187 265,184 265,183 268,180Z"/><path color="#e7eaf3" d="M284,186 280,184 280,183 282,182 286,183 284,186Z"/><path color="#e7dee4" d="M284,186 286,183 288,181 289,182 290,185 289,188Z"/><path color="#f3cfc3" d="M294,180 289,182 290,185 292,186 295,184 296,182ZM269,240 272,235 267,235 266,237 269,240Z"/><path color="#f0c9b7" d="M303,187 305,185 302,181 299,182 300,187ZM259,200 262,197 262,194 260,193 257,195 257,198Z"/><path color="#8aa8ed" d="M182,187 180,185 177,186 177,189 180,191 182,189Z"/><path color="#90a8f0" d="M188,188 185,190 182,189 182,187 185,185 188,188Z"/><path color="#99b7f0" d="M194,186 194,186 193,189 191,191 188,188 188,188 190,185Z"/><path color="#a5c0f6" d="M198,189 199,188 194,186 193,189 197,191ZM197,191 193,189 191,191 191,193 192,194 196,194ZM168,203 173,204 173,207 170,208 169,207Z"/><path color="#a5c0f3" d="M201,191 198,189 199,188 201,186 203,186 202,190ZM189,205 189,199 193,200 193,200 195,203 193,205ZM215,254 218,251 217,249 216,249 212,249 212,251ZM209,253 207,252 205,253 204,256 209,258 210,256ZM214,256 213,257 210,256 209,253 212,251 215,254Z"/><path color="#abc6f3" d="M202,190 203,186 203,186 207,189 208,189 206,190Z"/><path color="#ede7e7" d="M210,190 208,189 207,189 209,184 213,186 211,190Z"/><path color="#e7e1e1" d="M215,193 218,190 218,190 217,187 215,186 213,186 211,190Z"/><path color="#f0bdae" d="M218,190 221,189 224,186 224,186 220,184 217,187Z"/><path color="#f0b19f" d="M227,190 224,192 221,189 224,186 226,188Z"/><path color="#f09078" d="M229,185 226,188 227,190 228,191 233,190 232,187Z"/><path color="#db3648" d="M238,185 236,190 235,191 233,190 232,187 234,183 238,185Z"/><path color="#d2879c" d="M242,189 241,187 238,185 236,190 240,191Z"/><path color="#c0cff0" d="M242,189 241,187 245,185 247,188 245,190Z"/><path color="#a8c0f0" d="M253,190 252,187 250,187 248,188 250,190Z"/><path color="#c6c3d8" d="M254,191 256,189 256,186 254,185 252,187 253,190Z"/><path color="#f0c0a8" d="M260,190 262,189 262,188 259,185 256,186 256,189Z"/><path color="#edb49f" d="M262,188 265,184 268,187 268,190 266,191 262,189Z"/><path color="#f0b7a5" d="M268,187 268,190 270,191 273,190 274,187 273,185 272,184Z"/><path color="#e4d5db" d="M283,190 281,191 279,189 278,186 280,184 284,186Z"/><path color="#f3d5c9" d="M284,191 289,189 289,188 284,186 284,186 283,190ZM284,191 286,195 287,195 289,193 289,191 289,189Z"/><path color="#f0d2cc" d="M289,189 289,191 295,190 292,186 290,185 289,188Z"/><path color="#f3cfc9" d="M297,190 296,191 295,190 292,186 295,184 298,188Z"/><path color="#f0c9c3" d="M304,191 298,191 297,190 298,188 300,187 303,187Z"/><path color="#8aa5ea" d="M174,190 177,189 180,191 180,192 177,195 174,194Z"/><path color="#8aa8f0" d="M185,190 186,194 182,194 180,192 180,191 182,189Z"/><path color="#9cb7f3" d="M188,188 191,191 191,193 188,195 186,194 185,190ZM189,199 193,200 192,194 191,193 188,195 188,198ZM188,205 185,203 187,199 188,198 189,199 189,205Z"/><path color="#cfd8ed" d="M210,194 210,190 208,189 206,190 205,194 207,195ZM222,221 217,223 217,224 220,226 222,225 224,222Z"/><path color="#d5d5e7" d="M212,195 214,193 215,193 211,190 210,190 210,194Z"/><path color="#e7cfc9" d="M214,193 217,198 218,198 220,194 218,190 215,193Z"/><path color="#edc0b7" d="M218,190 221,189 224,192 223,194 220,194 218,190Z"/><path color="#edb7b1" d="M228,194 228,191 227,190 224,192 223,194 224,195 226,196Z"/><path color="#e7a8a2" d="M235,194 235,191 233,190 228,191 228,194 232,197Z"/><path color="#ccabc0" d="M238,196 235,194 235,191 236,190 240,191 242,195 242,195Z"/><path color="#c0d2f6" d="M242,195 240,191 242,189 245,190 246,193ZM219,229 220,226 222,225 225,228 225,230 223,230Z"/><path color="#a5c0f0" d="M248,195 246,193 245,190 247,188 248,188 250,190 249,194Z"/><path color="#a2c0f6" d="M252,195 255,193 254,191 253,190 250,190 249,194ZM215,243 217,242 220,243 220,245 217,249 216,249Z"/><path color="#f3c0a5" d="M257,195 255,193 254,191 256,189 260,190 260,193Z"/><path color="#eabaa2" d="M262,194 264,194 266,191 262,189 260,190 260,193Z"/><path color="#edb199" d="M264,194 266,191 268,190 270,191 270,194 267,197Z"/><path color="#e7bdb4" d="M276,195 275,192 273,190 270,191 270,194 272,196Z"/><path color="#f0d5cc" d="M284,191 286,195 284,196 281,194 281,191 283,190ZM286,203 285,201 283,199 279,200 280,204 283,205ZM263,239 266,237 269,240 266,244 265,244Z"/><path color="#edd2c9" d="M289,193 289,191 295,190 296,191 295,193 292,194ZM278,199 279,200 283,199 284,196 281,194 278,196Z"/><path color="#93aef0" d="M169,201 172,199 171,196 170,195 167,195 166,197ZM200,243 203,243 204,239 200,239 197,241 197,243Z"/><path color="#93aeed" d="M175,201 177,197 177,195 174,194 171,196 172,199 175,201Z"/><path color="#7899ea" d="M181,198 182,194 180,192 177,195 177,197ZM249,200 247,198 248,195 249,194 252,195 252,199Z"/><path color="#7e96ea" d="M182,198 187,199 188,198 188,195 186,194 182,194 181,198Z"/><path color="#9fb7f6" d="M197,195 196,194 192,194 193,200 193,200 197,197ZM213,234 211,236 210,238 212,239 216,237 215,234Z"/><path color="#c6dbf6" d="M197,195 202,194 202,195 203,197 199,201 197,197ZM192,248 195,252 190,254 189,254 188,252 189,250 191,248Z"/><path color="#c6d8f9" d="M208,198 204,199 203,197 202,195 205,194 207,195ZM199,201 199,202 202,203 205,201 204,199 203,197ZM175,219 175,219 178,221 180,221 179,217 179,216Z"/><path color="#c0d5f0" d="M211,199 214,200 217,198 214,193 212,195Z"/><path color="#f0d8cf" d="M218,198 220,194 223,194 224,195 222,198 219,198Z"/><path color="#eddbdb" d="M227,199 225,201 222,198 224,195 226,196Z"/><path color="#e7e1e7" d="M232,198 231,199 227,199 226,196 228,194 232,197ZM236,209 236,212 233,214 229,211 229,209 233,208Z"/><path color="#e48475" d="M237,199 235,200 232,198 232,197 235,194 238,196Z"/><path color="#c3cce7" d="M242,199 242,195 238,196 237,199 240,201Z"/><path color="#a8baf0" d="M242,199 244,200 247,198 248,195 246,193 242,195 242,195Z"/><path color="#cfbacc" d="M252,199 253,200 257,198 257,195 255,193 252,195Z"/><path color="#edcfc0" d="M277,200 272,198 272,196 276,195 278,196 278,199ZM273,208 274,209 275,212 272,214 269,212 269,208Z"/><path color="#ead2cc" d="M285,201 283,199 284,196 286,195 287,195 288,197ZM286,203 285,201 288,197 291,199 291,203 289,203Z"/><path color="#edd5c9" d="M288,197 287,195 289,193 292,194 292,198 291,199Z"/><path color="#ead2c9" d="M292,194 295,193 297,196 297,197 296,198 292,198Z"/><path color="#c3d5f9" d="M158,206 161,203 161,202 157,199 157,199 154,203 157,206Z"/><path color="#aec3f3" d="M161,203 163,204 165,203 165,198 163,198 161,202ZM175,229 175,227 177,226 180,227 181,230 177,232Z"/><path color="#9cbaf3" d="M165,203 165,198 166,197 169,201 168,203ZM168,203 168,203 173,204 175,201 172,199 169,201ZM178,202 181,202 182,203 182,207 181,207 177,207Z"/><path color="#7b99ed" d="M175,201 177,197 181,198 182,198 181,202 178,202Z"/><path color="#819fea" d="M182,198 187,199 185,203 182,203 181,202Z"/><path color="#c3d2f6" d="M210,199 209,202 208,203 205,201 204,199 208,198Z"/><path color="#ccdbf6" d="M215,201 214,200 211,199 210,199 209,202 213,204Z"/><path color="#e7dee1" d="M217,204 220,203 219,198 218,198 217,198 214,200 215,201Z"/><path color="#eae1e7" d="M231,203 227,205 225,201 225,201 227,199 231,199Z"/><path color="#ea7b6f" d="M235,200 236,203 233,204 231,203 231,199 232,198Z"/><path color="#d88d8a" d="M240,201 240,203 237,204 236,203 235,200 237,199Z"/><path color="#bdcff3" d="M245,202 244,200 242,199 240,201 240,203 242,204ZM171,233 172,234 174,234 176,232 177,232 175,229 171,232Z"/><path color="#819cea" d="M247,204 245,202 244,200 247,198 249,200 248,203Z"/><path color="#90abe7" d="M253,204 248,203 249,200 252,199 253,200 254,204Z"/><path color="#eac9bd" d="M256,205 259,202 259,200 257,198 253,200 254,204Z"/><path color="#f3c6b7" d="M259,200 259,202 263,204 264,203 265,199 262,197Z"/><path color="#edccba" d="M277,200 274,203 273,203 270,201 270,200 272,198Z"/><path color="#f6d8cf" d="M277,200 274,203 279,206 280,204 279,200 278,199Z"/><path color="#c0d2f3" d="M158,206 160,209 163,206 163,204 161,203ZM247,207 247,207 242,206 241,208 242,211 243,212 245,211ZM176,232 179,236 180,236 182,234 181,230 181,230 177,232ZM192,240 196,239 195,236 192,235 190,236 190,237Z"/><path color="#a2bdf3" d="M175,201 178,202 177,207 176,208 173,207 173,204 175,201ZM173,214 176,212 176,208 173,207 170,208 170,212Z"/><path color="#9fb7f0" d="M182,207 182,203 185,203 188,205 187,206 185,208Z"/><path color="#bdd5f6" d="M193,205 193,205 189,205 188,205 187,206 190,210 191,210ZM218,231 216,229 215,226 217,224 220,226 219,229Z"/><path color="#c0d8f9" d="M195,209 198,207 197,204 195,203 193,205 193,205Z"/><path color="#b7ccf6" d="M198,207 197,204 199,202 202,203 203,208 201,210ZM167,223 170,228 173,226 172,222 172,222ZM160,225 160,229 162,230 166,229 165,226 161,225ZM173,226 175,227 175,229 171,232 169,229 170,228ZM222,234 225,235 225,238 223,239 221,237 221,234Z"/><path color="#b7ccf3" d="M208,203 205,201 202,203 203,208 206,208 208,207Z"/><path color="#e4e4ed" d="M217,204 217,206 214,208 213,208 213,204 215,201ZM243,234 242,234 241,235 241,238 242,240 245,239Z"/><path color="#f0d8d2" d="M217,204 220,203 221,203 222,207 221,208 217,206ZM221,203 225,201 227,205 227,206 224,207 222,207ZM275,220 272,223 270,219 270,218 271,217 275,218Z"/><path color="#f0e7ed" d="M233,204 233,208 229,209 227,206 227,205 231,203Z"/><path color="#d5c0cf" d="M237,208 236,209 233,208 233,204 236,203 237,204Z"/><path color="#bdccf0" d="M247,207 242,206 242,204 245,202 247,204Z"/><path color="#bdc9f0" d="M247,207 247,207 247,204 248,203 253,204 251,208 250,209Z"/><path color="#dbd5e4" d="M256,208 251,208 253,204 254,204 256,205 257,206Z"/><path color="#ede7ed" d="M257,206 261,208 262,208 263,204 259,202 256,205ZM256,208 256,211 259,212 261,208 257,206ZM267,225 270,226 272,224 272,223 270,219 267,222Z"/><path color="#f0cfc6" d="M263,204 262,208 264,210 269,208 267,205 264,203ZM273,203 273,208 274,209 278,207 279,206 274,203ZM196,222 191,221 190,221 190,217 192,215 196,217Z"/><path color="#c9d2f6" d="M158,206 160,209 160,211 158,212 155,211 155,208 157,206Z"/><path color="#9fbaf3" d="M176,212 176,208 177,207 181,207 180,212 178,212Z"/><path color="#99b7f6" d="M181,207 180,212 183,213 185,212 185,208 182,207Z"/><path color="#abc0f3" d="M185,208 187,206 190,210 185,212 185,212Z"/><path color="#bad5f6" d="M195,209 194,211 193,212 191,210 193,205ZM190,237 190,236 188,234 186,234 185,239 188,239Z"/><path color="#baccf3" d="M195,209 198,207 201,210 200,212 199,213 194,211Z"/><path color="#baccf6" d="M202,214 200,212 201,210 203,208 206,208 206,213ZM227,232 228,232 230,236 230,239 228,239 225,238 225,235Z"/><path color="#d2dbf0" d="M211,212 207,215 206,213 206,208 208,207 212,209Z"/><path color="#e4e1ed" d="M213,208 212,209 211,212 213,214 217,213 217,212 214,208Z"/><path color="#eadbd8" d="M214,208 217,212 221,210 221,208 217,206Z"/><path color="#f0d2c9" d="M221,208 221,210 223,212 226,211 224,207 222,207Z"/><path color="#eadedb" d="M229,211 229,209 227,206 224,207 226,211 229,211Z"/><path color="#cfd5e7" d="M241,208 242,211 236,213 236,212 236,209 237,208Z"/><path color="#c6cce7" d="M247,207 250,209 250,210 249,213 245,211Z"/><path color="#e4d8e1" d="M250,209 251,208 256,208 256,211 253,212 250,210Z"/><path color="#edd2cc" d="M259,212 261,208 262,208 264,210 264,212 259,213Z"/><path color="#f6d5c9" d="M264,210 264,212 264,213 267,214 269,212 269,208 269,208Z"/><path color="#f0dbcc" d="M277,214 275,212 274,209 278,207 281,209 281,212Z"/><path color="#c3d8f6" d="M156,218 152,214 155,211 158,212 158,217ZM185,239 183,241 182,240 180,236 182,234 186,234Z"/><path color="#c6d8f3" d="M162,212 160,211 158,212 158,217 161,217 162,217Z"/><path color="#bdcff6" d="M167,213 165,211 162,212 162,217 166,217Z"/><path color="#bdd2f6" d="M166,218 166,217 167,213 170,212 173,214 173,215 169,218Z"/><path color="#c0d2f9" d="M173,214 176,212 178,212 179,216 175,219 173,215Z"/><path color="#cccfea" d="M189,217 185,212 185,212 183,213 182,216 184,218Z"/><path color="#d2ccdb" d="M191,210 190,210 185,212 189,217 190,217 192,215 193,212Z"/><path color="#d2d2e4" d="M198,216 199,213 194,211 193,212 192,215 196,217Z"/><path color="#bdd5f3" d="M198,216 199,213 200,212 202,214 202,216 200,218Z"/><path color="#dee4f6" d="M213,214 213,217 211,217 207,216 207,215 211,212Z"/><path color="#e1e1ed" d="M217,213 218,216 216,218 213,217 213,214Z"/><path color="#edd8d2" d="M217,213 218,216 220,217 223,215 223,212 221,210 217,212Z"/><path color="#edd8d5" d="M223,215 223,212 226,211 229,211 226,216ZM222,221 220,217 218,216 216,218 216,221 217,223Z"/><path color="#e4eaea" d="M232,217 226,216 226,216 229,211 229,211 233,214 233,215Z"/><path color="#ead5d8" d="M233,215 233,214 236,212 236,213 240,216 238,218 235,218Z"/><path color="#e7cccc" d="M243,215 240,216 236,213 242,211 243,212Z"/><path color="#e4cccc" d="M245,211 243,212 243,215 244,216 248,215 249,213Z"/><path color="#f3d2c3" d="M249,213 248,215 250,217 254,216 253,212 250,210Z"/><path color="#f0baa8" d="M254,216 253,212 256,211 259,212 259,213 259,216 255,217Z"/><path color="#f0cfba" d="M267,214 268,217 265,218 263,215 264,213Z"/><path color="#f3cfc0" d="M269,212 267,214 268,217 270,218 271,217 272,214Z"/><path color="#edd5cc" d="M277,216 275,218 271,217 272,214 275,212 277,214ZM267,225 267,222 263,221 263,221 262,225 265,227Z"/><path color="#f0dbcf" d="M283,215 279,218 277,216 277,214 281,212 283,213Z"/><path color="#baccf9" d="M158,223 155,221 156,218 158,217 161,217 161,220Z"/><path color="#b4c9f9" d="M166,218 166,217 162,217 161,217 161,220 164,222 165,222Z"/><path color="#c0d5f9" d="M166,218 165,222 167,223 167,223 172,222 169,218Z"/><path color="#bdd2f9" d="M169,218 173,215 175,219 175,219 172,222 172,222ZM222,234 225,235 227,232 225,230 223,230Z"/><path color="#e1d2db" d="M189,217 184,218 183,220 189,222 190,221 190,217Z"/><path color="#c3d2f3" d="M197,223 200,221 200,218 198,216 196,217 196,222 197,223Z"/><path color="#bdd5f9" d="M200,221 202,221 205,219 202,216 200,218ZM188,243 186,244 183,241 185,239 188,239ZM220,256 224,257 223,259 220,262 218,261 218,258Z"/><path color="#d5e1f6" d="M206,219 207,216 211,217 211,222 211,222 208,222Z"/><path color="#d8def6" d="M213,217 216,218 216,221 211,222 211,217Z"/><path color="#f3dbd8" d="M222,221 220,217 223,215 226,216 226,216 227,221 224,222Z"/><path color="#e7e4ea" d="M232,217 226,216 227,221 227,221 230,220Z"/><path color="#e7e7ea" d="M232,217 230,220 233,222 234,222 235,218 233,215ZM178,242 177,238 179,236 180,236 182,240 179,242Z"/><path color="#e1dbde" d="M234,222 238,222 239,221 238,218 235,218Z"/><path color="#f0ccbd" d="M248,215 244,216 245,221 248,221 249,220 250,217ZM194,231 196,230 196,227 192,226 190,227 191,230Z"/><path color="#f0c9ba" d="M254,216 250,217 249,220 254,221 256,220 255,217Z"/><path color="#f3ae96" d="M255,217 256,220 258,222 262,220 260,216 259,216Z"/><path color="#f0b799" d="M263,215 260,216 262,220 263,221 263,221 265,218Z"/><path color="#f0cfc3" d="M268,217 270,218 270,219 267,222 263,221 265,218ZM189,222 187,225 190,227 192,226 191,221 190,221ZM271,230 272,234 272,235 267,235 266,235 267,231Z"/><path color="#f3d8d2" d="M279,218 280,221 278,222 275,220 275,218 277,216Z"/><path color="#b7d2f9" d="M167,223 165,226 161,225 164,222 165,222Z"/><path color="#bad5f9" d="M178,221 177,226 175,227 173,226 172,222 175,219Z"/><path color="#b1c6f0" d="M178,221 177,226 180,227 183,224 182,221 180,221ZM197,230 200,230 201,231 201,234 199,236 196,235ZM226,244 222,242 220,243 220,245 223,249 227,248 227,248Z"/><path color="#cccce4" d="M189,222 187,225 186,226 183,224 182,221 183,220Z"/><path color="#eacfc6" d="M197,223 196,227 192,226 191,221 196,222Z"/><path color="#c3d5f6" d="M197,223 202,226 204,225 202,221 200,221ZM206,230 201,231 200,230 202,226 204,225 206,226 206,226ZM171,238 172,234 171,233 166,235 165,235 166,236 168,237ZM190,244 191,248 189,250 185,246 186,244 188,243ZM214,256 218,258 220,256 219,252 218,251 215,254Z"/><path color="#aec0f3" d="M212,226 206,226 206,226 208,222 211,222 212,226Z"/><path color="#c6d5ed" d="M224,222 227,221 227,221 228,226 225,228 222,225Z"/><path color="#c9d2ed" d="M233,222 233,225 236,227 238,225 238,222 234,222Z"/><path color="#f3c9b7" d="M248,221 250,225 246,227 243,224 243,222 245,221Z"/><path color="#f3c3a8" d="M260,225 262,225 263,221 262,220 258,222 258,224Z"/><path color="#f3d8cc" d="M275,220 278,222 276,226 272,224 272,223Z"/><path color="#f0d8cc" d="M283,223 282,222 280,221 278,222 276,226 276,226 280,226ZM271,230 276,229 277,230 276,234 273,235 272,234 271,230Z"/><path color="#edd2c3" d="M188,233 185,229 186,226 187,225 190,227 191,230Z"/><path color="#c3d5f3" d="M197,223 202,226 200,230 197,230 196,230 196,227 197,223Z"/><path color="#a8c0f6" d="M212,226 206,226 206,230 207,231 211,230 211,230ZM205,253 204,256 203,257 200,257 199,253 202,251Z"/><path color="#a5bdf0" d="M212,226 211,230 216,229 215,226 212,226Z"/><path color="#f0ccc3" d="M236,230 241,229 241,226 238,225 236,227Z"/><path color="#f6d2c6" d="M247,231 246,229 246,227 250,225 251,226 250,231Z"/><path color="#f6d5c6" d="M255,230 254,227 252,226 251,226 250,231 252,232Z"/><path color="#f6c3ab" d="M256,230 260,230 260,225 258,224 254,227 255,230Z"/><path color="#f0c0b1" d="M260,225 262,225 265,227 264,229 261,231 260,230Z"/><path color="#f0dbd5" d="M267,225 270,226 271,230 271,230 267,231 264,229 265,227Z"/><path color="#f3ded8" d="M271,230 276,229 276,226 276,226 272,224 270,226ZM254,239 255,239 256,236 252,234 250,237 250,238Z"/><path color="#f0d5cf" d="M285,226 285,228 283,230 281,229 280,226 283,223Z"/><path color="#b7cff6" d="M165,235 166,235 167,230 166,229 162,230 164,235ZM225,255 227,252 227,248 223,249 222,251ZM218,261 220,262 222,268 225,331 215,263Z"/><path color="#bdcff9" d="M171,233 166,235 167,230 169,229 171,232Z"/><path color="#b7c6ed" d="M188,234 188,233 185,229 181,230 182,234 186,234Z"/><path color="#ead2cf" d="M190,236 192,235 194,231 191,230 188,233 188,234Z"/><path color="#d2ccd8" d="M192,235 194,231 196,230 197,230 196,235 195,236Z"/><path color="#a2bdf0" d="M207,231 207,234 205,237 201,234 201,231 206,230Z"/><path color="#a5bdf6" d="M211,230 207,231 207,234 211,236 213,234Z"/><path color="#a8bdf3" d="M218,231 216,229 211,230 211,230 213,234 215,234 217,232Z"/><path color="#ccd5ed" d="M232,235 233,231 231,230 228,232 230,236ZM232,235 236,236 236,238 232,240 230,239 230,236Z"/><path color="#d5dbea" d="M232,235 236,236 237,234 236,231 233,231Z"/><path color="#e4e7f0" d="M236,231 237,234 241,235 242,234 242,230 241,229 236,230Z"/><path color="#e4e7ed" d="M246,233 247,231 246,229 242,230 242,234 243,234Z"/><path color="#ede1de" d="M256,236 257,235 256,230 255,230 252,232 252,234Z"/><path color="#ede7f0" d="M256,230 260,230 261,231 261,234 261,235 257,235Z"/><path color="#edd8cf" d="M267,231 266,235 261,234 261,231 264,229Z"/><path color="#f3d8cf" d="M281,229 277,230 276,234 280,235 283,233 283,230ZM274,238 273,235 276,234 280,235 279,238 278,239Z"/><path color="#e4eaf0" d="M171,238 172,234 174,234 175,238 173,240Z"/><path color="#e7eaed" d="M174,234 175,238 177,238 179,236 176,232Z"/><path color="#a2b7f0" d="M195,236 196,235 199,236 200,239 197,241 196,239Z"/><path color="#93abf0" d="M204,239 200,239 199,236 201,234 205,237 205,238Z"/><path color="#9cb4f6" d="M205,238 205,237 207,234 211,236 210,238 208,239Z"/><path color="#b4c9f6" d="M217,232 215,234 216,237 216,238 221,237 221,234Z"/><path color="#e4e4ea" d="M236,238 236,238 236,236 237,234 241,235 241,238Z"/><path color="#eae4e4" d="M250,238 250,237 246,233 243,234 245,239 248,239Z"/><path color="#ede4ea" d="M258,242 262,239 261,235 257,235 256,236 255,239 257,242Z"/><path color="#eddbd8" d="M262,239 261,235 261,234 266,235 267,235 266,237 263,239Z"/><path color="#eaeaed" d="M173,241 173,240 175,238 177,238 178,242 175,242Z"/><path color="#bacff6" d="M191,243 196,244 197,243 197,241 196,239 192,240Z"/><path color="#9cb7f0" d="M209,244 208,239 205,238 204,239 203,243 205,245 206,246Z"/><path color="#9cb4f3" d="M215,243 217,242 216,238 216,237 212,239 214,243Z"/><path color="#b1ccf6" d="M220,243 222,242 223,239 221,237 216,238 217,242Z"/><path color="#b7cff9" d="M227,243 228,239 225,238 223,239 222,242 226,244ZM214,256 218,258 218,261 215,263 213,262 213,257Z"/><path color="#bac9f6" d="M227,243 228,239 230,239 232,240 232,242 231,243Z"/><path color="#eddbd5" d="M254,239 255,239 257,242 254,244 251,245Z"/><path color="#cfdbf3" d="M186,244 183,241 182,240 179,242 179,247 183,248 185,246Z"/><path color="#a5bdf3" d="M197,248 196,245 196,244 197,243 200,243 201,248Z"/><path color="#9cb7f6" d="M201,248 202,249 205,245 203,243 200,243Z"/><path color="#a2baf3" d="M212,244 211,248 208,249 206,246 209,244ZM212,244 214,243 215,243 216,249 212,249 211,248Z"/><path color="#b7c6f0" d="M227,243 231,243 230,248 227,248 226,244Z"/><path color="#c9dbf6" d="M179,254 181,254 184,252 184,252 183,248 179,247 178,248 177,251Z"/><path color="#c9dbf9" d="M188,252 184,252 183,248 185,246 189,250Z"/><path color="#a5baf0" d="M197,248 196,252 199,253 202,251 202,249 201,248Z"/><path color="#99b4f3" d="M206,246 205,245 202,249 202,251 205,253 207,252 208,249Z"/><path color="#a8c3f9" d="M208,249 207,252 209,253 212,251 212,249 211,248Z"/><path color="#b7ccf0" d="M227,248 227,248 227,252 231,252 232,251 230,248 230,248Z"/><path color="#bdd2f3" d="M220,256 224,257 226,256 225,255 222,251 219,252Z"/><path color="#bacff3" d="M225,255 227,252 231,252 230,255 227,257 226,256Z"/><path color="#a8c3f3" d="M212,262 205,278 205,262 208,261Z"/></g></g>
<path d="M226.5,178.4 L231.7,179.6 L236.3,177.8 L237.5,181.9 L239.2,186.5 L236.3,191.2 L234.0,194.1 L232.8,197.6 L230.5,195.2 L227.0,191.8 L224.7,187.1 L225.9,183.6Z" fill="#e06a5a" stroke="#111" stroke-width="1.0" stroke-linejoin="round"/><path d="M231.7,179.6 L236.3,177.8 L237.5,181.9 L239.2,186.5 L236.3,191.2 L233.0,190.0Z" fill="#c82838" stroke="none" stroke-width="0" stroke-linejoin="round"/><path d="M226.5,178.4 L231.7,179.6 L236.3,177.8 L237.5,181.9 L239.2,186.5 L236.3,191.2 L234.0,194.1 L232.8,197.6 L230.5,195.2 L227.0,191.8 L224.7,187.1 L225.9,183.6Z" fill="none" stroke="#111" stroke-width="1.0" stroke-linejoin="round"/><path d="M234.6,194.1 L241.5,194.7 L241.0,202.2 L239.8,206.8 L236.3,209.2 L235.2,211.5 L232.8,212.1 L231.7,210.3 L233.4,206.8 L234.0,201.0Z" fill="#e07a68" stroke="#111" stroke-width="1.0" stroke-linejoin="round"/><path d="M233.4,206.8 L236.3,209.2 L235.2,211.5 L232.8,212.1 L231.7,210.3Z" fill="#f4f4f4" stroke="#111" stroke-width="1.0" stroke-linejoin="round"/><path d="M216.6,155.2 L216.0,161.6 L213.7,168.0 L215.4,169.7 L220.1,171.5 L223.6,170.3 L227.0,172.0 L230.5,172.6 L234.0,174.9 L236.3,177.8 L238.1,174.9 L239.8,172.0 L243.3,170.3 L242.1,167.4 L237.5,164.5 L232.8,162.8 L230.5,161.6 L232.8,159.9 L234.6,157.5" fill="none" stroke="#111" stroke-width="1.0" stroke-linejoin="round"/>
<rect x="192.8" y="268.9" width="49" height="6" fill="url(#gBL)"/>
<text x="172.8" y="275.2" class="lgA" textLength="19.4" lengthAdjust="spacingAndGlyphs">-0.25</text>
<text x="242.7" y="275.2" class="lgA" textLength="16.5" lengthAdjust="spacingAndGlyphs">0.30</text>
<text x="190.8" y="285.8" class="lgA" textLength="53.3" lengthAdjust="spacingAndGlyphs">brain loadings</text>
<rect x="47" y="316" width="1.4" height="220.5" fill="#a8a8a8"/>
<rect x="47" y="535.2" width="225.5" height="1.4" fill="#a8a8a8"/>
<rect x="45.3" y="324.4" width="1.7" height="0.8" fill="#888"/>
<text x="41.2" y="328.0" class="tk" text-anchor="end">8</text>
<rect x="45.3" y="350.4" width="1.7" height="0.8" fill="#888"/>
<text x="41.2" y="354.0" class="tk" text-anchor="end">6</text>
<rect x="45.3" y="376.4" width="1.7" height="0.8" fill="#888"/>
<text x="41.2" y="380.0" class="tk" text-anchor="end">4</text>
<rect x="45.3" y="402.4" width="1.7" height="0.8" fill="#888"/>
<text x="41.2" y="406.0" class="tk" text-anchor="end">2</text>
<rect x="45.3" y="428.4" width="1.7" height="0.8" fill="#888"/>
<text x="41.2" y="432.0" class="tk" text-anchor="end">0</text>
<rect x="45.3" y="454.4" width="1.7" height="0.8" fill="#888"/>
<text x="41.2" y="458.0" class="tk" text-anchor="end">-2</text>
<rect x="45.3" y="480.4" width="1.7" height="0.8" fill="#888"/>
<text x="41.2" y="484.0" class="tk" text-anchor="end">-4</text>
<rect x="45.3" y="506.4" width="1.7" height="0.8" fill="#888"/>
<text x="41.2" y="510.0" class="tk" text-anchor="end">-6</text>
<rect x="45.3" y="532.4" width="1.7" height="0.8" fill="#888"/>
<text x="41.2" y="536.0" class="tk" text-anchor="end">-8</text>
<rect x="55.3" y="536.6" width="0.8" height="1.7" fill="#888"/>
<text x="55.7" y="546.8" class="tk" text-anchor="middle">-10</text>
<rect x="103.6" y="536.6" width="0.8" height="1.7" fill="#888"/>
<text x="104.0" y="546.8" class="tk" text-anchor="middle">-5</text>
<rect x="151.9" y="536.6" width="0.8" height="1.7" fill="#888"/>
<text x="152.3" y="546.8" class="tk" text-anchor="middle">0</text>
<rect x="200.2" y="536.6" width="0.8" height="1.7" fill="#888"/>
<text x="200.6" y="546.8" class="tk" text-anchor="middle">5</text>
<rect x="248.5" y="536.6" width="0.8" height="1.7" fill="#888"/>
<text x="248.9" y="546.8" class="tk" text-anchor="middle">10</text>
<circle cx="220.6" cy="326.1" r="3.05" fill="#f5c2a8" stroke="#5a3a35" stroke-width="0.45"/>
<circle cx="228.0" cy="335.9" r="3.05" fill="#ea7c60" stroke="#5a3a35" stroke-width="0.45"/>
<circle cx="261.8" cy="346.7" r="3.05" fill="#dcdcdc" stroke="#5a3a35" stroke-width="0.45"/>
<circle cx="189.2" cy="344.7" r="3.05" fill="#f1a485" stroke="#5a3a35" stroke-width="0.45"/>
<circle cx="152.4" cy="351.2" r="3.05" fill="#f1a485" stroke="#5a3a35" stroke-width="0.45"/>
<circle cx="215.7" cy="350.2" r="3.05" fill="#ea7c60" stroke="#5a3a35" stroke-width="0.45"/>
<circle cx="179.0" cy="356.5" r="3.05" fill="#f5c2a8" stroke="#5a3a35" stroke-width="0.45"/>
<circle cx="182.4" cy="357.3" r="3.05" fill="#ea7c60" stroke="#5a3a35" stroke-width="0.45"/>
<circle cx="224.1" cy="361.8" r="3.05" fill="#ea7c60" stroke="#5a3a35" stroke-width="0.45"/>
<circle cx="234.9" cy="363.5" r="3.05" fill="#ea7c60" stroke="#5a3a35" stroke-width="0.45"/>
<circle cx="157.3" cy="367.3" r="3.05" fill="#ea7c60" stroke="#5a3a35" stroke-width="0.45"/>
<circle cx="159.2" cy="372.2" r="3.05" fill="#ea7c60" stroke="#5a3a35" stroke-width="0.45"/>
<circle cx="185.3" cy="369.6" r="3.05" fill="#ea7c60" stroke="#5a3a35" stroke-width="0.45"/>
<circle cx="180.4" cy="373.1" r="3.05" fill="#ea7c60" stroke="#5a3a35" stroke-width="0.45"/>
<circle cx="182.5" cy="373.5" r="3.05" fill="#ea7c60" stroke="#5a3a35" stroke-width="0.45"/>
<circle cx="221.6" cy="371.4" r="3.05" fill="#ea7c60" stroke="#5a3a35" stroke-width="0.45"/>
<circle cx="191.8" cy="379.0" r="3.05" fill="#e15e48" stroke="#5a3a35" stroke-width="0.45"/>
<circle cx="178.8" cy="380.6" r="3.05" fill="#ea7c60" stroke="#5a3a35" stroke-width="0.45"/>
<circle cx="183.3" cy="381.0" r="3.05" fill="#f5c2a8" stroke="#5a3a35" stroke-width="0.45"/>
<circle cx="190.8" cy="382.9" r="3.05" fill="#ea7c60" stroke="#5a3a35" stroke-width="0.45"/>
<circle cx="176.1" cy="386.1" r="3.05" fill="#ea7c60" stroke="#5a3a35" stroke-width="0.45"/>
<circle cx="184.5" cy="386.1" r="3.05" fill="#ea7c60" stroke="#5a3a35" stroke-width="0.45"/>
<circle cx="205.3" cy="385.3" r="3.05" fill="#ea7c60" stroke="#5a3a35" stroke-width="0.45"/>
<circle cx="154.3" cy="390.8" r="3.05" fill="#e15e48" stroke="#5a3a35" stroke-width="0.45"/>
<circle cx="165.5" cy="393.7" r="3.05" fill="#ea7c60" stroke="#5a3a35" stroke-width="0.45"/>
<circle cx="182.5" cy="391.0" r="3.05" fill="#e15e48" stroke="#5a3a35" stroke-width="0.45"/>
<circle cx="194.5" cy="392.9" r="3.05" fill="#d8443a" stroke="#5a3a35" stroke-width="0.45"/>
<circle cx="201.6" cy="392.5" r="3.05" fill="#d8443a" stroke="#5a3a35" stroke-width="0.45"/>
<circle cx="207.3" cy="391.6" r="3.05" fill="#ea7c60" stroke="#5a3a35" stroke-width="0.45"/>
<circle cx="234.9" cy="388.0" r="3.05" fill="#d8443a" stroke="#5a3a35" stroke-width="0.45"/>
<circle cx="233.9" cy="392.0" r="3.05" fill="#d8443a" stroke="#5a3a35" stroke-width="0.45"/>
<circle cx="198.8" cy="397.5" r="3.05" fill="#d8443a" stroke="#5a3a35" stroke-width="0.45"/>
<circle cx="182.9" cy="400.0" r="3.05" fill="#d8443a" stroke="#5a3a35" stroke-width="0.45"/>
<circle cx="174.1" cy="401.8" r="3.05" fill="#d8443a" stroke="#5a3a35" stroke-width="0.45"/>
<circle cx="176.5" cy="401.2" r="3.05" fill="#e15e48" stroke="#5a3a35" stroke-width="0.45"/>
<circle cx="201.6" cy="402.2" r="3.05" fill="#f1a485" stroke="#5a3a35" stroke-width="0.45"/>
<circle cx="178.0" cy="406.7" r="3.05" fill="#d8443a" stroke="#5a3a35" stroke-width="0.45"/>
<circle cx="195.1" cy="405.9" r="3.05" fill="#e15e48" stroke="#5a3a35" stroke-width="0.45"/>
<circle cx="186.9" cy="408.4" r="3.05" fill="#d8443a" stroke="#5a3a35" stroke-width="0.45"/>
<circle cx="227.8" cy="408.0" r="3.05" fill="#d8443a" stroke="#5a3a35" stroke-width="0.45"/>
<circle cx="164.1" cy="409.2" r="3.05" fill="#e15e48" stroke="#5a3a35" stroke-width="0.45"/>
<circle cx="171.0" cy="410.6" r="3.05" fill="#ea7c60" stroke="#5a3a35" stroke-width="0.45"/>
<circle cx="152.4" cy="410.0" r="3.05" fill="#d8443a" stroke="#5a3a35" stroke-width="0.45"/>
<circle cx="181.4" cy="410.6" r="3.05" fill="#e15e48" stroke="#5a3a35" stroke-width="0.45"/>
<circle cx="153.1" cy="412.2" r="3.05" fill="#cd2e2e" stroke="#5a3a35" stroke-width="0.45"/>
<circle cx="179.0" cy="412.9" r="3.05" fill="#d8443a" stroke="#5a3a35" stroke-width="0.45"/>
<circle cx="182.4" cy="412.9" r="3.05" fill="#d8443a" stroke="#5a3a35" stroke-width="0.45"/>
<circle cx="203.3" cy="412.5" r="3.05" fill="#d8443a" stroke="#5a3a35" stroke-width="0.45"/>
<circle cx="163.3" cy="415.3" r="3.05" fill="#d8443a" stroke="#5a3a35" stroke-width="0.45"/>
<circle cx="155.9" cy="417.6" r="3.05" fill="#f1a485" stroke="#5a3a35" stroke-width="0.45"/>
<circle cx="163.3" cy="417.8" r="3.05" fill="#cd2e2e" stroke="#5a3a35" stroke-width="0.45"/>
<circle cx="173.1" cy="418.8" r="3.05" fill="#d8443a" stroke="#5a3a35" stroke-width="0.45"/>
<circle cx="193.7" cy="418.0" r="3.05" fill="#d8443a" stroke="#5a3a35" stroke-width="0.45"/>
<circle cx="214.1" cy="418.0" r="3.05" fill="#d8443a" stroke="#5a3a35" stroke-width="0.45"/>
<circle cx="158.5" cy="422.1" r="3.05" fill="#d8443a" stroke="#5a3a35" stroke-width="0.45"/>
<circle cx="151.9" cy="420.2" r="3.05" fill="#d8443a" stroke="#5a3a35" stroke-width="0.45"/>
<circle cx="217.6" cy="424.7" r="3.05" fill="#d8443a" stroke="#5a3a35" stroke-width="0.45"/>
<circle cx="226.5" cy="424.7" r="3.05" fill="#d8443a" stroke="#5a3a35" stroke-width="0.45"/>
<circle cx="154.7" cy="427.8" r="3.05" fill="#f1a485" stroke="#5a3a35" stroke-width="0.45"/>
<circle cx="162.9" cy="429.1" r="3.05" fill="#d8443a" stroke="#5a3a35" stroke-width="0.45"/>
<circle cx="201.6" cy="429.7" r="3.05" fill="#d8443a" stroke="#5a3a35" stroke-width="0.45"/>
<circle cx="208.8" cy="433.1" r="3.05" fill="#ea7c60" stroke="#5a3a35" stroke-width="0.45"/>
<circle cx="155.7" cy="432.9" r="3.05" fill="#ea7c60" stroke="#5a3a35" stroke-width="0.45"/>
<circle cx="162.9" cy="435.4" r="3.05" fill="#d8443a" stroke="#5a3a35" stroke-width="0.45"/>
<circle cx="166.1" cy="435.7" r="3.05" fill="#cd2e2e" stroke="#5a3a35" stroke-width="0.45"/>
<circle cx="179.0" cy="434.8" r="3.05" fill="#d8443a" stroke="#5a3a35" stroke-width="0.45"/>
<circle cx="184.2" cy="435.0" r="3.05" fill="#f1a485" stroke="#5a3a35" stroke-width="0.45"/>
<circle cx="183.2" cy="439.7" r="3.05" fill="#ea7c60" stroke="#5a3a35" stroke-width="0.45"/>
<circle cx="155.3" cy="437.6" r="3.05" fill="#ea7c60" stroke="#5a3a35" stroke-width="0.45"/>
<circle cx="169.0" cy="441.1" r="3.05" fill="#f1a485" stroke="#5a3a35" stroke-width="0.45"/>
<circle cx="159.9" cy="442.6" r="3.05" fill="#d8443a" stroke="#5a3a35" stroke-width="0.45"/>
<circle cx="157.6" cy="445.8" r="3.05" fill="#ea7c60" stroke="#5a3a35" stroke-width="0.45"/>
<circle cx="150.0" cy="446.8" r="3.05" fill="#d8443a" stroke="#5a3a35" stroke-width="0.45"/>
<circle cx="209.8" cy="447.5" r="3.05" fill="#e15e48" stroke="#5a3a35" stroke-width="0.45"/>
<circle cx="155.3" cy="453.4" r="3.05" fill="#ea7c60" stroke="#5a3a35" stroke-width="0.45"/>
<circle cx="162.9" cy="452.4" r="3.05" fill="#ea7c60" stroke="#5a3a35" stroke-width="0.45"/>
<circle cx="168.0" cy="457.8" r="3.05" fill="#d8443a" stroke="#5a3a35" stroke-width="0.45"/>
<circle cx="184.5" cy="452.1" r="3.05" fill="#cd2e2e" stroke="#5a3a35" stroke-width="0.45"/>
<circle cx="151.5" cy="458.7" r="3.05" fill="#d8443a" stroke="#5a3a35" stroke-width="0.45"/>
<circle cx="160.4" cy="462.3" r="3.05" fill="#d8443a" stroke="#5a3a35" stroke-width="0.45"/>
<circle cx="158.5" cy="464.8" r="3.05" fill="#e15e48" stroke="#5a3a35" stroke-width="0.45"/>
<circle cx="179.4" cy="460.4" r="3.05" fill="#cd2e2e" stroke="#5a3a35" stroke-width="0.45"/>
<circle cx="174.7" cy="466.7" r="3.05" fill="#cd2e2e" stroke="#5a3a35" stroke-width="0.45"/>
<circle cx="181.3" cy="465.7" r="3.05" fill="#d8443a" stroke="#5a3a35" stroke-width="0.45"/>
<circle cx="184.5" cy="467.3" r="3.05" fill="#ea7c60" stroke="#5a3a35" stroke-width="0.45"/>
<circle cx="186.1" cy="473.7" r="3.05" fill="#ea7c60" stroke="#5a3a35" stroke-width="0.45"/>
<circle cx="157.0" cy="471.0" r="3.05" fill="#cd2e2e" stroke="#5a3a35" stroke-width="0.45"/>
<circle cx="155.1" cy="483.8" r="3.05" fill="#d8443a" stroke="#5a3a35" stroke-width="0.45"/>
<circle cx="174.1" cy="496.9" r="3.05" fill="#ea7c60" stroke="#5a3a35" stroke-width="0.45"/>
<circle cx="107.4" cy="404.5" r="3.05" fill="#e15e48" stroke="#5a3a35" stroke-width="0.45"/>
<circle cx="139.7" cy="409.3" r="3.05" fill="#ea7c60" stroke="#5a3a35" stroke-width="0.45"/>
<circle cx="79.0" cy="420.2" r="3.05" fill="#ea7c60" stroke="#5a3a35" stroke-width="0.45"/>
<circle cx="87.2" cy="422.3" r="3.05" fill="#ea7c60" stroke="#5a3a35" stroke-width="0.45"/>
<circle cx="109.5" cy="417.3" r="3.05" fill="#cd2e2e" stroke="#5a3a35" stroke-width="0.45"/>
<circle cx="110.1" cy="421.8" r="3.05" fill="#f1a485" stroke="#5a3a35" stroke-width="0.45"/>
<circle cx="126.7" cy="420.2" r="3.05" fill="#ea7c60" stroke="#5a3a35" stroke-width="0.45"/>
<circle cx="134.3" cy="422.3" r="3.05" fill="#ea7c60" stroke="#5a3a35" stroke-width="0.45"/>
<circle cx="136.8" cy="417.8" r="3.05" fill="#ea7c60" stroke="#5a3a35" stroke-width="0.45"/>
<circle cx="141.5" cy="417.3" r="3.05" fill="#f5c2a8" stroke="#5a3a35" stroke-width="0.45"/>
<circle cx="148.8" cy="419.6" r="3.05" fill="#d8443a" stroke="#5a3a35" stroke-width="0.45"/>
<circle cx="149.7" cy="422.3" r="3.05" fill="#d8443a" stroke="#5a3a35" stroke-width="0.45"/>
<circle cx="58.0" cy="438.7" r="3.05" fill="#ea7c60" stroke="#5a3a35" stroke-width="0.45"/>
<circle cx="106.0" cy="430.0" r="3.05" fill="#ea7c60" stroke="#5a3a35" stroke-width="0.45"/>
<circle cx="110.4" cy="432.1" r="3.05" fill="#cd2e2e" stroke="#5a3a35" stroke-width="0.45"/>
<circle cx="125.9" cy="431.2" r="3.05" fill="#ea7c60" stroke="#5a3a35" stroke-width="0.45"/>
<circle cx="132.5" cy="431.2" r="3.05" fill="#f5c2a8" stroke="#5a3a35" stroke-width="0.45"/>
<circle cx="142.9" cy="427.6" r="3.05" fill="#ea7c60" stroke="#5a3a35" stroke-width="0.45"/>
<circle cx="145.2" cy="433.9" r="3.05" fill="#d8443a" stroke="#5a3a35" stroke-width="0.45"/>
<circle cx="76.2" cy="446.7" r="3.05" fill="#ea7c60" stroke="#5a3a35" stroke-width="0.45"/>
<circle cx="90.4" cy="448.5" r="3.05" fill="#ea7c60" stroke="#5a3a35" stroke-width="0.45"/>
<circle cx="90.1" cy="454.0" r="3.05" fill="#e15e48" stroke="#5a3a35" stroke-width="0.45"/>
<circle cx="103.6" cy="441.9" r="3.05" fill="#ea7c60" stroke="#5a3a35" stroke-width="0.45"/>
<circle cx="106.9" cy="442.4" r="3.05" fill="#ea7c60" stroke="#5a3a35" stroke-width="0.45"/>
<circle cx="123.8" cy="439.6" r="3.05" fill="#cd2e2e" stroke="#5a3a35" stroke-width="0.45"/>
<circle cx="122.0" cy="441.4" r="3.05" fill="#f1a485" stroke="#5a3a35" stroke-width="0.45"/>
<circle cx="134.5" cy="437.8" r="3.05" fill="#ea7c60" stroke="#5a3a35" stroke-width="0.45"/>
<circle cx="142.5" cy="440.1" r="3.05" fill="#cd2e2e" stroke="#5a3a35" stroke-width="0.45"/>
<circle cx="145.2" cy="444.6" r="3.05" fill="#d8443a" stroke="#5a3a35" stroke-width="0.45"/>
<circle cx="149.0" cy="446.7" r="3.05" fill="#cd2e2e" stroke="#5a3a35" stroke-width="0.45"/>
<circle cx="119.3" cy="447.3" r="3.05" fill="#d8443a" stroke="#5a3a35" stroke-width="0.45"/>
<circle cx="125.0" cy="445.5" r="3.05" fill="#ea7c60" stroke="#5a3a35" stroke-width="0.45"/>
<circle cx="128.3" cy="450.8" r="3.05" fill="#ea7c60" stroke="#5a3a35" stroke-width="0.45"/>
<circle cx="129.1" cy="453.5" r="3.05" fill="#ea7c60" stroke="#5a3a35" stroke-width="0.45"/>
<circle cx="134.1" cy="447.8" r="3.05" fill="#ea7c60" stroke="#5a3a35" stroke-width="0.45"/>
<circle cx="137.2" cy="450.0" r="3.05" fill="#f5c2a8" stroke="#5a3a35" stroke-width="0.45"/>
<circle cx="139.7" cy="450.8" r="3.05" fill="#ea7c60" stroke="#5a3a35" stroke-width="0.45"/>
<circle cx="143.2" cy="450.8" r="3.05" fill="#d8443a" stroke="#5a3a35" stroke-width="0.45"/>
<circle cx="139.5" cy="455.3" r="3.05" fill="#ea7c60" stroke="#5a3a35" stroke-width="0.45"/>
<circle cx="104.4" cy="452.6" r="3.05" fill="#ea7c60" stroke="#5a3a35" stroke-width="0.45"/>
<circle cx="111.3" cy="451.7" r="3.05" fill="#ea7c60" stroke="#5a3a35" stroke-width="0.45"/>
<circle cx="115.1" cy="453.1" r="3.05" fill="#d8443a" stroke="#5a3a35" stroke-width="0.45"/>
<circle cx="98.8" cy="458.5" r="3.05" fill="#d8443a" stroke="#5a3a35" stroke-width="0.45"/>
<circle cx="102.9" cy="465.3" r="3.05" fill="#e15e48" stroke="#5a3a35" stroke-width="0.45"/>
<circle cx="109.7" cy="462.8" r="3.05" fill="#cd2e2e" stroke="#5a3a35" stroke-width="0.45"/>
<circle cx="128.8" cy="460.3" r="3.05" fill="#d8443a" stroke="#5a3a35" stroke-width="0.45"/>
<circle cx="140.4" cy="461.2" r="3.05" fill="#d8443a" stroke="#5a3a35" stroke-width="0.45"/>
<circle cx="140.7" cy="462.8" r="3.05" fill="#cd2e2e" stroke="#5a3a35" stroke-width="0.45"/>
<circle cx="139.8" cy="465.1" r="3.05" fill="#d8443a" stroke="#5a3a35" stroke-width="0.45"/>
<circle cx="150.7" cy="458.3" r="3.05" fill="#cd2e2e" stroke="#5a3a35" stroke-width="0.45"/>
<circle cx="125.9" cy="465.6" r="3.05" fill="#cd2e2e" stroke="#5a3a35" stroke-width="0.45"/>
<circle cx="80.6" cy="470.4" r="3.05" fill="#ea7c60" stroke="#5a3a35" stroke-width="0.45"/>
<circle cx="87.2" cy="476.2" r="3.05" fill="#cd2e2e" stroke="#5a3a35" stroke-width="0.45"/>
<circle cx="97.6" cy="477.9" r="3.05" fill="#ea7c60" stroke="#5a3a35" stroke-width="0.45"/>
<circle cx="103.1" cy="477.9" r="3.05" fill="#e15e48" stroke="#5a3a35" stroke-width="0.45"/>
<circle cx="106.9" cy="474.0" r="3.05" fill="#e15e48" stroke="#5a3a35" stroke-width="0.45"/>
<circle cx="116.7" cy="477.0" r="3.05" fill="#e15e48" stroke="#5a3a35" stroke-width="0.45"/>
<circle cx="125.9" cy="471.9" r="3.05" fill="#ea7c60" stroke="#5a3a35" stroke-width="0.45"/>
<circle cx="132.9" cy="474.0" r="3.05" fill="#ea7c60" stroke="#5a3a35" stroke-width="0.45"/>
<circle cx="126.4" cy="472.0" r="3.05" fill="#e15e48" stroke="#5a3a35" stroke-width="0.45"/>
<circle cx="83.0" cy="483.5" r="3.05" fill="#d8443a" stroke="#5a3a35" stroke-width="0.45"/>
<circle cx="73.5" cy="487.4" r="3.05" fill="#d8443a" stroke="#5a3a35" stroke-width="0.45"/>
<circle cx="100.6" cy="487.7" r="3.05" fill="#d8443a" stroke="#5a3a35" stroke-width="0.45"/>
<circle cx="109.5" cy="488.6" r="3.05" fill="#e15e48" stroke="#5a3a35" stroke-width="0.45"/>
<circle cx="112.7" cy="491.8" r="3.05" fill="#cd2e2e" stroke="#5a3a35" stroke-width="0.45"/>
<circle cx="116.5" cy="489.2" r="3.05" fill="#e15e48" stroke="#5a3a35" stroke-width="0.45"/>
<circle cx="139.5" cy="486.9" r="3.05" fill="#ea7c60" stroke="#5a3a35" stroke-width="0.45"/>
<circle cx="146.6" cy="486.9" r="3.05" fill="#ea7c60" stroke="#5a3a35" stroke-width="0.45"/>
<circle cx="84.9" cy="494.2" r="3.05" fill="#d8443a" stroke="#5a3a35" stroke-width="0.45"/>
<circle cx="118.4" cy="501.2" r="3.05" fill="#cd2e2e" stroke="#5a3a35" stroke-width="0.45"/>
<circle cx="139.0" cy="499.0" r="3.05" fill="#ea7c60" stroke="#5a3a35" stroke-width="0.45"/>
<circle cx="87.1" cy="509.4" r="3.05" fill="#d8443a" stroke="#5a3a35" stroke-width="0.45"/>
<circle cx="144.0" cy="518.5" r="3.05" fill="#cd2e2e" stroke="#5a3a35" stroke-width="0.45"/>
<circle cx="140.7" cy="526.6" r="3.05" fill="#cd2e2e" stroke="#5a3a35" stroke-width="0.45"/>
<circle cx="139.9" cy="350.4" r="3.05" fill="#f1a485" stroke="#5a3a35" stroke-width="0.45"/>
<circle cx="126.2" cy="370.4" r="3.05" fill="#e15e48" stroke="#5a3a35" stroke-width="0.45"/>
<circle cx="111.3" cy="378.7" r="3.05" fill="#f1a485" stroke="#5a3a35" stroke-width="0.45"/>
<circle cx="82.7" cy="388.9" r="3.05" fill="#ea7c60" stroke="#5a3a35" stroke-width="0.45"/>
<circle cx="120.9" cy="394.9" r="3.05" fill="#e15e48" stroke="#5a3a35" stroke-width="0.45"/>
<circle cx="121.4" cy="398.7" r="3.05" fill="#ea7c60" stroke="#5a3a35" stroke-width="0.45"/>
<circle cx="136.3" cy="394.9" r="3.05" fill="#ea7c60" stroke="#5a3a35" stroke-width="0.45"/>
<circle cx="146.1" cy="392.1" r="3.05" fill="#ea7c60" stroke="#5a3a35" stroke-width="0.45"/>
<line x1="58" y1="480" x2="262" y2="369.5" stroke="#333" stroke-width="0.8"/>
<text x="62.5" y="331.5" class="tk"><tspan font-style="italic">r</tspan> = 0.54*</text>
<text transform="translate(27,426.9) rotate(-90)" class="ax" x="-28.8" textLength="57.6" lengthAdjust="spacingAndGlyphs">behavior score</text>
<text x="128.5" y="558.1" class="ax">brain score</text>
<text x="48.3" y="558.3" class="tk">*</text>
<text x="58.5" y="558.1" class="ax"><tspan font-style="italic">p</tspan>-value &lt; 0.05</text>
<defs><linearGradient id="gALS" x1="0" x2="1" y1="0" y2="0"><stop offset="0" stop-color="#6b0a10"/><stop offset="0.45" stop-color="#e8322a"/><stop offset="1" stop-color="#fbece4"/></linearGradient></defs>
<rect x="188.5" y="511.2" width="48" height="7" fill="url(#gALS)" stroke="#444" stroke-width="0.5"/>
<text x="184.3" y="518" class="ax" text-anchor="end">normal</text>
<text x="197" y="528" class="ax" textLength="29.3" lengthAdjust="spacingAndGlyphs">ALSFRS</text>
<text x="255.5" y="514" class="ax" text-anchor="middle">severe</text>
<text x="256.2" y="525.5" class="ax" text-anchor="middle">symptom</text>
<text x="3.6" y="11" class="pl" textLength="5.8" lengthAdjust="spacingAndGlyphs">a</text>
<text x="288.6" y="11" class="pl" textLength="5.6" lengthAdjust="spacingAndGlyphs">c</text>
<text x="3.7" y="311.5" class="pl" textLength="6.2" lengthAdjust="spacingAndGlyphs">b</text>
<rect x="428" y="1.0" width="3" height="43.5" fill="#a9a9a9" fill-opacity="0.8"/>
<rect x="428" y="45.5" width="3" height="42.0" fill="#d3a72f" fill-opacity="0.8"/>
<rect x="428" y="88.4" width="3" height="33.4" fill="#eba263" fill-opacity="0.8"/>
<rect x="428" y="122.8" width="3" height="110.7" fill="#b38488" fill-opacity="0.8"/>
<rect x="428" y="234.5" width="3" height="196.7" fill="#ee7570" fill-opacity="0.8"/>
<rect x="428" y="432.2" width="3" height="102.1" fill="#de8f76" fill-opacity="0.8"/>
<rect x="554.0" y="2.6" width="25.0" height="7.4" fill="#a9a9a9"/>
<rect x="492.0" y="11.2" width="62.0" height="7.4" fill="#a9a9a9"/>
<rect x="554.0" y="19.8" width="44.0" height="7.4" fill="#a9a9a9"/>
<rect x="538.0" y="28.4" width="16.0" height="7.4" fill="#a9a9a9"/>
<rect x="545.0" y="37.0" width="9.0" height="7.4" fill="#a9a9a9"/>
<rect x="554.0" y="45.6" width="30.0" height="7.4" fill="#d3a72f"/>
<rect x="554.0" y="54.2" width="26.0" height="7.4" fill="#d3a72f"/>
<rect x="539.0" y="62.8" width="15.0" height="7.4" fill="#d3a72f"/>
<rect x="554.0" y="71.4" width="2.0" height="7.4" fill="#d3a72f"/>
<rect x="543.0" y="79.9" width="11.0" height="7.4" fill="#d3a72f"/>
<rect x="554.0" y="88.5" width="44.0" height="7.4" fill="#eba263"/>
<rect x="554.0" y="97.1" width="42.0" height="7.4" fill="#eba263"/>
<rect x="554.0" y="105.7" width="30.0" height="7.4" fill="#eba263"/>
<rect x="554.0" y="114.3" width="48.0" height="7.4" fill="#eba263"/>
<rect x="467.0" y="122.9" width="87.0" height="7.4" fill="#b38488"/>
<rect x="517.0" y="131.5" width="37.0" height="7.4" fill="#b38488"/>
<rect x="504.0" y="140.1" width="50.0" height="7.4" fill="#b38488"/>
<rect x="499.0" y="148.7" width="55.0" height="7.4" fill="#b38488"/>
<rect x="484.0" y="157.3" width="70.0" height="7.4" fill="#b38488"/>
<rect x="478.0" y="165.9" width="76.0" height="7.4" fill="#b38488"/>
<rect x="492.0" y="174.5" width="62.0" height="7.4" fill="#b38488"/>
<rect x="508.0" y="183.1" width="46.0" height="7.4" fill="#b38488"/>
<rect x="491.0" y="191.7" width="63.0" height="7.4" fill="#b38488"/>
<rect x="485.0" y="200.3" width="69.0" height="7.4" fill="#b38488"/>
<rect x="534.0" y="208.9" width="20.0" height="7.4" fill="#b38488"/>
<rect x="523.0" y="217.5" width="31.0" height="7.4" fill="#b38488"/>
<rect x="543.0" y="226.0" width="11.0" height="7.4" fill="#b38488"/>
<rect x="554.0" y="234.6" width="22.0" height="7.4" fill="#ee7570"/>
<rect x="537.0" y="243.2" width="17.0" height="7.4" fill="#ee7570"/>
<rect x="525.0" y="251.8" width="29.0" height="7.4" fill="#ee7570"/>
<rect x="542.0" y="260.4" width="12.0" height="7.4" fill="#ee7570"/>
<rect x="554.0" y="269.0" width="33.0" height="7.4" fill="#ee7570"/>
<rect x="554.0" y="277.6" width="27.0" height="7.4" fill="#ee7570"/>
<rect x="554.0" y="286.2" width="42.0" height="7.4" fill="#ee7570"/>
<rect x="543.0" y="294.8" width="11.0" height="7.4" fill="#ee7570"/>
<rect x="548.0" y="303.4" width="6.0" height="7.4" fill="#ee7570"/>
<rect x="521.0" y="312.0" width="33.0" height="7.4" fill="#ee7570"/>
<rect x="549.0" y="320.6" width="5.0" height="7.4" fill="#ee7570"/>
<rect x="518.0" y="329.2" width="36.0" height="7.4" fill="#ee7570"/>
<rect x="554.0" y="337.8" width="13.0" height="7.4" fill="#ee7570"/>
<rect x="537.0" y="346.4" width="17.0" height="7.4" fill="#ee7570"/>
<rect x="554.0" y="355.0" width="13.0" height="7.4" fill="#ee7570"/>
<rect x="554.0" y="363.5" width="44.0" height="7.4" fill="#ee7570"/>
<rect x="554.0" y="372.1" width="6.0" height="7.4" fill="#ee7570"/>
<rect x="549.0" y="380.7" width="5.0" height="7.4" fill="#ee7570"/>
<rect x="554.0" y="389.3" width="37.0" height="7.4" fill="#ee7570"/>
<rect x="554.0" y="397.9" width="37.0" height="7.4" fill="#ee7570"/>
<rect x="521.0" y="406.5" width="33.0" height="7.4" fill="#ee7570"/>
<rect x="554.0" y="415.1" width="18.0" height="7.4" fill="#ee7570"/>
<rect x="554.0" y="423.7" width="41.0" height="7.4" fill="#ee7570"/>
<rect x="459.0" y="432.3" width="95.0" height="7.4" fill="#de8f76"/>
<rect x="468.0" y="440.9" width="86.0" height="7.4" fill="#de8f76"/>
<rect x="482.0" y="449.5" width="72.0" height="7.4" fill="#de8f76"/>
<rect x="472.0" y="458.1" width="82.0" height="7.4" fill="#de8f76"/>
<rect x="459.0" y="466.7" width="95.0" height="7.4" fill="#de8f76"/>
<rect x="471.0" y="475.3" width="83.0" height="7.4" fill="#de8f76"/>
<rect x="462.0" y="483.9" width="92.0" height="7.4" fill="#de8f76"/>
<rect x="466.0" y="492.5" width="88.0" height="7.4" fill="#de8f76"/>
<rect x="484.0" y="501.1" width="70.0" height="7.4" fill="#de8f76"/>
<rect x="470.0" y="509.6" width="84.0" height="7.4" fill="#de8f76"/>
<rect x="482.0" y="518.2" width="72.0" height="7.4" fill="#de8f76"/>
<rect x="476.0" y="526.8" width="78.0" height="7.4" fill="#de8f76"/>
<line x1="542" x2="616" y1="6.3" y2="6.3" stroke="#000" stroke-opacity="0.72" stroke-width="1"/>
<line x1="460" x2="524" y1="14.9" y2="14.9" stroke="#000" stroke-opacity="0.72" stroke-width="1"/>
<line x1="569" x2="626" y1="23.5" y2="23.5" stroke="#000" stroke-opacity="0.72" stroke-width="1"/>
<line x1="503" x2="573" y1="32.1" y2="32.1" stroke="#000" stroke-opacity="0.46" stroke-width="1"/>
<line x1="505" x2="585" y1="40.7" y2="40.7" stroke="#000" stroke-opacity="0.72" stroke-width="1"/>
<line x1="545" x2="623" y1="49.3" y2="49.3" stroke="#000" stroke-opacity="0.72" stroke-width="1"/>
<line x1="543" x2="617" y1="57.9" y2="57.9" stroke="#000" stroke-opacity="0.58" stroke-width="1"/>
<line x1="503" x2="575" y1="66.5" y2="66.5" stroke="#000" stroke-opacity="0.72" stroke-width="1"/>
<line x1="519" x2="592" y1="75.1" y2="75.1" stroke="#000" stroke-opacity="0.46" stroke-width="1"/>
<line x1="506" x2="580" y1="83.6" y2="83.6" stroke="#000" stroke-opacity="0.72" stroke-width="1"/>
<line x1="566" x2="629" y1="92.2" y2="92.2" stroke="#000" stroke-opacity="0.72" stroke-width="1"/>
<line x1="564" x2="628" y1="100.8" y2="100.8" stroke="#000" stroke-opacity="0.72" stroke-width="1"/>
<line x1="550" x2="618" y1="109.4" y2="109.4" stroke="#000" stroke-opacity="0.72" stroke-width="1"/>
<line x1="570" x2="633" y1="118.0" y2="118.0" stroke="#000" stroke-opacity="0.46" stroke-width="1"/>
<line x1="432" x2="501" y1="126.6" y2="126.6" stroke="#000" stroke-opacity="0.72" stroke-width="1"/>
<line x1="487" x2="547" y1="135.2" y2="135.2" stroke="#000" stroke-opacity="0.72" stroke-width="1"/>
<line x1="461" x2="547" y1="143.8" y2="143.8" stroke="#000" stroke-opacity="0.72" stroke-width="1"/>
<line x1="463" x2="535" y1="152.4" y2="152.4" stroke="#000" stroke-opacity="0.72" stroke-width="1"/>
<line x1="449" x2="519" y1="161.0" y2="161.0" stroke="#000" stroke-opacity="0.46" stroke-width="1"/>
<line x1="445" x2="511" y1="169.6" y2="169.6" stroke="#000" stroke-opacity="0.72" stroke-width="1"/>
<line x1="453" x2="531" y1="178.2" y2="178.2" stroke="#000" stroke-opacity="0.72" stroke-width="1"/>
<line x1="473" x2="543" y1="186.8" y2="186.8" stroke="#000" stroke-opacity="0.72" stroke-width="1"/>
<line x1="457" x2="525" y1="195.4" y2="195.4" stroke="#000" stroke-opacity="0.72" stroke-width="1"/>
<line x1="451" x2="520" y1="204.0" y2="204.0" stroke="#000" stroke-opacity="0.46" stroke-width="1"/>
<line x1="490" x2="579" y1="212.6" y2="212.6" stroke="#000" stroke-opacity="0.72" stroke-width="1"/>
<line x1="485" x2="560" y1="221.2" y2="221.2" stroke="#000" stroke-opacity="0.46" stroke-width="1"/>
<line x1="502" x2="585" y1="229.7" y2="229.7" stroke="#000" stroke-opacity="0.72" stroke-width="1"/>
<line x1="541" x2="611" y1="238.3" y2="238.3" stroke="#000" stroke-opacity="0.72" stroke-width="1"/>
<line x1="503" x2="572" y1="246.9" y2="246.9" stroke="#000" stroke-opacity="0.46" stroke-width="1"/>
<line x1="496" x2="555" y1="255.5" y2="255.5" stroke="#000" stroke-opacity="0.72" stroke-width="1"/>
<line x1="506" x2="577" y1="264.1" y2="264.1" stroke="#000" stroke-opacity="0.46" stroke-width="1"/>
<line x1="550" x2="623" y1="272.7" y2="272.7" stroke="#000" stroke-opacity="0.72" stroke-width="1"/>
<line x1="544" x2="618" y1="281.3" y2="281.3" stroke="#000" stroke-opacity="0.72" stroke-width="1"/>
<line x1="562" x2="630" y1="289.9" y2="289.9" stroke="#000" stroke-opacity="0.46" stroke-width="1"/>
<line x1="510" x2="577" y1="298.5" y2="298.5" stroke="#000" stroke-opacity="0.72" stroke-width="1"/>
<line x1="531" x2="565" y1="307.1" y2="307.1" stroke="#000" stroke-opacity="0.58" stroke-width="1"/>
<line x1="491" x2="553" y1="315.7" y2="315.7" stroke="#000" stroke-opacity="0.72" stroke-width="1"/>
<line x1="522" x2="577" y1="324.3" y2="324.3" stroke="#000" stroke-opacity="0.72" stroke-width="1"/>
<line x1="483" x2="554" y1="332.9" y2="332.9" stroke="#000" stroke-opacity="0.72" stroke-width="1"/>
<line x1="531" x2="603" y1="341.5" y2="341.5" stroke="#000" stroke-opacity="0.72" stroke-width="1"/>
<line x1="506" x2="568" y1="350.1" y2="350.1" stroke="#000" stroke-opacity="0.46" stroke-width="1"/>
<line x1="531" x2="604" y1="358.7" y2="358.7" stroke="#000" stroke-opacity="0.72" stroke-width="1"/>
<line x1="564" x2="632" y1="367.2" y2="367.2" stroke="#000" stroke-opacity="0.72" stroke-width="1"/>
<line x1="523" x2="598" y1="375.8" y2="375.8" stroke="#000" stroke-opacity="0.46" stroke-width="1"/>
<line x1="514" x2="584" y1="384.4" y2="384.4" stroke="#000" stroke-opacity="0.72" stroke-width="1"/>
<line x1="558" x2="623" y1="393.0" y2="393.0" stroke="#000" stroke-opacity="0.46" stroke-width="1"/>
<line x1="550" x2="631" y1="401.6" y2="401.6" stroke="#000" stroke-opacity="0.72" stroke-width="1"/>
<line x1="485" x2="558" y1="410.2" y2="410.2" stroke="#000" stroke-opacity="0.72" stroke-width="1"/>
<line x1="537" x2="607" y1="418.8" y2="418.8" stroke="#000" stroke-opacity="0.72" stroke-width="1"/>
<line x1="564" x2="626" y1="427.4" y2="427.4" stroke="#000" stroke-opacity="0.72" stroke-width="1"/>
<line x1="434" x2="486" y1="436.0" y2="436.0" stroke="#000" stroke-opacity="0.46" stroke-width="1"/>
<line x1="436" x2="500" y1="444.6" y2="444.6" stroke="#000" stroke-opacity="0.72" stroke-width="1"/>
<line x1="446" x2="518" y1="453.2" y2="453.2" stroke="#000" stroke-opacity="0.72" stroke-width="1"/>
<line x1="441" x2="503" y1="461.8" y2="461.8" stroke="#000" stroke-opacity="0.72" stroke-width="1"/>
<line x1="433" x2="486" y1="470.4" y2="470.4" stroke="#000" stroke-opacity="0.72" stroke-width="1"/>
<line x1="438" x2="503" y1="479.0" y2="479.0" stroke="#000" stroke-opacity="0.46" stroke-width="1"/>
<line x1="436" x2="488" y1="487.6" y2="487.6" stroke="#000" stroke-opacity="0.72" stroke-width="1"/>
<line x1="435" x2="498" y1="496.2" y2="496.2" stroke="#000" stroke-opacity="0.72" stroke-width="1"/>
<line x1="448" x2="519" y1="504.8" y2="504.8" stroke="#000" stroke-opacity="0.72" stroke-width="1"/>
<line x1="439" x2="501" y1="513.3" y2="513.3" stroke="#000" stroke-opacity="0.72" stroke-width="1"/>
<line x1="446" x2="518" y1="521.9" y2="521.9" stroke="#000" stroke-opacity="0.46" stroke-width="1"/>
<line x1="445" x2="508" y1="530.5" y2="530.5" stroke="#000" stroke-opacity="0.72" stroke-width="1"/>
<text x="425.3" y="8.1" class="lb" text-anchor="end" textLength="46.3" lengthAdjust="spacingAndGlyphs">sex - female</text>
<rect x="427" y="5.8" width="1" height="0.8" fill="#666"/>
<text x="425.3" y="16.7" class="lb" text-anchor="end" textLength="14.8" lengthAdjust="spacingAndGlyphs">age</text>
<rect x="427" y="14.4" width="1" height="0.8" fill="#666"/>
<text x="425.3" y="25.3" class="lb" text-anchor="end" textLength="73.4" lengthAdjust="spacingAndGlyphs">symptom duration</text>
<rect x="427" y="23.0" width="1" height="0.8" fill="#666"/>
<text x="425.3" y="33.9" class="lb" text-anchor="end" textLength="72.2" lengthAdjust="spacingAndGlyphs">years of education</text>
<rect x="427" y="31.6" width="1" height="0.8" fill="#666"/>
<text x="425.3" y="42.5" class="lb" text-anchor="end" textLength="47.7" lengthAdjust="spacingAndGlyphs">handedness</text>
<rect x="427" y="40.2" width="1" height="0.8" fill="#666"/>
<text x="425.3" y="51.1" class="lb" text-anchor="end" textLength="64.0" lengthAdjust="spacingAndGlyphs">reflexes - left leg</text>
<rect x="427" y="48.8" width="1" height="0.8" fill="#666"/>
<text x="425.3" y="59.7" class="lb" text-anchor="end" textLength="69.9" lengthAdjust="spacingAndGlyphs">reflexes - right leg</text>
<rect x="427" y="57.4" width="1" height="0.8" fill="#666"/>
<text x="425.3" y="68.3" class="lb" text-anchor="end" textLength="67.3" lengthAdjust="spacingAndGlyphs">reflexes - left arm</text>
<rect x="427" y="66.0" width="1" height="0.8" fill="#666"/>
<text x="425.3" y="76.9" class="lb" text-anchor="end" textLength="74.8" lengthAdjust="spacingAndGlyphs">reflexed - right arm</text>
<rect x="427" y="74.6" width="1" height="0.8" fill="#666"/>
<text x="425.3" y="85.4" class="lb" text-anchor="end" textLength="50.7" lengthAdjust="spacingAndGlyphs">reflexes - jaw</text>
<rect x="427" y="83.1" width="1" height="0.8" fill="#666"/>
<text x="425.3" y="94.0" class="lb" text-anchor="end" textLength="52.0" lengthAdjust="spacingAndGlyphs">tone - left leg</text>
<rect x="427" y="91.7" width="1" height="0.8" fill="#666"/>
<text x="425.3" y="102.6" class="lb" text-anchor="end" textLength="58.2" lengthAdjust="spacingAndGlyphs">tone - right leg</text>
<rect x="427" y="100.3" width="1" height="0.8" fill="#666"/>
<text x="425.3" y="111.2" class="lb" text-anchor="end" textLength="55.0" lengthAdjust="spacingAndGlyphs">tone - left arm</text>
<rect x="427" y="108.9" width="1" height="0.8" fill="#666"/>
<text x="425.3" y="119.8" class="lb" text-anchor="end" textLength="61.4" lengthAdjust="spacingAndGlyphs">tone - right arm</text>
<rect x="427" y="117.5" width="1" height="0.8" fill="#666"/>
<text x="425.3" y="128.4" class="lb" text-anchor="end" textLength="76.5" lengthAdjust="spacingAndGlyphs">ALSFRS - total score</text>
<rect x="427" y="126.1" width="1" height="0.8" fill="#666"/>
<text x="425.3" y="137.0" class="lb" text-anchor="end" textLength="93.6" lengthAdjust="spacingAndGlyphs">respiratory insufficiency</text>
<rect x="427" y="134.7" width="1" height="0.8" fill="#666"/>
<text x="425.3" y="145.6" class="lb" text-anchor="end" textLength="41.6" lengthAdjust="spacingAndGlyphs">orthopnea</text>
<rect x="427" y="143.3" width="1" height="0.8" fill="#666"/>
<text x="425.3" y="154.2" class="lb" text-anchor="end" textLength="33.7" lengthAdjust="spacingAndGlyphs">dyspnea</text>
<rect x="427" y="151.9" width="1" height="0.8" fill="#666"/>
<text x="425.3" y="162.8" class="lb" text-anchor="end" textLength="56.8" lengthAdjust="spacingAndGlyphs">climbing stairs</text>
<rect x="427" y="160.5" width="1" height="0.8" fill="#666"/>
<text x="425.3" y="171.4" class="lb" text-anchor="end" textLength="30.5" lengthAdjust="spacingAndGlyphs">walking</text>
<rect x="427" y="169.1" width="1" height="0.8" fill="#666"/>
<text x="425.3" y="180.0" class="lb" text-anchor="end" textLength="55.6" lengthAdjust="spacingAndGlyphs">turning in bed</text>
<rect x="427" y="177.7" width="1" height="0.8" fill="#666"/>
<text x="425.3" y="188.6" class="lb" text-anchor="end" textLength="74.0" lengthAdjust="spacingAndGlyphs">dressing &amp; hygiene</text>
<rect x="427" y="186.3" width="1" height="0.8" fill="#666"/>
<text x="425.3" y="197.2" class="lb" text-anchor="end" textLength="123.1" lengthAdjust="spacingAndGlyphs">cutting food &amp; handing utensils</text>
<rect x="427" y="194.9" width="1" height="0.8" fill="#666"/>
<text x="425.3" y="205.8" class="lb" text-anchor="end" textLength="49.8" lengthAdjust="spacingAndGlyphs">hand writing</text>
<rect x="427" y="203.5" width="1" height="0.8" fill="#666"/>
<text x="425.3" y="214.4" class="lb" text-anchor="end" textLength="44.5" lengthAdjust="spacingAndGlyphs">swallowing</text>
<rect x="427" y="212.1" width="1" height="0.8" fill="#666"/>
<text x="425.3" y="223.0" class="lb" text-anchor="end" textLength="37.2" lengthAdjust="spacingAndGlyphs">salivation</text>
<rect x="427" y="220.7" width="1" height="0.8" fill="#666"/>
<text x="425.3" y="231.5" class="lb" text-anchor="end" textLength="27.5" lengthAdjust="spacingAndGlyphs">speech</text>
<rect x="427" y="229.2" width="1" height="0.8" fill="#666"/>
<text x="425.3" y="240.1" class="lb" text-anchor="end" textLength="68.2" lengthAdjust="spacingAndGlyphs">ECAS - total score</text>
<rect x="427" y="237.8" width="1" height="0.8" fill="#666"/>
<text x="425.3" y="248.7" class="lb" text-anchor="end" textLength="83.6" lengthAdjust="spacingAndGlyphs">ALS non specific total</text>
<rect x="427" y="246.4" width="1" height="0.8" fill="#666"/>
<text x="425.3" y="257.3" class="lb" text-anchor="end" textLength="66.6" lengthAdjust="spacingAndGlyphs">visuospatial total</text>
<rect x="427" y="255.0" width="1" height="0.8" fill="#666"/>
<text x="425.3" y="265.9" class="lb" text-anchor="end" textLength="53.3" lengthAdjust="spacingAndGlyphs">memory total</text>
<rect x="427" y="263.6" width="1" height="0.8" fill="#666"/>
<text x="425.3" y="274.5" class="lb" text-anchor="end" textLength="66.1" lengthAdjust="spacingAndGlyphs">ALS specific total</text>
<rect x="427" y="272.2" width="1" height="0.8" fill="#666"/>
<text x="425.3" y="283.1" class="lb" text-anchor="end" textLength="57.3" lengthAdjust="spacingAndGlyphs">executive total</text>
<rect x="427" y="280.8" width="1" height="0.8" fill="#666"/>
<text x="425.3" y="291.7" class="lb" text-anchor="end" textLength="75.0" lengthAdjust="spacingAndGlyphs">verbal fluency total</text>
<rect x="427" y="289.4" width="1" height="0.8" fill="#666"/>
<text x="425.3" y="300.3" class="lb" text-anchor="end" textLength="56.4" lengthAdjust="spacingAndGlyphs">language total</text>
<rect x="427" y="298.0" width="1" height="0.8" fill="#666"/>
<text x="425.3" y="308.9" class="lb" text-anchor="end" textLength="64.5" lengthAdjust="spacingAndGlyphs">number location</text>
<rect x="427" y="306.6" width="1" height="0.8" fill="#666"/>
<text x="425.3" y="317.5" class="lb" text-anchor="end" textLength="56.4" lengthAdjust="spacingAndGlyphs">cube counting</text>
<rect x="427" y="315.2" width="1" height="0.8" fill="#666"/>
<text x="425.3" y="326.1" class="lb" text-anchor="end" textLength="50.8" lengthAdjust="spacingAndGlyphs">dot counting</text>
<rect x="427" y="323.8" width="1" height="0.8" fill="#666"/>
<text x="425.3" y="334.7" class="lb" text-anchor="end" textLength="78.3" lengthAdjust="spacingAndGlyphs">delayed recognition</text>
<rect x="427" y="332.4" width="1" height="0.8" fill="#666"/>
<text x="425.3" y="343.3" class="lb" text-anchor="end" textLength="53.4" lengthAdjust="spacingAndGlyphs">delayed recall</text>
<rect x="427" y="341.0" width="1" height="0.8" fill="#666"/>
<text x="425.3" y="351.9" class="lb" text-anchor="end" textLength="64.5" lengthAdjust="spacingAndGlyphs">immediate recall</text>
<rect x="427" y="349.6" width="1" height="0.8" fill="#666"/>
<text x="425.3" y="360.5" class="lb" text-anchor="end" textLength="61.3" lengthAdjust="spacingAndGlyphs">social cognition</text>
<rect x="427" y="358.2" width="1" height="0.8" fill="#666"/>
<text x="425.3" y="369.0" class="lb" text-anchor="end" textLength="82.5" lengthAdjust="spacingAndGlyphs">sentence completion</text>
<rect x="427" y="366.7" width="1" height="0.8" fill="#666"/>
<text x="425.3" y="377.6" class="lb" text-anchor="end" textLength="43.0" lengthAdjust="spacingAndGlyphs">alternation</text>
<rect x="427" y="375.3" width="1" height="0.8" fill="#666"/>
<text x="425.3" y="386.2" class="lb" text-anchor="end" textLength="47.7" lengthAdjust="spacingAndGlyphs">RevDigSpan</text>
<rect x="427" y="383.9" width="1" height="0.8" fill="#666"/>
<text x="425.3" y="394.8" class="lb" text-anchor="end" textLength="61.7" lengthAdjust="spacingAndGlyphs">verbal fluency T</text>
<rect x="427" y="392.5" width="1" height="0.8" fill="#666"/>
<text x="425.3" y="403.4" class="lb" text-anchor="end" textLength="62.1" lengthAdjust="spacingAndGlyphs">verbal fluency S</text>
<rect x="427" y="401.1" width="1" height="0.8" fill="#666"/>
<text x="425.3" y="412.0" class="lb" text-anchor="end" textLength="30.5" lengthAdjust="spacingAndGlyphs">spelling</text>
<rect x="427" y="409.7" width="1" height="0.8" fill="#666"/>
<text x="425.3" y="420.6" class="lb" text-anchor="end" textLength="61.7" lengthAdjust="spacingAndGlyphs">comprehension</text>
<rect x="427" y="418.3" width="1" height="0.8" fill="#666"/>
<text x="425.3" y="429.2" class="lb" text-anchor="end" textLength="29.8" lengthAdjust="spacingAndGlyphs">naming</text>
<rect x="427" y="426.9" width="1" height="0.8" fill="#666"/>
<text x="425.3" y="437.8" class="lb" text-anchor="end" textLength="85.0" lengthAdjust="spacingAndGlyphs">foot tapping - left avg</text>
<rect x="427" y="435.5" width="1" height="0.8" fill="#666"/>
<text x="425.3" y="446.4" class="lb" text-anchor="end" textLength="90.7" lengthAdjust="spacingAndGlyphs">foot tapping - right avg</text>
<rect x="427" y="444.1" width="1" height="0.8" fill="#666"/>
<text x="425.3" y="455.0" class="lb" text-anchor="end" textLength="91.9" lengthAdjust="spacingAndGlyphs">finger tapping - left avg</text>
<rect x="427" y="452.7" width="1" height="0.8" fill="#666"/>
<text x="425.3" y="463.6" class="lb" text-anchor="end" textLength="97.8" lengthAdjust="spacingAndGlyphs">finger tapping - right avg</text>
<rect x="427" y="461.3" width="1" height="0.8" fill="#666"/>
<text x="425.3" y="472.2" class="lb" text-anchor="end" textLength="57.5" lengthAdjust="spacingAndGlyphs">trial2 - left foot</text>
<rect x="427" y="469.9" width="1" height="0.8" fill="#666"/>
<text x="425.3" y="480.8" class="lb" text-anchor="end" textLength="63.4" lengthAdjust="spacingAndGlyphs">trial2 - right foot</text>
<rect x="427" y="478.5" width="1" height="0.8" fill="#666"/>
<text x="425.3" y="489.4" class="lb" text-anchor="end" textLength="57.5" lengthAdjust="spacingAndGlyphs">trial1 - left foot</text>
<rect x="427" y="487.1" width="1" height="0.8" fill="#666"/>
<text x="425.3" y="498.0" class="lb" text-anchor="end" textLength="63.4" lengthAdjust="spacingAndGlyphs">trial1 - right foot</text>
<rect x="427" y="495.7" width="1" height="0.8" fill="#666"/>
<text x="425.3" y="506.6" class="lb" text-anchor="end" textLength="64.6" lengthAdjust="spacingAndGlyphs">trial2 - left finger</text>
<rect x="427" y="504.3" width="1" height="0.8" fill="#666"/>
<text x="425.3" y="515.1" class="lb" text-anchor="end" textLength="70.5" lengthAdjust="spacingAndGlyphs">trial2 - right finger</text>
<rect x="427" y="512.8" width="1" height="0.8" fill="#666"/>
<text x="425.3" y="523.7" class="lb" text-anchor="end" textLength="64.6" lengthAdjust="spacingAndGlyphs">trial1 - left finger</text>
<rect x="427" y="521.4" width="1" height="0.8" fill="#666"/>
<text x="425.3" y="532.3" class="lb" text-anchor="end" textLength="70.5" lengthAdjust="spacingAndGlyphs">trial1 - right finger</text>
<rect x="427" y="530.0" width="1" height="0.8" fill="#666"/>
<rect x="434.2" y="536.2" width="0.9" height="1.6" fill="#666"/>
<text x="425.3" y="546.3" class="tk" textLength="19" lengthAdjust="spacingAndGlyphs">-0.50</text>
<rect x="494.2" y="536.2" width="0.9" height="1.6" fill="#666"/>
<text x="484.2" y="546.3" class="tk" textLength="19" lengthAdjust="spacingAndGlyphs">-0.25</text>
<rect x="554.2" y="536.2" width="0.9" height="1.6" fill="#666"/>
<text x="548.2" y="546.3" class="tk" textLength="15.8" lengthAdjust="spacingAndGlyphs">0.00</text>
<rect x="614.6" y="536.2" width="0.9" height="1.6" fill="#666"/>
<text x="607.8" y="546.3" class="tk" textLength="15.9" lengthAdjust="spacingAndGlyphs">0.25</text>
<rect x="674.8" y="536.2" width="0.9" height="1.6" fill="#666"/>
<text x="668.0" y="546.3" class="tk" textLength="16.4" lengthAdjust="spacingAndGlyphs">0.50</text>
<text x="520.1" y="557.2" class="ax" textLength="70.1" lengthAdjust="spacingAndGlyphs">behavior loadings</text>
<rect x="638.5" y="4.3" width="6.2" height="6.2" fill="#a9a9a9" stroke="#555" stroke-width="0.6"/>
<text x="650.2" y="10.7" class="lg" textLength="11.8" lengthAdjust="spacingAndGlyphs">Bio</text>
<rect x="638.5" y="14.8" width="6.2" height="6.2" fill="#d3a72f" stroke="#555" stroke-width="0.6"/>
<text x="650.2" y="21.2" class="lg" textLength="31.6" lengthAdjust="spacingAndGlyphs">Reflexes</text>
<rect x="638.5" y="25.3" width="6.2" height="6.2" fill="#eba263" stroke="#555" stroke-width="0.6"/>
<text x="650.2" y="31.7" class="lg" textLength="18.6" lengthAdjust="spacingAndGlyphs">Tone</text>
<rect x="638.5" y="35.8" width="6.2" height="6.2" fill="#b38488" stroke="#555" stroke-width="0.6"/>
<text x="650.2" y="42.2" class="lg" textLength="28.5" lengthAdjust="spacingAndGlyphs">ALSFRS</text>
<rect x="638.5" y="46.3" width="6.2" height="6.2" fill="#ee7570" stroke="#555" stroke-width="0.6"/>
<text x="650.2" y="52.7" class="lg" textLength="19.9" lengthAdjust="spacingAndGlyphs">ECAS</text>
<rect x="638.5" y="56.8" width="6.2" height="6.2" fill="#de8f76" stroke="#555" stroke-width="0.6"/>
<text x="650.2" y="63.2" class="lg" textLength="14.3" lengthAdjust="spacingAndGlyphs">TAP</text>
</svg>
</body></html>
